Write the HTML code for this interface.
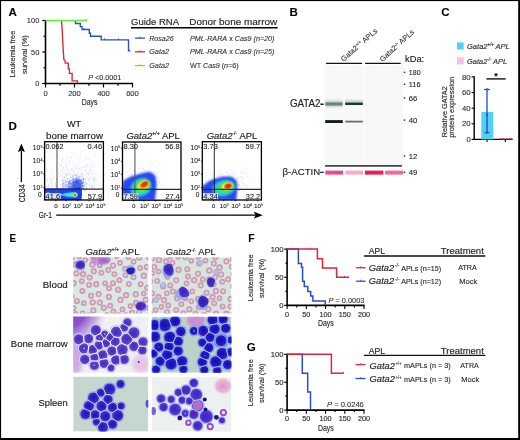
<!DOCTYPE html>
<html><head><meta charset="utf-8"><style>
html,body{margin:0;padding:0;background:#fff;}
body{width:520px;height:440px;overflow:hidden;}
svg{display:block;font-family:"Liberation Sans",sans-serif;will-change:transform;}
text{stroke:#2a2a2a;stroke-width:0.1px;}
.s{stroke-width:0.16px;}
</style></head><body>
<svg width="520" height="440" viewBox="0 0 520 440">
<rect x="0" y="0" width="520" height="440" fill="#fff"/>
<text x="8.50" y="15.80" font-size="11.60" text-anchor="start" fill="#000" font-weight="bold" >A</text>
<text x="289.60" y="15.80" font-size="11.60" text-anchor="start" fill="#000" font-weight="bold" >B</text>
<text x="441.30" y="16.00" font-size="11.60" text-anchor="start" fill="#000" font-weight="bold" >C</text>
<text x="8.40" y="129.80" font-size="11.60" text-anchor="start" fill="#000" font-weight="bold" >D</text>
<text x="9.50" y="241.90" font-size="11.60" text-anchor="start" fill="#000" font-weight="bold" textLength="6.60" lengthAdjust="spacingAndGlyphs" >E</text>
<text x="248.30" y="242.00" font-size="11.60" text-anchor="start" fill="#000" font-weight="bold" textLength="6.40" lengthAdjust="spacingAndGlyphs" >F</text>
<text x="246.80" y="350.70" font-size="11.60" text-anchor="start" fill="#000" font-weight="bold" >G</text>
<line x1="45.50" y1="19.90" x2="45.50" y2="84.30" stroke="#000" stroke-width="1.6"/>
<line x1="44.70" y1="83.50" x2="133.10" y2="83.50" stroke="#000" stroke-width="1.6"/>
<line x1="42.30" y1="20.50" x2="45.50" y2="20.50" stroke="#000" stroke-width="1.2"/>
<line x1="43.50" y1="36.25" x2="45.50" y2="36.25" stroke="#000" stroke-width="1.2"/>
<line x1="42.30" y1="52.00" x2="45.50" y2="52.00" stroke="#000" stroke-width="1.2"/>
<line x1="43.50" y1="67.75" x2="45.50" y2="67.75" stroke="#000" stroke-width="1.2"/>
<line x1="42.30" y1="83.50" x2="45.50" y2="83.50" stroke="#000" stroke-width="1.2"/>
<line x1="45.50" y1="83.50" x2="45.50" y2="87.50" stroke="#000" stroke-width="1.2"/>
<line x1="60.00" y1="83.50" x2="60.00" y2="85.70" stroke="#000" stroke-width="1.2"/>
<line x1="74.50" y1="83.50" x2="74.50" y2="87.50" stroke="#000" stroke-width="1.2"/>
<line x1="89.00" y1="83.50" x2="89.00" y2="85.70" stroke="#000" stroke-width="1.2"/>
<line x1="103.50" y1="83.50" x2="103.50" y2="87.50" stroke="#000" stroke-width="1.2"/>
<line x1="118.00" y1="83.50" x2="118.00" y2="85.70" stroke="#000" stroke-width="1.2"/>
<line x1="132.50" y1="83.50" x2="132.50" y2="87.50" stroke="#000" stroke-width="1.2"/>
<text x="39.30" y="23.40" font-size="7.40" text-anchor="end" fill="#333" textLength="12.45" lengthAdjust="spacingAndGlyphs" >100</text>
<text x="39.30" y="54.90" font-size="7.40" text-anchor="end" fill="#333" textLength="8.30" lengthAdjust="spacingAndGlyphs" >50</text>
<text x="39.30" y="86.40" font-size="7.40" text-anchor="end" fill="#333" textLength="4.15" lengthAdjust="spacingAndGlyphs" >0</text>
<text x="45.50" y="95.80" font-size="7.30" text-anchor="middle" fill="#333" textLength="4.25" lengthAdjust="spacingAndGlyphs" >0</text>
<text x="74.50" y="95.80" font-size="7.30" text-anchor="middle" fill="#333" textLength="12.75" lengthAdjust="spacingAndGlyphs" >200</text>
<text x="103.50" y="95.80" font-size="7.30" text-anchor="middle" fill="#333" textLength="12.75" lengthAdjust="spacingAndGlyphs" >400</text>
<text x="132.50" y="95.80" font-size="7.30" text-anchor="middle" fill="#333" textLength="12.75" lengthAdjust="spacingAndGlyphs" >600</text>
<text x="89.60" y="104.90" font-size="8.40" text-anchor="middle" fill="#333" class="s" textLength="15.60" lengthAdjust="spacingAndGlyphs" >Days</text>
<text transform="translate(15.20,54.10) rotate(-90)" font-size="7.90" text-anchor="middle" fill="#333" class="s" textLength="46.80" lengthAdjust="spacingAndGlyphs" >Leukemia free</text>
<text transform="translate(27.30,54.60) rotate(-90)" font-size="7.90" text-anchor="middle" fill="#333" class="s" textLength="38.90" lengthAdjust="spacingAndGlyphs" >survival (%)</text>
<text x="88.20" y="79.50" font-size="7.30" text-anchor="start" fill="#333" textLength="33.00" lengthAdjust="spacingAndGlyphs" ><tspan font-style="italic">P</tspan> &lt;0.0001</text>
<path d="M61.60,20.50 L61.60,22.30 L62.20,30.00 L62.70,40.00 L63.20,50.00 L63.90,59.60 L65.20,61.00 L65.20,63.10 L68.30,63.10 L68.30,68.90 L69.40,68.90 L69.40,73.30 L72.10,73.30 L72.10,80.90 L77.40,80.90 L77.40,83.30" fill="none" stroke="#d9263a" stroke-width="1.35" stroke-linejoin="miter" stroke-linecap="butt"/>
<path d="M75.50,20.50 L75.50,20.50 L75.50,23.50 L80.30,23.50 L80.30,26.60 L82.00,26.60 L82.00,29.50 L89.30,29.50 L89.30,33.20 L90.50,33.20 L90.50,36.20 L101.20,36.20 L101.20,39.90 L128.50,39.90 L128.50,50.70 L130.20,50.70 L130.20,50.70" fill="none" stroke="#2a50c0" stroke-width="1.4" stroke-linejoin="miter" stroke-linecap="butt"/>
<line x1="84.00" y1="28.00" x2="84.00" y2="29.50" stroke="#2a50c0" stroke-width="0.9"/>
<line x1="104.50" y1="38.40" x2="104.50" y2="39.90" stroke="#2a50c0" stroke-width="0.9"/>
<line x1="118.50" y1="38.40" x2="118.50" y2="39.90" stroke="#2a50c0" stroke-width="0.9"/>
<path d="M45.50,20.50 L86.50,20.50 L86.50,19.00" fill="none" stroke="#5cf03a" stroke-width="1.6" stroke-linejoin="miter" stroke-linecap="butt"/>
<text x="131.00" y="25.10" font-size="9.20" text-anchor="start" fill="#231f20" class="s" textLength="48.00" lengthAdjust="spacingAndGlyphs" >Guide RNA</text>
<text x="189.20" y="25.10" font-size="9.20" text-anchor="start" fill="#231f20" class="s" textLength="88.00" lengthAdjust="spacingAndGlyphs" >Donor bone marrow</text>
<line x1="131.00" y1="27.80" x2="277.70" y2="27.80" stroke="#000" stroke-width="1.6"/>
<line x1="135.00" y1="38.10" x2="145.00" y2="38.10" stroke="#2a50c0" stroke-width="1.3"/>
<line x1="140.00" y1="36.50" x2="140.00" y2="38.10" stroke="#2a50c0" stroke-width="0.8"/>
<text x="149.20" y="40.70" font-size="7.40" text-anchor="start" fill="#333" font-style="italic" textLength="24.50" lengthAdjust="spacingAndGlyphs" >Rosa26</text>
<text x="190.00" y="40.70" font-size="6.90" text-anchor="start" fill="#333" font-style="italic" textLength="84.50" lengthAdjust="spacingAndGlyphs" >PML-RARA<tspan font-style="normal"> x </tspan>Cas9 (<tspan font-style="italic">n</tspan>=20)</text>
<line x1="135.00" y1="51.80" x2="145.00" y2="51.80" stroke="#d9263a" stroke-width="1.3"/>
<line x1="140.00" y1="50.20" x2="140.00" y2="51.80" stroke="#d9263a" stroke-width="0.8"/>
<text x="149.20" y="54.40" font-size="7.40" text-anchor="start" fill="#333" font-style="italic" textLength="19.80" lengthAdjust="spacingAndGlyphs" >Gata2</text>
<text x="190.00" y="54.40" font-size="6.90" text-anchor="start" fill="#333" font-style="italic" textLength="84.50" lengthAdjust="spacingAndGlyphs" >PML-RARA<tspan font-style="normal"> x </tspan>Cas9 (<tspan font-style="italic">n</tspan>=25)</text>
<line x1="135.00" y1="65.60" x2="145.00" y2="65.60" stroke="#5cf03a" stroke-width="1.3"/>
<line x1="140.00" y1="64.00" x2="140.00" y2="65.60" stroke="#5cf03a" stroke-width="0.8"/>
<text x="149.20" y="68.20" font-size="7.40" text-anchor="start" fill="#333" font-style="italic" textLength="19.80" lengthAdjust="spacingAndGlyphs" >Gata2</text>
<text x="190.00" y="68.20" font-size="6.90" text-anchor="start" fill="#333" textLength="48.70" lengthAdjust="spacingAndGlyphs" >WT <tspan font-style="italic">Cas9</tspan> (<tspan font-style="italic">n</tspan>=6)</text>
<rect x="324.3" y="65" width="78.6" height="100" fill="#f8f8f8"/>
<rect x="343.6" y="65" width="1.2" height="100" fill="#fcfcfc"/>
<rect x="363.6" y="65" width="1.2" height="100" fill="#fcfcfc"/>
<rect x="383.6" y="65" width="1.2" height="100" fill="#fcfcfc"/>
<line x1="326.10" y1="63.40" x2="362.00" y2="63.40" stroke="#111" stroke-width="1.4"/>
<line x1="365.20" y1="63.40" x2="400.70" y2="63.40" stroke="#111" stroke-width="1.4"/>
<text transform="translate(343.60,61.90) rotate(-41.5)" font-size="7.40" fill="#333" textLength="45.80" lengthAdjust="spacingAndGlyphs">Gata2<tspan font-size="4.4" dy="-2.6">+/+</tspan><tspan dy="2.6"> APLs</tspan></text>
<text transform="translate(382.40,62.20) rotate(-42.5)" font-size="7.40" fill="#333" textLength="43.80" lengthAdjust="spacingAndGlyphs">Gata2<tspan font-size="4.4" dy="-2.6">-/-</tspan><tspan dy="2.6"> APLs</tspan></text>
<defs><filter id="bl1" x="-20%" y="-200%" width="140%" height="500%"><feGaussianBlur stdDeviation="0.45 0.6"/></filter><filter id="bl2" x="-20%" y="-200%" width="140%" height="500%"><feGaussianBlur stdDeviation="0.5 1.3"/></filter><filter id="bl3" x="-50%" y="-50%" width="200%" height="200%"><feGaussianBlur stdDeviation="0.6"/></filter><filter id="bl4" x="-50%" y="-50%" width="200%" height="200%"><feGaussianBlur stdDeviation="1.2"/></filter><filter id="bl5" x="-50%" y="-50%" width="200%" height="200%"><feGaussianBlur stdDeviation="2.2"/></filter></defs>
<rect x="325.2" y="100.4" width="17.6" height="6.6" fill="#c8d3cf" filter="url(#bl2)"/>
<rect x="325.4" y="102.4" width="17.2" height="3.2" fill="#6f827c" filter="url(#bl1)"/>
<rect x="345.2" y="100.2" width="17.6" height="4" fill="#c3d0cb" filter="url(#bl2)"/>
<rect x="345.2" y="102.6" width="17.6" height="2.4" fill="#1f3631" filter="url(#bl1)"/>
<rect x="325.2" y="120.1" width="17.6" height="2.9" fill="#10231f" filter="url(#bl1)"/>
<rect x="345.2" y="120.7" width="17.6" height="1.8" fill="#5d716b" filter="url(#bl1)"/>
<line x1="325.10" y1="165.80" x2="401.90" y2="165.80" stroke="#444" stroke-width="1.8"/>
<rect x="325.3" y="170.6" width="17.8" height="4.0" fill="#f04a88" filter="url(#bl1)"/>
<rect x="345.4" y="170.6" width="17.6" height="4.0" fill="#fcaacb" filter="url(#bl1)"/>
<rect x="364.9" y="170.6" width="18.5" height="4.0" fill="#f01a4c" filter="url(#bl1)"/>
<rect x="385.1" y="170.6" width="18.1" height="4.0" fill="#f56a9a" filter="url(#bl1)"/>
<text x="289.90" y="106.60" font-size="10.60" text-anchor="start" fill="#222" class="s" textLength="33.90" lengthAdjust="spacingAndGlyphs" >GATA2-</text>
<line x1="320.20" y1="104.10" x2="323.70" y2="104.10" stroke="#222" stroke-width="1.2"/>
<text x="282.60" y="175.10" font-size="9.60" text-anchor="start" fill="#222" class="s" textLength="40.70" lengthAdjust="spacingAndGlyphs" >&#946;-ACTIN-</text>
<line x1="320.20" y1="172.30" x2="323.70" y2="172.30" stroke="#222" stroke-width="1.2"/>
<text x="405.00" y="61.50" font-size="9.30" text-anchor="start" fill="#222" class="s" textLength="19.20" lengthAdjust="spacingAndGlyphs" >kDa:</text>
<line x1="403.70" y1="72.30" x2="405.20" y2="72.30" stroke="#222" stroke-width="1.3"/>
<text x="408.80" y="74.95" font-size="7.50" text-anchor="start" fill="#222" textLength="11.80" lengthAdjust="spacingAndGlyphs" >180</text>
<line x1="403.70" y1="84.30" x2="405.20" y2="84.30" stroke="#222" stroke-width="1.3"/>
<text x="408.80" y="86.95" font-size="7.50" text-anchor="start" fill="#222" textLength="11.80" lengthAdjust="spacingAndGlyphs" >116</text>
<line x1="403.70" y1="98.00" x2="405.20" y2="98.00" stroke="#222" stroke-width="1.3"/>
<text x="408.80" y="100.65" font-size="7.50" text-anchor="start" fill="#222" textLength="8.60" lengthAdjust="spacingAndGlyphs" >66</text>
<line x1="403.70" y1="120.10" x2="405.20" y2="120.10" stroke="#222" stroke-width="1.3"/>
<text x="408.80" y="122.75" font-size="7.50" text-anchor="start" fill="#222" textLength="8.60" lengthAdjust="spacingAndGlyphs" >40</text>
<line x1="403.70" y1="156.10" x2="405.20" y2="156.10" stroke="#222" stroke-width="1.3"/>
<text x="408.80" y="158.75" font-size="7.50" text-anchor="start" fill="#222" textLength="8.60" lengthAdjust="spacingAndGlyphs" >12</text>
<line x1="403.70" y1="172.30" x2="405.20" y2="172.30" stroke="#222" stroke-width="1.3"/>
<text x="408.80" y="174.95" font-size="7.50" text-anchor="start" fill="#222" textLength="8.60" lengthAdjust="spacingAndGlyphs" >49</text>
<rect x="457.0" y="42.4" width="6.7" height="7.1" fill="#4fd2f6"/>
<rect x="457.0" y="57.3" width="6.7" height="7.2" fill="#f3c2e3"/>
<text x="467.00" y="49.20" font-size="7.90" text-anchor="start" fill="#333" font-style="italic" class="s" textLength="42.80" lengthAdjust="spacingAndGlyphs" >Gata2<tspan font-size="4.5" dy="-2.8">+/+</tspan><tspan dy="2.8"> APL</tspan></text>
<text x="467.00" y="63.90" font-size="7.90" text-anchor="start" fill="#333" font-style="italic" class="s" textLength="40.20" lengthAdjust="spacingAndGlyphs" >Gata2<tspan font-size="4.5" dy="-2.8">-/-</tspan><tspan dy="2.8"> APL</tspan></text>
<line x1="474.20" y1="76.30" x2="474.20" y2="140.10" stroke="#000" stroke-width="1.4"/>
<line x1="473.50" y1="139.40" x2="512.60" y2="139.40" stroke="#000" stroke-width="1.4"/>
<line x1="471.60" y1="139.40" x2="474.20" y2="139.40" stroke="#000" stroke-width="1.1"/>
<text x="470.70" y="142.00" font-size="7.40" text-anchor="end" fill="#333" textLength="4.20" lengthAdjust="spacingAndGlyphs" >0</text>
<line x1="471.60" y1="123.78" x2="474.20" y2="123.78" stroke="#000" stroke-width="1.1"/>
<text x="470.70" y="126.38" font-size="7.40" text-anchor="end" fill="#333" textLength="8.70" lengthAdjust="spacingAndGlyphs" >20</text>
<line x1="471.60" y1="108.15" x2="474.20" y2="108.15" stroke="#000" stroke-width="1.1"/>
<text x="470.70" y="110.75" font-size="7.40" text-anchor="end" fill="#333" textLength="8.70" lengthAdjust="spacingAndGlyphs" >40</text>
<line x1="471.60" y1="92.53" x2="474.20" y2="92.53" stroke="#000" stroke-width="1.1"/>
<text x="470.70" y="95.12" font-size="7.40" text-anchor="end" fill="#333" textLength="8.70" lengthAdjust="spacingAndGlyphs" >60</text>
<line x1="471.60" y1="76.90" x2="474.20" y2="76.90" stroke="#000" stroke-width="1.1"/>
<text x="470.70" y="79.50" font-size="7.40" text-anchor="end" fill="#333" textLength="8.70" lengthAdjust="spacingAndGlyphs" >80</text>
<line x1="487.00" y1="139.40" x2="487.00" y2="142.00" stroke="#000" stroke-width="1.1"/>
<line x1="505.30" y1="139.40" x2="505.30" y2="142.00" stroke="#000" stroke-width="1.1"/>
<rect x="481.3" y="111.9" width="11.9" height="27.5" fill="#4fd2f6"/>
<line x1="487.00" y1="89.50" x2="487.00" y2="132.70" stroke="#2448b8" stroke-width="1.3"/>
<line x1="484.00" y1="89.50" x2="490.00" y2="89.50" stroke="#2a50c0" stroke-width="1.2"/>
<line x1="484.60" y1="132.70" x2="489.40" y2="132.70" stroke="#2a50c0" stroke-width="1.2"/>
<circle cx="487" cy="89.3" r="1.1" fill="#2a50c0"/>
<circle cx="487" cy="114.8" r="1.1" fill="#2a50c0"/>
<circle cx="487" cy="132.6" r="1.1" fill="#2a50c0"/>
<circle cx="500.5" cy="139.0" r="0.9" fill="#e0203a"/>
<circle cx="503.5" cy="139.0" r="0.9" fill="#e0203a"/>
<circle cx="506.5" cy="139.0" r="0.9" fill="#e0203a"/>
<circle cx="509.5" cy="139.0" r="0.9" fill="#e0203a"/>
<circle cx="511.5" cy="139.0" r="0.9" fill="#e0203a"/>
<line x1="486.40" y1="78.90" x2="505.70" y2="78.90" stroke="#000" stroke-width="1.3"/>
<text x="496.00" y="78.60" font-size="9.00" text-anchor="middle" fill="#000" font-weight="bold" >*</text>
<text transform="translate(446.90,111.80) rotate(-90)" font-size="8.00" text-anchor="middle" fill="#333" class="s" textLength="51.10" lengthAdjust="spacingAndGlyphs" >Relative GATA2</text>
<text transform="translate(454.20,107.30) rotate(-90)" font-size="8.00" text-anchor="middle" fill="#333" class="s" textLength="61.00" lengthAdjust="spacingAndGlyphs" >protein expression</text>
<defs><clipPath id="cp0"><rect x="44.6" y="141.7" width="58.8" height="58.3"/></clipPath><clipPath id="cp1"><rect x="122.5" y="142.0" width="58.5" height="58.2"/></clipPath><clipPath id="cp2"><rect x="202.3" y="141.7" width="59.1" height="58.3"/></clipPath></defs>
<g clip-path="url(#cp0)">
<g fill="#5a70f0" fill-opacity="0.3"><circle cx="71.8" cy="178.3" r="0.4"/><circle cx="98.7" cy="175.7" r="0.4"/><circle cx="74.9" cy="179.0" r="0.4"/><circle cx="56.5" cy="177.0" r="0.4"/><circle cx="81.9" cy="183.8" r="0.4"/><circle cx="51.4" cy="170.4" r="0.4"/><circle cx="51.2" cy="184.2" r="0.4"/><circle cx="85.5" cy="155.9" r="0.4"/><circle cx="102.0" cy="187.3" r="0.4"/><circle cx="83.3" cy="179.7" r="0.4"/><circle cx="55.0" cy="152.2" r="0.4"/><circle cx="76.1" cy="157.7" r="0.4"/><circle cx="56.8" cy="168.0" r="0.4"/><circle cx="47.7" cy="175.6" r="0.4"/><circle cx="71.1" cy="184.9" r="0.4"/><circle cx="75.6" cy="180.3" r="0.4"/><circle cx="74.5" cy="180.8" r="0.4"/><circle cx="72.1" cy="169.5" r="0.4"/><circle cx="102.9" cy="187.9" r="0.4"/><circle cx="93.9" cy="181.9" r="0.4"/><circle cx="64.0" cy="167.5" r="0.4"/><circle cx="62.5" cy="158.6" r="0.4"/><circle cx="89.7" cy="173.7" r="0.4"/><circle cx="94.3" cy="173.3" r="0.4"/><circle cx="100.6" cy="185.0" r="0.4"/><circle cx="46.0" cy="166.6" r="0.4"/><circle cx="97.9" cy="175.8" r="0.4"/><circle cx="101.9" cy="173.6" r="0.4"/><circle cx="50.2" cy="180.0" r="0.4"/><circle cx="90.4" cy="169.2" r="0.4"/><circle cx="51.0" cy="171.5" r="0.4"/><circle cx="101.0" cy="183.0" r="0.4"/><circle cx="52.7" cy="168.2" r="0.4"/><circle cx="51.8" cy="157.7" r="0.4"/><circle cx="91.4" cy="165.2" r="0.4"/><circle cx="77.9" cy="175.1" r="0.4"/><circle cx="56.9" cy="182.4" r="0.4"/><circle cx="53.5" cy="180.4" r="0.4"/><circle cx="52.6" cy="174.3" r="0.4"/><circle cx="58.1" cy="169.2" r="0.4"/><circle cx="101.3" cy="184.0" r="0.4"/><circle cx="63.3" cy="185.7" r="0.4"/><circle cx="58.0" cy="173.5" r="0.4"/><circle cx="94.7" cy="180.3" r="0.4"/><circle cx="51.7" cy="187.8" r="0.4"/><circle cx="58.2" cy="168.7" r="0.4"/><circle cx="90.0" cy="171.3" r="0.4"/><circle cx="62.9" cy="158.8" r="0.4"/><circle cx="51.1" cy="178.9" r="0.4"/><circle cx="59.9" cy="179.3" r="0.4"/><circle cx="67.2" cy="175.3" r="0.4"/><circle cx="100.7" cy="176.2" r="0.4"/><circle cx="78.8" cy="185.4" r="0.4"/><circle cx="56.4" cy="164.0" r="0.4"/><circle cx="97.8" cy="184.3" r="0.4"/><circle cx="60.2" cy="165.7" r="0.4"/><circle cx="88.1" cy="186.8" r="0.4"/><circle cx="57.2" cy="187.0" r="0.4"/><circle cx="96.3" cy="179.4" r="0.4"/><circle cx="70.0" cy="161.0" r="0.4"/><circle cx="48.2" cy="187.3" r="0.4"/><circle cx="59.6" cy="181.8" r="0.4"/><circle cx="60.6" cy="184.5" r="0.4"/><circle cx="80.0" cy="170.1" r="0.4"/><circle cx="56.0" cy="182.2" r="0.4"/><circle cx="49.9" cy="167.5" r="0.4"/><circle cx="77.9" cy="185.1" r="0.4"/><circle cx="81.0" cy="169.6" r="0.4"/><circle cx="98.3" cy="166.4" r="0.4"/><circle cx="46.9" cy="169.1" r="0.4"/><circle cx="71.4" cy="157.7" r="0.4"/><circle cx="56.0" cy="172.7" r="0.4"/><circle cx="78.6" cy="162.7" r="0.4"/><circle cx="66.6" cy="185.9" r="0.4"/><circle cx="101.9" cy="180.7" r="0.4"/><circle cx="85.4" cy="178.9" r="0.4"/><circle cx="54.0" cy="155.2" r="0.4"/><circle cx="47.0" cy="186.2" r="0.4"/><circle cx="86.0" cy="187.3" r="0.4"/><circle cx="47.2" cy="180.2" r="0.4"/><circle cx="73.5" cy="182.4" r="0.4"/><circle cx="64.2" cy="188.0" r="0.4"/><circle cx="50.3" cy="177.9" r="0.4"/><circle cx="88.0" cy="186.0" r="0.4"/><circle cx="88.0" cy="181.8" r="0.4"/><circle cx="91.2" cy="186.3" r="0.4"/><circle cx="66.1" cy="181.4" r="0.4"/><circle cx="97.3" cy="185.4" r="0.4"/><circle cx="69.8" cy="183.7" r="0.4"/><circle cx="95.2" cy="178.6" r="0.4"/><circle cx="81.6" cy="173.1" r="0.4"/><circle cx="79.2" cy="179.5" r="0.4"/><circle cx="50.6" cy="180.3" r="0.4"/><circle cx="102.6" cy="185.6" r="0.4"/><circle cx="87.5" cy="173.3" r="0.4"/><circle cx="87.9" cy="178.8" r="0.4"/><circle cx="71.1" cy="184.8" r="0.4"/><circle cx="50.8" cy="182.9" r="0.4"/><circle cx="47.7" cy="179.3" r="0.4"/><circle cx="73.4" cy="167.5" r="0.4"/><circle cx="85.8" cy="176.6" r="0.4"/><circle cx="81.0" cy="186.4" r="0.4"/><circle cx="60.6" cy="151.5" r="0.4"/><circle cx="63.2" cy="181.2" r="0.4"/><circle cx="57.5" cy="164.7" r="0.4"/><circle cx="97.6" cy="180.8" r="0.4"/><circle cx="71.2" cy="185.9" r="0.4"/><circle cx="64.6" cy="180.9" r="0.4"/><circle cx="57.3" cy="174.6" r="0.4"/><circle cx="91.9" cy="186.3" r="0.4"/><circle cx="96.2" cy="173.2" r="0.4"/><circle cx="79.2" cy="170.9" r="0.4"/><circle cx="53.8" cy="176.6" r="0.4"/><circle cx="93.7" cy="185.0" r="0.4"/><circle cx="86.5" cy="187.0" r="0.4"/><circle cx="61.8" cy="164.7" r="0.4"/><circle cx="71.7" cy="169.4" r="0.4"/><circle cx="58.2" cy="174.1" r="0.4"/><circle cx="81.7" cy="176.5" r="0.4"/><circle cx="64.0" cy="184.8" r="0.4"/><circle cx="102.0" cy="175.3" r="0.4"/><circle cx="50.3" cy="154.7" r="0.4"/><circle cx="95.8" cy="155.9" r="0.4"/><circle cx="86.4" cy="178.5" r="0.4"/><circle cx="63.6" cy="183.8" r="0.4"/><circle cx="47.1" cy="163.0" r="0.4"/><circle cx="71.9" cy="153.8" r="0.4"/><circle cx="93.3" cy="167.8" r="0.4"/><circle cx="54.0" cy="156.5" r="0.4"/><circle cx="81.9" cy="175.1" r="0.4"/><circle cx="81.9" cy="180.7" r="0.4"/><circle cx="92.0" cy="187.2" r="0.4"/><circle cx="85.0" cy="166.2" r="0.4"/><circle cx="73.1" cy="165.2" r="0.4"/><circle cx="46.6" cy="175.9" r="0.4"/><circle cx="86.7" cy="165.2" r="0.4"/><circle cx="61.5" cy="171.9" r="0.4"/><circle cx="85.7" cy="177.2" r="0.4"/><circle cx="81.0" cy="183.0" r="0.4"/><circle cx="68.4" cy="183.8" r="0.4"/><circle cx="97.7" cy="159.9" r="0.4"/><circle cx="99.2" cy="182.2" r="0.4"/><circle cx="53.4" cy="175.3" r="0.4"/><circle cx="81.7" cy="186.2" r="0.4"/><circle cx="67.5" cy="178.5" r="0.4"/><circle cx="96.1" cy="183.9" r="0.4"/><circle cx="99.8" cy="175.6" r="0.4"/><circle cx="83.1" cy="166.4" r="0.4"/><circle cx="87.2" cy="184.3" r="0.4"/><circle cx="82.6" cy="182.1" r="0.4"/><circle cx="58.2" cy="186.0" r="0.4"/><circle cx="101.9" cy="187.6" r="0.4"/><circle cx="76.6" cy="183.7" r="0.4"/><circle cx="64.3" cy="186.2" r="0.4"/><circle cx="94.8" cy="172.0" r="0.4"/><circle cx="50.7" cy="174.9" r="0.4"/><circle cx="77.4" cy="183.3" r="0.4"/><circle cx="73.8" cy="154.3" r="0.4"/><circle cx="92.1" cy="158.0" r="0.4"/><circle cx="91.6" cy="164.9" r="0.4"/><circle cx="65.1" cy="183.7" r="0.4"/><circle cx="54.0" cy="163.7" r="0.4"/><circle cx="75.4" cy="182.3" r="0.4"/><circle cx="93.9" cy="181.5" r="0.4"/><circle cx="99.9" cy="176.4" r="0.4"/><circle cx="100.1" cy="159.8" r="0.4"/><circle cx="58.6" cy="177.4" r="0.4"/><circle cx="62.5" cy="182.4" r="0.4"/><circle cx="82.4" cy="177.3" r="0.4"/><circle cx="94.1" cy="178.3" r="0.4"/><circle cx="63.8" cy="173.1" r="0.4"/><circle cx="94.2" cy="186.0" r="0.4"/><circle cx="57.9" cy="185.0" r="0.4"/><circle cx="101.2" cy="177.3" r="0.4"/><circle cx="78.7" cy="166.3" r="0.4"/><circle cx="76.5" cy="176.7" r="0.4"/><circle cx="80.5" cy="154.2" r="0.4"/><circle cx="101.3" cy="177.1" r="0.4"/><circle cx="68.8" cy="184.0" r="0.4"/><circle cx="78.1" cy="176.4" r="0.4"/><circle cx="85.4" cy="158.2" r="0.4"/><circle cx="76.7" cy="174.1" r="0.4"/><circle cx="100.5" cy="186.5" r="0.4"/><circle cx="61.3" cy="175.9" r="0.4"/><circle cx="53.2" cy="174.7" r="0.4"/><circle cx="92.5" cy="186.0" r="0.4"/><circle cx="73.2" cy="170.9" r="0.4"/><circle cx="56.9" cy="179.7" r="0.4"/><circle cx="98.7" cy="162.6" r="0.4"/><circle cx="90.4" cy="153.5" r="0.4"/><circle cx="57.1" cy="167.4" r="0.4"/><circle cx="85.2" cy="171.1" r="0.4"/><circle cx="66.3" cy="179.8" r="0.4"/><circle cx="52.0" cy="182.4" r="0.4"/><circle cx="53.0" cy="176.9" r="0.4"/><circle cx="60.3" cy="166.1" r="0.4"/><circle cx="76.2" cy="174.8" r="0.4"/><circle cx="67.4" cy="174.1" r="0.4"/><circle cx="76.2" cy="164.2" r="0.4"/><circle cx="57.6" cy="180.1" r="0.4"/></g>
<g fill="#4a66f0" fill-opacity="0.3"><circle cx="82.3" cy="177.1" r="0.4"/><circle cx="89.8" cy="179.3" r="0.4"/><circle cx="90.0" cy="167.3" r="0.4"/><circle cx="85.9" cy="184.0" r="0.4"/><circle cx="91.6" cy="170.5" r="0.4"/><circle cx="71.0" cy="186.4" r="0.4"/><circle cx="67.6" cy="188.0" r="0.4"/><circle cx="91.1" cy="162.6" r="0.4"/><circle cx="68.4" cy="182.1" r="0.4"/><circle cx="69.1" cy="160.5" r="0.4"/><circle cx="89.1" cy="174.0" r="0.4"/><circle cx="87.6" cy="162.2" r="0.4"/><circle cx="74.1" cy="181.1" r="0.4"/><circle cx="60.6" cy="165.9" r="0.4"/><circle cx="83.9" cy="186.2" r="0.4"/><circle cx="93.9" cy="161.6" r="0.4"/><circle cx="77.7" cy="182.8" r="0.4"/><circle cx="77.6" cy="181.1" r="0.4"/><circle cx="66.6" cy="158.6" r="0.4"/><circle cx="63.7" cy="155.7" r="0.4"/><circle cx="79.3" cy="176.7" r="0.4"/><circle cx="79.9" cy="163.3" r="0.4"/><circle cx="66.5" cy="166.1" r="0.4"/><circle cx="89.4" cy="187.8" r="0.4"/><circle cx="92.4" cy="160.3" r="0.4"/><circle cx="62.2" cy="187.0" r="0.4"/><circle cx="76.2" cy="183.0" r="0.4"/><circle cx="71.4" cy="175.3" r="0.4"/><circle cx="78.0" cy="174.2" r="0.4"/><circle cx="81.0" cy="152.6" r="0.4"/><circle cx="84.5" cy="184.8" r="0.4"/><circle cx="66.3" cy="175.0" r="0.4"/><circle cx="85.9" cy="173.5" r="0.4"/><circle cx="66.8" cy="164.3" r="0.4"/><circle cx="77.9" cy="153.0" r="0.4"/><circle cx="91.3" cy="183.8" r="0.4"/><circle cx="84.7" cy="185.1" r="0.4"/><circle cx="82.0" cy="173.4" r="0.4"/><circle cx="81.0" cy="176.4" r="0.4"/><circle cx="94.4" cy="183.9" r="0.4"/><circle cx="69.0" cy="186.2" r="0.4"/><circle cx="86.1" cy="183.3" r="0.4"/><circle cx="88.5" cy="173.5" r="0.4"/><circle cx="91.4" cy="185.5" r="0.4"/><circle cx="84.3" cy="183.0" r="0.4"/><circle cx="86.8" cy="173.5" r="0.4"/><circle cx="85.3" cy="158.6" r="0.4"/><circle cx="72.0" cy="175.4" r="0.4"/><circle cx="60.4" cy="171.9" r="0.4"/><circle cx="82.4" cy="179.6" r="0.4"/><circle cx="68.1" cy="186.9" r="0.4"/><circle cx="83.3" cy="171.2" r="0.4"/><circle cx="83.1" cy="178.2" r="0.4"/><circle cx="78.7" cy="173.0" r="0.4"/><circle cx="95.0" cy="180.1" r="0.4"/><circle cx="84.5" cy="182.9" r="0.4"/><circle cx="94.3" cy="154.0" r="0.4"/><circle cx="81.5" cy="182.4" r="0.4"/><circle cx="69.0" cy="173.3" r="0.4"/><circle cx="61.8" cy="165.7" r="0.4"/><circle cx="73.1" cy="160.6" r="0.4"/><circle cx="68.8" cy="186.1" r="0.4"/><circle cx="79.3" cy="176.5" r="0.4"/><circle cx="93.8" cy="178.1" r="0.4"/><circle cx="94.8" cy="180.0" r="0.4"/><circle cx="88.3" cy="159.0" r="0.4"/><circle cx="80.9" cy="182.9" r="0.4"/><circle cx="61.6" cy="186.6" r="0.4"/><circle cx="65.6" cy="175.5" r="0.4"/><circle cx="65.9" cy="176.2" r="0.4"/><circle cx="81.4" cy="157.7" r="0.4"/><circle cx="93.1" cy="173.9" r="0.4"/><circle cx="78.4" cy="178.9" r="0.4"/><circle cx="72.8" cy="169.4" r="0.4"/><circle cx="82.9" cy="178.0" r="0.4"/><circle cx="69.9" cy="181.9" r="0.4"/><circle cx="70.4" cy="152.7" r="0.4"/><circle cx="68.6" cy="156.3" r="0.4"/><circle cx="65.5" cy="182.7" r="0.4"/><circle cx="73.6" cy="185.9" r="0.4"/><circle cx="86.2" cy="157.0" r="0.4"/><circle cx="94.6" cy="186.9" r="0.4"/><circle cx="62.6" cy="186.1" r="0.4"/><circle cx="75.0" cy="175.6" r="0.4"/><circle cx="94.1" cy="167.7" r="0.4"/><circle cx="78.3" cy="186.7" r="0.4"/><circle cx="85.3" cy="175.4" r="0.4"/><circle cx="94.3" cy="184.1" r="0.4"/><circle cx="81.1" cy="161.6" r="0.4"/><circle cx="81.8" cy="175.0" r="0.4"/><circle cx="67.1" cy="157.1" r="0.4"/><circle cx="78.5" cy="162.1" r="0.4"/><circle cx="75.5" cy="180.7" r="0.4"/><circle cx="75.9" cy="168.5" r="0.4"/><circle cx="80.4" cy="173.9" r="0.4"/><circle cx="87.2" cy="177.1" r="0.4"/><circle cx="94.9" cy="187.0" r="0.4"/><circle cx="85.7" cy="167.5" r="0.4"/><circle cx="64.0" cy="185.8" r="0.4"/><circle cx="87.5" cy="179.6" r="0.4"/><circle cx="72.6" cy="168.8" r="0.4"/><circle cx="84.0" cy="178.1" r="0.4"/><circle cx="80.7" cy="179.8" r="0.4"/><circle cx="86.4" cy="165.4" r="0.4"/><circle cx="68.7" cy="187.6" r="0.4"/><circle cx="92.1" cy="185.5" r="0.4"/><circle cx="61.4" cy="157.9" r="0.4"/><circle cx="69.5" cy="174.1" r="0.4"/><circle cx="81.8" cy="160.8" r="0.4"/><circle cx="79.0" cy="158.8" r="0.4"/><circle cx="63.0" cy="180.9" r="0.4"/><circle cx="79.3" cy="179.8" r="0.4"/><circle cx="73.1" cy="175.7" r="0.4"/><circle cx="67.4" cy="171.5" r="0.4"/><circle cx="86.1" cy="184.6" r="0.4"/><circle cx="62.6" cy="161.8" r="0.4"/><circle cx="88.3" cy="179.6" r="0.4"/><circle cx="86.9" cy="166.5" r="0.4"/><circle cx="74.9" cy="168.3" r="0.4"/><circle cx="88.3" cy="172.3" r="0.4"/><circle cx="82.9" cy="187.8" r="0.4"/><circle cx="71.4" cy="177.6" r="0.4"/><circle cx="86.1" cy="186.4" r="0.4"/><circle cx="75.0" cy="172.3" r="0.4"/><circle cx="63.4" cy="185.4" r="0.4"/><circle cx="62.7" cy="159.5" r="0.4"/><circle cx="79.7" cy="175.9" r="0.4"/><circle cx="84.0" cy="169.9" r="0.4"/><circle cx="87.1" cy="159.0" r="0.4"/><circle cx="67.5" cy="180.5" r="0.4"/><circle cx="62.9" cy="170.0" r="0.4"/><circle cx="85.4" cy="181.3" r="0.4"/><circle cx="69.9" cy="163.1" r="0.4"/><circle cx="72.5" cy="182.1" r="0.4"/><circle cx="72.8" cy="161.7" r="0.4"/><circle cx="84.8" cy="178.2" r="0.4"/><circle cx="92.1" cy="186.8" r="0.4"/><circle cx="92.0" cy="174.5" r="0.4"/><circle cx="88.1" cy="170.1" r="0.4"/><circle cx="71.1" cy="173.3" r="0.4"/><circle cx="92.7" cy="185.8" r="0.4"/><circle cx="68.7" cy="172.1" r="0.4"/><circle cx="72.8" cy="172.1" r="0.4"/><circle cx="73.8" cy="172.9" r="0.4"/><circle cx="66.8" cy="178.0" r="0.4"/><circle cx="87.9" cy="177.4" r="0.4"/><circle cx="89.3" cy="178.0" r="0.4"/><circle cx="66.2" cy="182.8" r="0.4"/><circle cx="90.8" cy="169.2" r="0.4"/><circle cx="60.8" cy="176.7" r="0.4"/><circle cx="79.0" cy="178.1" r="0.4"/><circle cx="93.8" cy="180.3" r="0.4"/><circle cx="88.2" cy="158.1" r="0.4"/><circle cx="79.1" cy="183.5" r="0.4"/><circle cx="62.9" cy="159.4" r="0.4"/><circle cx="85.8" cy="185.9" r="0.4"/><circle cx="63.0" cy="179.9" r="0.4"/><circle cx="65.0" cy="182.5" r="0.4"/><circle cx="82.7" cy="167.8" r="0.4"/><circle cx="67.7" cy="183.0" r="0.4"/><circle cx="78.3" cy="183.0" r="0.4"/><circle cx="73.8" cy="171.2" r="0.4"/><circle cx="93.9" cy="180.8" r="0.4"/><circle cx="77.3" cy="177.3" r="0.4"/><circle cx="85.2" cy="181.7" r="0.4"/><circle cx="92.0" cy="173.6" r="0.4"/><circle cx="88.9" cy="180.7" r="0.4"/><circle cx="89.9" cy="183.9" r="0.4"/><circle cx="89.2" cy="185.7" r="0.4"/><circle cx="93.5" cy="180.0" r="0.4"/><circle cx="78.3" cy="181.7" r="0.4"/><circle cx="88.1" cy="174.0" r="0.4"/><circle cx="74.7" cy="163.3" r="0.4"/><circle cx="85.9" cy="187.8" r="0.4"/><circle cx="73.1" cy="164.4" r="0.4"/><circle cx="67.2" cy="174.1" r="0.4"/><circle cx="70.2" cy="187.4" r="0.4"/><circle cx="62.1" cy="170.2" r="0.4"/><circle cx="64.0" cy="180.2" r="0.4"/><circle cx="87.2" cy="164.9" r="0.4"/><circle cx="62.2" cy="175.1" r="0.4"/><circle cx="80.4" cy="186.1" r="0.4"/><circle cx="61.3" cy="161.2" r="0.4"/><circle cx="66.5" cy="166.6" r="0.4"/><circle cx="68.2" cy="181.9" r="0.4"/><circle cx="80.8" cy="166.9" r="0.4"/><circle cx="66.5" cy="169.2" r="0.4"/><circle cx="66.0" cy="182.8" r="0.4"/><circle cx="70.9" cy="177.6" r="0.4"/><circle cx="88.6" cy="175.7" r="0.4"/><circle cx="69.1" cy="185.7" r="0.4"/><circle cx="92.0" cy="171.4" r="0.4"/><circle cx="79.2" cy="187.1" r="0.4"/><circle cx="76.9" cy="166.8" r="0.4"/><circle cx="61.7" cy="186.9" r="0.4"/><circle cx="88.0" cy="172.8" r="0.4"/><circle cx="78.5" cy="176.7" r="0.4"/><circle cx="69.6" cy="187.8" r="0.4"/><circle cx="83.0" cy="167.5" r="0.4"/><circle cx="60.4" cy="175.5" r="0.4"/><circle cx="73.0" cy="183.7" r="0.4"/><circle cx="85.0" cy="179.1" r="0.4"/><circle cx="65.5" cy="163.8" r="0.4"/><circle cx="71.3" cy="168.4" r="0.4"/><circle cx="90.4" cy="176.7" r="0.4"/><circle cx="82.3" cy="187.9" r="0.4"/><circle cx="69.3" cy="177.2" r="0.4"/><circle cx="65.3" cy="183.1" r="0.4"/><circle cx="60.0" cy="184.3" r="0.4"/><circle cx="89.6" cy="184.3" r="0.4"/><circle cx="62.9" cy="168.8" r="0.4"/><circle cx="85.1" cy="160.5" r="0.4"/><circle cx="76.8" cy="175.4" r="0.4"/><circle cx="93.4" cy="178.6" r="0.4"/><circle cx="90.0" cy="170.0" r="0.4"/><circle cx="87.6" cy="173.8" r="0.4"/><circle cx="92.1" cy="160.1" r="0.4"/><circle cx="88.9" cy="166.3" r="0.4"/><circle cx="79.0" cy="177.0" r="0.4"/><circle cx="65.5" cy="184.5" r="0.4"/><circle cx="70.9" cy="170.3" r="0.4"/><circle cx="62.7" cy="170.1" r="0.4"/><circle cx="76.4" cy="181.8" r="0.4"/><circle cx="72.6" cy="181.2" r="0.4"/><circle cx="63.7" cy="173.1" r="0.4"/><circle cx="76.2" cy="187.3" r="0.4"/><circle cx="89.0" cy="180.3" r="0.4"/><circle cx="60.4" cy="172.6" r="0.4"/><circle cx="84.9" cy="167.5" r="0.4"/><circle cx="79.7" cy="175.1" r="0.4"/><circle cx="60.4" cy="187.8" r="0.4"/><circle cx="88.0" cy="166.2" r="0.4"/><circle cx="81.6" cy="169.6" r="0.4"/><circle cx="73.2" cy="177.4" r="0.4"/><circle cx="70.4" cy="171.2" r="0.4"/><circle cx="73.7" cy="180.7" r="0.4"/><circle cx="69.0" cy="165.9" r="0.4"/><circle cx="85.6" cy="171.0" r="0.4"/><circle cx="93.1" cy="178.0" r="0.4"/><circle cx="85.3" cy="171.0" r="0.4"/><circle cx="88.9" cy="160.2" r="0.4"/><circle cx="64.9" cy="160.3" r="0.4"/><circle cx="83.7" cy="181.7" r="0.4"/><circle cx="66.3" cy="173.4" r="0.4"/><circle cx="89.3" cy="178.8" r="0.4"/><circle cx="63.2" cy="167.0" r="0.4"/><circle cx="65.5" cy="162.1" r="0.4"/><circle cx="74.2" cy="158.8" r="0.4"/><circle cx="92.2" cy="174.1" r="0.4"/><circle cx="77.9" cy="180.2" r="0.4"/><circle cx="86.8" cy="184.2" r="0.4"/><circle cx="73.5" cy="171.0" r="0.4"/><circle cx="74.4" cy="153.0" r="0.4"/><circle cx="74.0" cy="181.5" r="0.4"/><circle cx="94.4" cy="183.5" r="0.4"/><circle cx="83.1" cy="179.2" r="0.4"/><circle cx="60.6" cy="171.0" r="0.4"/><circle cx="72.0" cy="180.3" r="0.4"/><circle cx="63.7" cy="172.6" r="0.4"/><circle cx="77.8" cy="183.5" r="0.4"/><circle cx="88.9" cy="179.3" r="0.4"/><circle cx="65.5" cy="183.0" r="0.4"/><circle cx="91.6" cy="177.6" r="0.4"/><circle cx="72.3" cy="176.3" r="0.4"/><circle cx="65.0" cy="181.8" r="0.4"/><circle cx="94.5" cy="176.7" r="0.4"/><circle cx="85.0" cy="184.6" r="0.4"/><circle cx="66.9" cy="186.9" r="0.4"/><circle cx="81.9" cy="165.8" r="0.4"/><circle cx="62.9" cy="167.8" r="0.4"/><circle cx="80.2" cy="181.4" r="0.4"/><circle cx="71.5" cy="186.6" r="0.4"/><circle cx="72.6" cy="175.2" r="0.4"/><circle cx="64.3" cy="187.5" r="0.4"/><circle cx="64.7" cy="186.0" r="0.4"/><circle cx="79.0" cy="178.0" r="0.4"/><circle cx="79.6" cy="168.6" r="0.4"/><circle cx="91.8" cy="187.8" r="0.4"/><circle cx="88.6" cy="179.0" r="0.4"/><circle cx="64.3" cy="184.3" r="0.4"/><circle cx="70.1" cy="185.9" r="0.4"/><circle cx="68.4" cy="178.3" r="0.4"/><circle cx="89.1" cy="165.2" r="0.4"/><circle cx="79.2" cy="159.0" r="0.4"/><circle cx="61.1" cy="165.0" r="0.4"/><circle cx="94.5" cy="186.8" r="0.4"/><circle cx="83.0" cy="170.2" r="0.4"/><circle cx="83.5" cy="182.4" r="0.4"/><circle cx="73.4" cy="178.8" r="0.4"/><circle cx="88.1" cy="153.1" r="0.4"/><circle cx="67.0" cy="175.4" r="0.4"/><circle cx="65.0" cy="172.9" r="0.4"/><circle cx="79.9" cy="164.7" r="0.4"/><circle cx="78.2" cy="168.5" r="0.4"/><circle cx="79.9" cy="171.1" r="0.4"/><circle cx="82.5" cy="155.8" r="0.4"/><circle cx="83.5" cy="163.2" r="0.4"/><circle cx="93.6" cy="179.0" r="0.4"/><circle cx="76.4" cy="173.7" r="0.4"/><circle cx="81.8" cy="181.2" r="0.4"/><circle cx="86.5" cy="182.7" r="0.4"/><circle cx="77.0" cy="187.9" r="0.4"/><circle cx="89.3" cy="185.0" r="0.4"/><circle cx="74.3" cy="174.4" r="0.4"/><circle cx="79.8" cy="186.1" r="0.4"/><circle cx="78.4" cy="177.0" r="0.4"/><circle cx="75.1" cy="186.0" r="0.4"/><circle cx="71.2" cy="157.4" r="0.4"/><circle cx="85.4" cy="186.0" r="0.4"/><circle cx="85.6" cy="178.9" r="0.4"/><circle cx="86.3" cy="170.1" r="0.4"/><circle cx="80.8" cy="158.6" r="0.4"/><circle cx="64.4" cy="174.7" r="0.4"/><circle cx="77.6" cy="173.2" r="0.4"/><circle cx="61.8" cy="181.3" r="0.4"/><circle cx="78.4" cy="167.6" r="0.4"/><circle cx="70.7" cy="173.2" r="0.4"/><circle cx="68.3" cy="158.5" r="0.4"/><circle cx="91.9" cy="187.3" r="0.4"/><circle cx="83.3" cy="185.2" r="0.4"/><circle cx="74.7" cy="183.9" r="0.4"/><circle cx="67.8" cy="182.6" r="0.4"/><circle cx="79.8" cy="186.0" r="0.4"/><circle cx="63.4" cy="183.6" r="0.4"/><circle cx="64.3" cy="177.3" r="0.4"/><circle cx="93.3" cy="149.0" r="0.4"/><circle cx="68.5" cy="169.9" r="0.4"/><circle cx="71.4" cy="158.0" r="0.4"/><circle cx="91.3" cy="184.1" r="0.4"/><circle cx="73.9" cy="171.9" r="0.4"/><circle cx="80.5" cy="156.6" r="0.4"/><circle cx="61.1" cy="185.9" r="0.4"/><circle cx="70.8" cy="176.2" r="0.4"/><circle cx="92.7" cy="187.5" r="0.4"/><circle cx="76.5" cy="166.2" r="0.4"/><circle cx="70.3" cy="186.4" r="0.4"/><circle cx="91.4" cy="165.7" r="0.4"/><circle cx="89.3" cy="171.8" r="0.4"/><circle cx="76.5" cy="164.6" r="0.4"/><circle cx="90.8" cy="187.9" r="0.4"/><circle cx="67.1" cy="179.8" r="0.4"/><circle cx="66.7" cy="185.5" r="0.4"/><circle cx="61.8" cy="161.0" r="0.4"/><circle cx="85.4" cy="170.4" r="0.4"/><circle cx="91.5" cy="185.3" r="0.4"/><circle cx="85.0" cy="162.7" r="0.4"/><circle cx="84.4" cy="186.7" r="0.4"/><circle cx="75.6" cy="159.2" r="0.4"/><circle cx="67.8" cy="170.2" r="0.4"/><circle cx="84.9" cy="165.7" r="0.4"/><circle cx="66.3" cy="167.4" r="0.4"/><circle cx="83.3" cy="183.6" r="0.4"/><circle cx="73.0" cy="180.5" r="0.4"/><circle cx="91.0" cy="178.7" r="0.4"/><circle cx="68.0" cy="169.9" r="0.4"/><circle cx="92.4" cy="180.7" r="0.4"/><circle cx="69.7" cy="180.0" r="0.4"/><circle cx="63.1" cy="187.7" r="0.4"/><circle cx="75.4" cy="177.1" r="0.4"/><circle cx="78.6" cy="156.5" r="0.4"/><circle cx="81.0" cy="169.3" r="0.4"/><circle cx="68.8" cy="183.8" r="0.4"/><circle cx="63.1" cy="169.4" r="0.4"/><circle cx="86.4" cy="167.8" r="0.4"/><circle cx="69.8" cy="177.6" r="0.4"/><circle cx="66.5" cy="185.9" r="0.4"/><circle cx="94.6" cy="155.3" r="0.4"/><circle cx="76.2" cy="182.7" r="0.4"/><circle cx="73.5" cy="186.6" r="0.4"/><circle cx="77.5" cy="165.0" r="0.4"/><circle cx="79.5" cy="180.1" r="0.4"/><circle cx="72.6" cy="180.5" r="0.4"/><circle cx="87.4" cy="176.8" r="0.4"/><circle cx="77.7" cy="184.8" r="0.4"/><circle cx="83.9" cy="176.9" r="0.4"/><circle cx="93.3" cy="164.7" r="0.4"/><circle cx="87.3" cy="164.3" r="0.4"/><circle cx="81.3" cy="167.4" r="0.4"/><circle cx="75.4" cy="183.2" r="0.4"/><circle cx="87.5" cy="183.6" r="0.4"/></g>
<g fill="#3a55f0" fill-opacity="0.4"><circle cx="67.2" cy="184.3" r="0.45"/><circle cx="66.9" cy="185.1" r="0.45"/><circle cx="73.0" cy="175.7" r="0.45"/><circle cx="75.1" cy="186.2" r="0.45"/><circle cx="74.6" cy="187.2" r="0.45"/><circle cx="66.0" cy="179.7" r="0.45"/><circle cx="62.4" cy="184.4" r="0.45"/><circle cx="71.6" cy="183.8" r="0.45"/><circle cx="67.8" cy="186.8" r="0.45"/><circle cx="63.6" cy="187.5" r="0.45"/><circle cx="74.5" cy="184.8" r="0.45"/><circle cx="79.4" cy="181.3" r="0.45"/><circle cx="65.2" cy="182.3" r="0.45"/><circle cx="62.9" cy="182.4" r="0.45"/><circle cx="75.7" cy="184.6" r="0.45"/><circle cx="67.8" cy="185.2" r="0.45"/><circle cx="63.9" cy="186.9" r="0.45"/><circle cx="65.8" cy="181.5" r="0.45"/><circle cx="65.5" cy="186.0" r="0.45"/><circle cx="80.3" cy="186.7" r="0.45"/><circle cx="63.3" cy="183.5" r="0.45"/><circle cx="70.0" cy="180.9" r="0.45"/><circle cx="83.4" cy="176.1" r="0.45"/><circle cx="72.8" cy="186.5" r="0.45"/><circle cx="83.7" cy="179.5" r="0.45"/><circle cx="72.0" cy="186.4" r="0.45"/><circle cx="62.9" cy="181.3" r="0.45"/><circle cx="81.6" cy="179.4" r="0.45"/><circle cx="70.6" cy="182.2" r="0.45"/><circle cx="71.3" cy="177.6" r="0.45"/><circle cx="62.8" cy="188.0" r="0.45"/><circle cx="78.8" cy="186.3" r="0.45"/><circle cx="67.1" cy="181.5" r="0.45"/><circle cx="74.1" cy="181.3" r="0.45"/><circle cx="72.2" cy="187.6" r="0.45"/><circle cx="70.0" cy="182.7" r="0.45"/><circle cx="83.6" cy="185.4" r="0.45"/><circle cx="62.9" cy="183.4" r="0.45"/><circle cx="76.3" cy="176.9" r="0.45"/><circle cx="69.6" cy="186.0" r="0.45"/><circle cx="81.0" cy="185.2" r="0.45"/><circle cx="81.5" cy="184.0" r="0.45"/><circle cx="70.6" cy="187.0" r="0.45"/><circle cx="70.4" cy="186.6" r="0.45"/><circle cx="66.7" cy="182.8" r="0.45"/><circle cx="66.0" cy="184.9" r="0.45"/><circle cx="65.6" cy="180.7" r="0.45"/><circle cx="66.7" cy="184.1" r="0.45"/><circle cx="68.8" cy="183.9" r="0.45"/><circle cx="83.9" cy="185.9" r="0.45"/><circle cx="81.0" cy="180.7" r="0.45"/><circle cx="70.4" cy="177.5" r="0.45"/><circle cx="77.2" cy="183.0" r="0.45"/><circle cx="68.0" cy="174.4" r="0.45"/><circle cx="66.0" cy="181.6" r="0.45"/><circle cx="70.6" cy="187.6" r="0.45"/><circle cx="77.7" cy="181.7" r="0.45"/><circle cx="69.9" cy="179.7" r="0.45"/><circle cx="82.6" cy="182.9" r="0.45"/><circle cx="78.8" cy="186.2" r="0.45"/><circle cx="82.0" cy="174.6" r="0.45"/><circle cx="69.1" cy="183.2" r="0.45"/><circle cx="63.8" cy="187.3" r="0.45"/><circle cx="69.2" cy="186.6" r="0.45"/><circle cx="73.4" cy="176.7" r="0.45"/><circle cx="70.7" cy="181.3" r="0.45"/><circle cx="62.9" cy="179.7" r="0.45"/><circle cx="75.1" cy="175.5" r="0.45"/><circle cx="68.9" cy="183.7" r="0.45"/><circle cx="74.0" cy="179.3" r="0.45"/><circle cx="77.5" cy="181.6" r="0.45"/><circle cx="78.0" cy="185.8" r="0.45"/><circle cx="65.2" cy="180.7" r="0.45"/><circle cx="68.2" cy="186.2" r="0.45"/><circle cx="70.9" cy="183.2" r="0.45"/><circle cx="81.1" cy="181.1" r="0.45"/><circle cx="68.4" cy="182.8" r="0.45"/><circle cx="66.7" cy="176.0" r="0.45"/><circle cx="62.5" cy="185.5" r="0.45"/><circle cx="74.5" cy="186.8" r="0.45"/><circle cx="83.5" cy="182.2" r="0.45"/><circle cx="76.8" cy="187.5" r="0.45"/><circle cx="66.8" cy="186.0" r="0.45"/><circle cx="76.7" cy="187.7" r="0.45"/><circle cx="81.1" cy="181.2" r="0.45"/><circle cx="75.9" cy="178.0" r="0.45"/><circle cx="71.4" cy="183.3" r="0.45"/><circle cx="63.3" cy="183.2" r="0.45"/><circle cx="69.2" cy="184.4" r="0.45"/><circle cx="68.2" cy="179.8" r="0.45"/><circle cx="70.9" cy="184.2" r="0.45"/><circle cx="65.7" cy="185.8" r="0.45"/><circle cx="67.3" cy="178.1" r="0.45"/><circle cx="69.5" cy="183.6" r="0.45"/><circle cx="65.3" cy="185.1" r="0.45"/><circle cx="77.4" cy="184.9" r="0.45"/><circle cx="77.4" cy="174.8" r="0.45"/><circle cx="70.6" cy="183.0" r="0.45"/><circle cx="63.4" cy="183.4" r="0.45"/><circle cx="63.2" cy="184.4" r="0.45"/><circle cx="74.9" cy="184.1" r="0.45"/><circle cx="69.2" cy="181.5" r="0.45"/><circle cx="62.5" cy="182.8" r="0.45"/><circle cx="81.6" cy="185.0" r="0.45"/><circle cx="67.8" cy="185.8" r="0.45"/><circle cx="66.1" cy="184.1" r="0.45"/><circle cx="75.5" cy="187.7" r="0.45"/><circle cx="70.0" cy="185.1" r="0.45"/><circle cx="82.7" cy="186.6" r="0.45"/><circle cx="75.8" cy="185.5" r="0.45"/><circle cx="71.0" cy="183.6" r="0.45"/><circle cx="68.1" cy="187.0" r="0.45"/><circle cx="81.4" cy="183.2" r="0.45"/><circle cx="82.0" cy="175.9" r="0.45"/><circle cx="65.0" cy="184.5" r="0.45"/><circle cx="68.8" cy="182.9" r="0.45"/><circle cx="83.5" cy="179.6" r="0.45"/><circle cx="66.2" cy="181.1" r="0.45"/><circle cx="77.0" cy="181.2" r="0.45"/><circle cx="62.0" cy="184.8" r="0.45"/><circle cx="70.7" cy="181.3" r="0.45"/><circle cx="72.9" cy="185.7" r="0.45"/><circle cx="74.1" cy="185.5" r="0.45"/><circle cx="74.3" cy="187.0" r="0.45"/><circle cx="83.3" cy="182.6" r="0.45"/><circle cx="69.6" cy="187.3" r="0.45"/><circle cx="68.9" cy="186.2" r="0.45"/><circle cx="77.3" cy="186.0" r="0.45"/><circle cx="83.2" cy="186.9" r="0.45"/><circle cx="65.5" cy="185.5" r="0.45"/><circle cx="72.8" cy="185.0" r="0.45"/><circle cx="70.1" cy="182.0" r="0.45"/><circle cx="78.5" cy="184.7" r="0.45"/><circle cx="67.2" cy="181.4" r="0.45"/><circle cx="69.1" cy="180.2" r="0.45"/><circle cx="73.3" cy="179.1" r="0.45"/><circle cx="63.4" cy="177.3" r="0.45"/><circle cx="64.2" cy="186.1" r="0.45"/><circle cx="64.5" cy="183.9" r="0.45"/><circle cx="79.0" cy="184.2" r="0.45"/><circle cx="65.6" cy="187.2" r="0.45"/><circle cx="81.1" cy="176.7" r="0.45"/><circle cx="67.6" cy="184.5" r="0.45"/><circle cx="79.5" cy="183.3" r="0.45"/><circle cx="77.8" cy="181.5" r="0.45"/><circle cx="77.7" cy="182.5" r="0.45"/><circle cx="69.3" cy="186.5" r="0.45"/><circle cx="80.5" cy="187.0" r="0.45"/><circle cx="74.5" cy="183.6" r="0.45"/><circle cx="77.6" cy="185.5" r="0.45"/><circle cx="80.3" cy="186.8" r="0.45"/><circle cx="64.8" cy="183.1" r="0.45"/><circle cx="76.7" cy="181.2" r="0.45"/><circle cx="66.1" cy="173.9" r="0.45"/><circle cx="74.9" cy="187.7" r="0.45"/><circle cx="83.3" cy="179.3" r="0.45"/><circle cx="77.1" cy="183.6" r="0.45"/><circle cx="75.9" cy="183.4" r="0.45"/><circle cx="82.5" cy="187.9" r="0.45"/><circle cx="63.1" cy="186.2" r="0.45"/><circle cx="64.6" cy="176.1" r="0.45"/><circle cx="68.3" cy="186.3" r="0.45"/><circle cx="83.9" cy="178.9" r="0.45"/><circle cx="69.3" cy="175.1" r="0.45"/><circle cx="73.9" cy="184.2" r="0.45"/><circle cx="70.2" cy="182.3" r="0.45"/><circle cx="79.6" cy="187.0" r="0.45"/><circle cx="68.2" cy="183.3" r="0.45"/><circle cx="75.6" cy="186.5" r="0.45"/><circle cx="83.6" cy="183.3" r="0.45"/><circle cx="77.3" cy="184.8" r="0.45"/><circle cx="79.6" cy="179.6" r="0.45"/><circle cx="65.9" cy="178.6" r="0.45"/><circle cx="82.5" cy="181.5" r="0.45"/><circle cx="72.7" cy="178.9" r="0.45"/><circle cx="69.1" cy="174.5" r="0.45"/><circle cx="74.5" cy="179.5" r="0.45"/><circle cx="75.8" cy="181.8" r="0.45"/><circle cx="67.0" cy="184.2" r="0.45"/><circle cx="70.0" cy="181.6" r="0.45"/><circle cx="63.1" cy="177.1" r="0.45"/><circle cx="81.6" cy="182.3" r="0.45"/><circle cx="63.7" cy="180.3" r="0.45"/><circle cx="72.6" cy="188.0" r="0.45"/><circle cx="66.4" cy="187.2" r="0.45"/><circle cx="72.7" cy="183.6" r="0.45"/><circle cx="79.8" cy="183.3" r="0.45"/><circle cx="63.3" cy="184.9" r="0.45"/><circle cx="76.5" cy="185.5" r="0.45"/><circle cx="68.1" cy="187.6" r="0.45"/><circle cx="81.0" cy="188.0" r="0.45"/><circle cx="71.8" cy="187.0" r="0.45"/><circle cx="77.9" cy="180.2" r="0.45"/><circle cx="62.6" cy="180.0" r="0.45"/><circle cx="64.6" cy="177.5" r="0.45"/><circle cx="69.9" cy="186.4" r="0.45"/><circle cx="68.8" cy="184.5" r="0.45"/><circle cx="62.2" cy="180.8" r="0.45"/><circle cx="83.1" cy="173.5" r="0.45"/><circle cx="73.6" cy="186.8" r="0.45"/><circle cx="79.4" cy="186.3" r="0.45"/><circle cx="70.8" cy="186.8" r="0.45"/><circle cx="80.2" cy="186.5" r="0.45"/><circle cx="83.7" cy="178.4" r="0.45"/><circle cx="82.9" cy="183.4" r="0.45"/><circle cx="77.5" cy="181.5" r="0.45"/><circle cx="82.0" cy="174.8" r="0.45"/><circle cx="74.7" cy="181.1" r="0.45"/><circle cx="70.5" cy="183.0" r="0.45"/><circle cx="76.5" cy="186.8" r="0.45"/><circle cx="70.0" cy="185.6" r="0.45"/><circle cx="69.8" cy="181.9" r="0.45"/><circle cx="81.9" cy="182.5" r="0.45"/><circle cx="64.1" cy="182.6" r="0.45"/><circle cx="78.3" cy="180.8" r="0.45"/><circle cx="78.4" cy="184.8" r="0.45"/><circle cx="77.0" cy="180.2" r="0.45"/><circle cx="64.3" cy="179.5" r="0.45"/><circle cx="69.7" cy="183.7" r="0.45"/><circle cx="62.2" cy="184.4" r="0.45"/></g>
<g fill="#2f4cf2" fill-opacity="0.5"><circle cx="74.5" cy="186.0" r="0.5"/><circle cx="68.6" cy="182.8" r="0.5"/><circle cx="79.0" cy="190.4" r="0.5"/><circle cx="74.5" cy="189.0" r="0.5"/><circle cx="85.1" cy="190.1" r="0.5"/><circle cx="68.9" cy="187.8" r="0.5"/><circle cx="77.7" cy="187.5" r="0.5"/><circle cx="76.4" cy="182.7" r="0.5"/><circle cx="76.2" cy="189.0" r="0.5"/><circle cx="79.9" cy="183.6" r="0.5"/><circle cx="78.3" cy="187.1" r="0.5"/><circle cx="79.0" cy="184.4" r="0.5"/><circle cx="74.7" cy="182.3" r="0.5"/><circle cx="75.5" cy="182.9" r="0.5"/><circle cx="71.5" cy="180.3" r="0.5"/><circle cx="80.1" cy="181.2" r="0.5"/><circle cx="72.5" cy="184.4" r="0.5"/><circle cx="82.0" cy="188.3" r="0.5"/><circle cx="75.6" cy="181.4" r="0.5"/><circle cx="75.2" cy="181.8" r="0.5"/><circle cx="75.1" cy="185.9" r="0.5"/><circle cx="73.3" cy="182.2" r="0.5"/><circle cx="76.1" cy="184.4" r="0.5"/><circle cx="74.3" cy="182.2" r="0.5"/><circle cx="73.1" cy="182.3" r="0.5"/><circle cx="78.8" cy="183.8" r="0.5"/><circle cx="66.2" cy="186.3" r="0.5"/><circle cx="76.8" cy="181.9" r="0.5"/><circle cx="76.1" cy="175.5" r="0.5"/><circle cx="71.3" cy="188.0" r="0.5"/><circle cx="84.4" cy="191.0" r="0.5"/><circle cx="74.4" cy="184.6" r="0.5"/><circle cx="79.7" cy="180.8" r="0.5"/><circle cx="83.1" cy="182.3" r="0.5"/><circle cx="78.2" cy="181.1" r="0.5"/><circle cx="78.3" cy="184.5" r="0.5"/><circle cx="80.8" cy="181.1" r="0.5"/><circle cx="77.0" cy="189.9" r="0.5"/><circle cx="72.8" cy="185.6" r="0.5"/><circle cx="78.5" cy="183.0" r="0.5"/><circle cx="76.1" cy="188.7" r="0.5"/><circle cx="81.0" cy="186.2" r="0.5"/><circle cx="77.9" cy="181.1" r="0.5"/><circle cx="77.3" cy="189.9" r="0.5"/><circle cx="80.7" cy="180.4" r="0.5"/><circle cx="69.8" cy="182.5" r="0.5"/><circle cx="77.6" cy="182.9" r="0.5"/><circle cx="75.9" cy="185.5" r="0.5"/><circle cx="80.1" cy="185.1" r="0.5"/><circle cx="81.4" cy="180.2" r="0.5"/><circle cx="78.6" cy="185.8" r="0.5"/><circle cx="71.8" cy="188.3" r="0.5"/><circle cx="71.4" cy="180.2" r="0.5"/><circle cx="86.4" cy="188.4" r="0.5"/><circle cx="78.3" cy="188.6" r="0.5"/><circle cx="81.0" cy="181.1" r="0.5"/><circle cx="78.7" cy="188.7" r="0.5"/><circle cx="76.4" cy="184.7" r="0.5"/><circle cx="75.4" cy="186.7" r="0.5"/><circle cx="75.1" cy="182.7" r="0.5"/><circle cx="72.7" cy="181.7" r="0.5"/><circle cx="77.8" cy="185.9" r="0.5"/><circle cx="75.6" cy="181.3" r="0.5"/><circle cx="78.2" cy="185.6" r="0.5"/><circle cx="81.5" cy="183.0" r="0.5"/><circle cx="75.6" cy="186.0" r="0.5"/><circle cx="82.4" cy="184.4" r="0.5"/><circle cx="76.7" cy="181.7" r="0.5"/><circle cx="75.7" cy="187.4" r="0.5"/><circle cx="80.0" cy="187.9" r="0.5"/><circle cx="71.2" cy="187.0" r="0.5"/><circle cx="73.7" cy="186.3" r="0.5"/><circle cx="68.7" cy="184.2" r="0.5"/><circle cx="73.9" cy="188.3" r="0.5"/><circle cx="77.4" cy="188.4" r="0.5"/><circle cx="75.5" cy="190.4" r="0.5"/><circle cx="75.4" cy="190.2" r="0.5"/><circle cx="75.3" cy="181.5" r="0.5"/><circle cx="80.2" cy="183.3" r="0.5"/><circle cx="76.8" cy="180.4" r="0.5"/><circle cx="75.8" cy="184.8" r="0.5"/><circle cx="74.5" cy="185.7" r="0.5"/><circle cx="68.9" cy="187.2" r="0.5"/><circle cx="75.6" cy="189.0" r="0.5"/><circle cx="75.8" cy="182.5" r="0.5"/><circle cx="75.4" cy="185.3" r="0.5"/><circle cx="79.1" cy="183.1" r="0.5"/><circle cx="74.2" cy="185.8" r="0.5"/><circle cx="79.9" cy="179.2" r="0.5"/><circle cx="73.3" cy="182.5" r="0.5"/><circle cx="83.0" cy="188.2" r="0.5"/><circle cx="79.8" cy="186.0" r="0.5"/><circle cx="73.0" cy="187.9" r="0.5"/><circle cx="75.4" cy="182.1" r="0.5"/><circle cx="83.9" cy="180.1" r="0.5"/><circle cx="81.9" cy="185.1" r="0.5"/><circle cx="73.7" cy="185.0" r="0.5"/><circle cx="74.0" cy="185.1" r="0.5"/><circle cx="74.7" cy="180.9" r="0.5"/><circle cx="86.4" cy="183.0" r="0.5"/><circle cx="80.5" cy="184.4" r="0.5"/><circle cx="79.4" cy="180.7" r="0.5"/><circle cx="73.3" cy="174.6" r="0.5"/><circle cx="80.6" cy="185.9" r="0.5"/><circle cx="72.8" cy="187.0" r="0.5"/><circle cx="79.1" cy="193.4" r="0.5"/><circle cx="77.8" cy="187.3" r="0.5"/><circle cx="79.2" cy="186.9" r="0.5"/><circle cx="76.9" cy="183.2" r="0.5"/><circle cx="79.5" cy="188.3" r="0.5"/><circle cx="72.9" cy="181.1" r="0.5"/><circle cx="76.9" cy="190.0" r="0.5"/><circle cx="76.3" cy="179.3" r="0.5"/><circle cx="79.9" cy="186.8" r="0.5"/><circle cx="83.9" cy="185.1" r="0.5"/><circle cx="84.0" cy="182.3" r="0.5"/><circle cx="80.2" cy="184.9" r="0.5"/><circle cx="72.8" cy="183.7" r="0.5"/><circle cx="81.7" cy="187.9" r="0.5"/><circle cx="75.7" cy="187.9" r="0.5"/><circle cx="80.2" cy="187.2" r="0.5"/><circle cx="78.0" cy="185.4" r="0.5"/><circle cx="74.1" cy="184.3" r="0.5"/><circle cx="77.5" cy="182.3" r="0.5"/><circle cx="76.0" cy="185.0" r="0.5"/><circle cx="77.8" cy="187.7" r="0.5"/><circle cx="73.4" cy="183.3" r="0.5"/><circle cx="78.0" cy="183.4" r="0.5"/><circle cx="78.2" cy="183.1" r="0.5"/><circle cx="81.2" cy="183.8" r="0.5"/><circle cx="73.0" cy="186.8" r="0.5"/><circle cx="82.9" cy="178.7" r="0.5"/><circle cx="76.6" cy="184.7" r="0.5"/><circle cx="80.7" cy="189.1" r="0.5"/><circle cx="76.5" cy="179.8" r="0.5"/><circle cx="79.4" cy="187.6" r="0.5"/><circle cx="78.7" cy="184.8" r="0.5"/><circle cx="74.1" cy="191.9" r="0.5"/><circle cx="72.8" cy="179.9" r="0.5"/><circle cx="80.5" cy="185.4" r="0.5"/><circle cx="79.4" cy="185.6" r="0.5"/><circle cx="83.0" cy="188.8" r="0.5"/><circle cx="75.1" cy="187.6" r="0.5"/><circle cx="72.9" cy="179.3" r="0.5"/><circle cx="81.3" cy="183.2" r="0.5"/><circle cx="69.4" cy="184.5" r="0.5"/><circle cx="74.7" cy="186.1" r="0.5"/><circle cx="76.8" cy="182.2" r="0.5"/><circle cx="74.5" cy="186.8" r="0.5"/><circle cx="73.7" cy="184.9" r="0.5"/><circle cx="73.5" cy="185.9" r="0.5"/><circle cx="83.3" cy="186.2" r="0.5"/><circle cx="81.0" cy="185.9" r="0.5"/><circle cx="73.6" cy="183.6" r="0.5"/><circle cx="77.3" cy="185.9" r="0.5"/><circle cx="74.9" cy="186.4" r="0.5"/><circle cx="74.5" cy="184.7" r="0.5"/><circle cx="77.0" cy="181.0" r="0.5"/><circle cx="80.6" cy="184.7" r="0.5"/><circle cx="77.4" cy="184.4" r="0.5"/><circle cx="69.6" cy="180.3" r="0.5"/><circle cx="73.9" cy="187.5" r="0.5"/><circle cx="75.0" cy="186.4" r="0.5"/><circle cx="73.4" cy="182.0" r="0.5"/><circle cx="75.4" cy="187.7" r="0.5"/><circle cx="71.2" cy="184.0" r="0.5"/><circle cx="78.5" cy="184.9" r="0.5"/><circle cx="77.0" cy="186.9" r="0.5"/><circle cx="78.0" cy="181.5" r="0.5"/><circle cx="79.3" cy="182.2" r="0.5"/><circle cx="75.8" cy="188.9" r="0.5"/><circle cx="85.7" cy="188.9" r="0.5"/><circle cx="78.5" cy="182.2" r="0.5"/><circle cx="74.3" cy="189.6" r="0.5"/><circle cx="78.2" cy="180.3" r="0.5"/><circle cx="82.6" cy="186.3" r="0.5"/><circle cx="81.7" cy="185.7" r="0.5"/><circle cx="69.4" cy="182.3" r="0.5"/><circle cx="76.5" cy="184.0" r="0.5"/><circle cx="82.4" cy="182.5" r="0.5"/><circle cx="76.7" cy="184.3" r="0.5"/><circle cx="76.7" cy="181.4" r="0.5"/><circle cx="72.7" cy="176.7" r="0.5"/><circle cx="78.2" cy="183.9" r="0.5"/><circle cx="77.7" cy="181.3" r="0.5"/><circle cx="77.0" cy="181.6" r="0.5"/><circle cx="73.4" cy="185.5" r="0.5"/><circle cx="79.3" cy="186.3" r="0.5"/><circle cx="76.9" cy="183.4" r="0.5"/><circle cx="82.0" cy="188.3" r="0.5"/><circle cx="74.8" cy="181.2" r="0.5"/><circle cx="78.3" cy="185.5" r="0.5"/><circle cx="73.8" cy="191.4" r="0.5"/><circle cx="69.6" cy="182.0" r="0.5"/><circle cx="77.9" cy="187.5" r="0.5"/><circle cx="70.5" cy="183.2" r="0.5"/><circle cx="82.1" cy="188.8" r="0.5"/><circle cx="76.1" cy="184.6" r="0.5"/><circle cx="73.9" cy="185.7" r="0.5"/><circle cx="73.3" cy="178.4" r="0.5"/><circle cx="71.7" cy="184.7" r="0.5"/><circle cx="72.4" cy="187.9" r="0.5"/><circle cx="81.5" cy="187.5" r="0.5"/><circle cx="79.3" cy="187.9" r="0.5"/><circle cx="78.0" cy="187.1" r="0.5"/><circle cx="78.7" cy="186.9" r="0.5"/><circle cx="73.4" cy="182.5" r="0.5"/><circle cx="73.5" cy="187.0" r="0.5"/><circle cx="78.8" cy="182.1" r="0.5"/><circle cx="73.5" cy="182.8" r="0.5"/><circle cx="80.1" cy="184.2" r="0.5"/><circle cx="76.2" cy="182.4" r="0.5"/><circle cx="76.6" cy="189.3" r="0.5"/><circle cx="74.6" cy="183.5" r="0.5"/><circle cx="83.0" cy="186.7" r="0.5"/><circle cx="73.0" cy="187.8" r="0.5"/><circle cx="72.6" cy="186.2" r="0.5"/><circle cx="68.1" cy="181.5" r="0.5"/><circle cx="80.3" cy="182.7" r="0.5"/><circle cx="74.5" cy="184.7" r="0.5"/><circle cx="77.0" cy="183.1" r="0.5"/><circle cx="74.6" cy="190.0" r="0.5"/><circle cx="82.3" cy="185.5" r="0.5"/><circle cx="73.0" cy="182.9" r="0.5"/><circle cx="76.0" cy="186.0" r="0.5"/><circle cx="82.7" cy="182.9" r="0.5"/><circle cx="77.5" cy="183.2" r="0.5"/><circle cx="77.5" cy="182.4" r="0.5"/><circle cx="78.4" cy="188.0" r="0.5"/><circle cx="75.6" cy="183.5" r="0.5"/><circle cx="77.4" cy="180.6" r="0.5"/><circle cx="83.4" cy="180.5" r="0.5"/><circle cx="75.8" cy="181.9" r="0.5"/><circle cx="82.3" cy="183.1" r="0.5"/><circle cx="75.2" cy="190.2" r="0.5"/><circle cx="76.6" cy="182.2" r="0.5"/><circle cx="77.0" cy="185.1" r="0.5"/><circle cx="74.4" cy="184.0" r="0.5"/><circle cx="76.3" cy="186.7" r="0.5"/><circle cx="79.7" cy="187.0" r="0.5"/><circle cx="76.6" cy="186.9" r="0.5"/><circle cx="76.3" cy="188.0" r="0.5"/><circle cx="78.5" cy="183.2" r="0.5"/><circle cx="81.4" cy="180.0" r="0.5"/><circle cx="73.6" cy="182.1" r="0.5"/><circle cx="76.6" cy="180.8" r="0.5"/><circle cx="72.8" cy="178.8" r="0.5"/><circle cx="77.4" cy="182.2" r="0.5"/><circle cx="84.7" cy="186.9" r="0.5"/><circle cx="73.0" cy="188.5" r="0.5"/><circle cx="77.4" cy="187.8" r="0.5"/><circle cx="73.1" cy="188.0" r="0.5"/><circle cx="80.9" cy="183.3" r="0.5"/><circle cx="74.0" cy="183.4" r="0.5"/><circle cx="78.0" cy="191.8" r="0.5"/><circle cx="83.4" cy="189.1" r="0.5"/><circle cx="76.3" cy="183.5" r="0.5"/><circle cx="78.3" cy="183.7" r="0.5"/><circle cx="75.4" cy="183.9" r="0.5"/><circle cx="80.0" cy="184.3" r="0.5"/></g>
<path d="M68,188.6 C70,186 72,183 74.5,179 C77,176.5 80,177.5 81.5,181 C82.5,185 82.5,187 82,188.6 Z" fill="#3050f0" fill-opacity="0.6" filter="url(#bl4)"/>
<g fill="#4a66f0" fill-opacity="0.35"><circle cx="56.3" cy="179.0" r="0.4"/><circle cx="53.7" cy="179.1" r="0.4"/><circle cx="45.4" cy="185.1" r="0.4"/><circle cx="57.8" cy="185.9" r="0.4"/><circle cx="56.1" cy="186.6" r="0.4"/><circle cx="51.8" cy="179.3" r="0.4"/><circle cx="51.9" cy="181.2" r="0.4"/><circle cx="51.8" cy="183.1" r="0.4"/><circle cx="51.5" cy="181.3" r="0.4"/><circle cx="54.2" cy="183.8" r="0.4"/><circle cx="51.3" cy="179.4" r="0.4"/><circle cx="51.3" cy="185.0" r="0.4"/><circle cx="57.6" cy="185.0" r="0.4"/><circle cx="46.8" cy="182.6" r="0.4"/><circle cx="49.4" cy="186.1" r="0.4"/><circle cx="57.2" cy="187.9" r="0.4"/><circle cx="57.3" cy="187.5" r="0.4"/><circle cx="56.2" cy="187.6" r="0.4"/><circle cx="45.3" cy="184.4" r="0.4"/><circle cx="52.7" cy="185.9" r="0.4"/><circle cx="53.0" cy="185.4" r="0.4"/><circle cx="57.1" cy="179.5" r="0.4"/><circle cx="51.8" cy="187.8" r="0.4"/><circle cx="45.4" cy="180.0" r="0.4"/><circle cx="56.3" cy="187.7" r="0.4"/><circle cx="45.3" cy="178.1" r="0.4"/><circle cx="55.8" cy="186.0" r="0.4"/><circle cx="51.8" cy="185.1" r="0.4"/><circle cx="54.8" cy="186.8" r="0.4"/><circle cx="45.0" cy="179.1" r="0.4"/><circle cx="55.3" cy="187.9" r="0.4"/><circle cx="55.8" cy="183.7" r="0.4"/><circle cx="49.4" cy="183.1" r="0.4"/><circle cx="45.2" cy="186.5" r="0.4"/><circle cx="48.4" cy="185.2" r="0.4"/><circle cx="51.8" cy="182.9" r="0.4"/><circle cx="53.8" cy="184.1" r="0.4"/><circle cx="48.0" cy="187.3" r="0.4"/><circle cx="47.3" cy="180.6" r="0.4"/><circle cx="48.3" cy="184.3" r="0.4"/><circle cx="55.2" cy="182.9" r="0.4"/><circle cx="48.1" cy="185.7" r="0.4"/><circle cx="48.4" cy="184.7" r="0.4"/><circle cx="48.3" cy="187.2" r="0.4"/><circle cx="47.4" cy="181.8" r="0.4"/><circle cx="48.9" cy="182.9" r="0.4"/><circle cx="54.4" cy="185.9" r="0.4"/><circle cx="55.3" cy="184.8" r="0.4"/><circle cx="46.0" cy="186.5" r="0.4"/><circle cx="48.2" cy="181.6" r="0.4"/></g>
<path d="M44.6,188.6 L72,188.2 C77,187.5 80,186.5 81.5,188 C82.5,191 82,196 81.5,200 L44.6,200 Z" fill="#2440f0" filter="url(#bl3)"/>
<path d="M58,194.8 C63,193.4 70,192.0 75,192.0 C78.8,192.4 79,197.2 75,197.6 C70,197.6 63,196.2 58,194.8 Z" fill="#2cc8f0" filter="url(#bl3)"/>
<path d="M64,194.8 C68,193.8 72,193.0 75,193.1 C77.5,193.4 77.6,196.2 75,196.5 C72,196.6 68,195.8 64,194.8 Z" fill="#50e8b0" filter="url(#bl3)"/>
<ellipse cx="74.8" cy="194.8" rx="2.4" ry="2.0" fill="#c8f040" fill-opacity="1" transform="rotate(0 74.8 194.8)" filter="url(#bl3)"/>
<ellipse cx="74.8" cy="194.8" rx="1.3" ry="1.1" fill="#f05020" fill-opacity="1" transform="rotate(0 74.8 194.8)" filter="url(#bl3)"/>
<ellipse cx="48" cy="194.5" rx="2.2" ry="2.2" fill="#40d8e8" fill-opacity="1" transform="rotate(0 48 194.5)" filter="url(#bl3)"/>
</g>
<g clip-path="url(#cp1)">
<g fill="#3a56f2" fill-opacity="0.35"><circle cx="121.9" cy="206.6" r="0.42"/><circle cx="137.2" cy="192.5" r="0.42"/><circle cx="159.8" cy="163.0" r="0.42"/><circle cx="138.3" cy="189.2" r="0.42"/><circle cx="139.7" cy="170.9" r="0.42"/><circle cx="137.1" cy="199.7" r="0.42"/><circle cx="137.3" cy="191.5" r="0.42"/><circle cx="125.5" cy="183.6" r="0.42"/><circle cx="125.1" cy="194.2" r="0.42"/><circle cx="152.1" cy="181.2" r="0.42"/><circle cx="139.3" cy="187.9" r="0.42"/><circle cx="144.5" cy="181.0" r="0.42"/><circle cx="152.4" cy="197.3" r="0.42"/><circle cx="159.9" cy="172.1" r="0.42"/><circle cx="135.4" cy="204.2" r="0.42"/><circle cx="154.0" cy="190.2" r="0.42"/><circle cx="146.0" cy="181.0" r="0.42"/><circle cx="153.7" cy="189.5" r="0.42"/><circle cx="148.6" cy="172.4" r="0.42"/><circle cx="149.5" cy="178.4" r="0.42"/><circle cx="138.9" cy="189.0" r="0.42"/><circle cx="145.2" cy="203.6" r="0.42"/><circle cx="147.2" cy="184.8" r="0.42"/><circle cx="140.1" cy="187.6" r="0.42"/><circle cx="140.8" cy="190.3" r="0.42"/><circle cx="151.7" cy="187.9" r="0.42"/><circle cx="128.4" cy="187.5" r="0.42"/><circle cx="138.1" cy="175.6" r="0.42"/><circle cx="144.2" cy="182.5" r="0.42"/><circle cx="142.8" cy="187.6" r="0.42"/><circle cx="140.2" cy="199.0" r="0.42"/><circle cx="149.0" cy="176.9" r="0.42"/><circle cx="147.8" cy="188.7" r="0.42"/><circle cx="132.9" cy="185.4" r="0.42"/><circle cx="139.5" cy="163.2" r="0.42"/><circle cx="129.9" cy="192.6" r="0.42"/><circle cx="144.0" cy="175.7" r="0.42"/><circle cx="156.0" cy="198.1" r="0.42"/><circle cx="142.9" cy="183.9" r="0.42"/><circle cx="138.6" cy="177.3" r="0.42"/><circle cx="146.8" cy="184.2" r="0.42"/><circle cx="152.5" cy="192.7" r="0.42"/><circle cx="142.0" cy="186.2" r="0.42"/><circle cx="149.6" cy="196.6" r="0.42"/><circle cx="127.6" cy="190.7" r="0.42"/><circle cx="135.7" cy="188.4" r="0.42"/><circle cx="149.1" cy="182.3" r="0.42"/><circle cx="148.5" cy="183.6" r="0.42"/><circle cx="132.5" cy="182.9" r="0.42"/><circle cx="129.0" cy="192.1" r="0.42"/><circle cx="140.1" cy="192.8" r="0.42"/><circle cx="147.3" cy="174.7" r="0.42"/><circle cx="133.0" cy="193.8" r="0.42"/><circle cx="133.7" cy="190.0" r="0.42"/><circle cx="145.6" cy="179.8" r="0.42"/><circle cx="155.2" cy="172.3" r="0.42"/><circle cx="143.8" cy="180.3" r="0.42"/><circle cx="113.9" cy="195.0" r="0.42"/><circle cx="141.5" cy="190.0" r="0.42"/><circle cx="137.6" cy="180.2" r="0.42"/><circle cx="135.4" cy="184.8" r="0.42"/><circle cx="147.3" cy="180.0" r="0.42"/><circle cx="155.2" cy="186.6" r="0.42"/><circle cx="137.5" cy="195.6" r="0.42"/><circle cx="120.3" cy="194.1" r="0.42"/><circle cx="131.8" cy="188.1" r="0.42"/><circle cx="151.8" cy="180.5" r="0.42"/><circle cx="143.6" cy="195.2" r="0.42"/><circle cx="131.5" cy="181.9" r="0.42"/><circle cx="152.1" cy="185.8" r="0.42"/><circle cx="128.4" cy="191.7" r="0.42"/><circle cx="147.9" cy="180.8" r="0.42"/><circle cx="137.8" cy="187.6" r="0.42"/><circle cx="140.9" cy="179.0" r="0.42"/><circle cx="144.0" cy="170.1" r="0.42"/><circle cx="147.1" cy="201.1" r="0.42"/><circle cx="131.2" cy="188.9" r="0.42"/><circle cx="117.5" cy="187.8" r="0.42"/><circle cx="130.7" cy="190.0" r="0.42"/><circle cx="142.3" cy="200.6" r="0.42"/><circle cx="132.5" cy="188.4" r="0.42"/><circle cx="145.2" cy="188.9" r="0.42"/><circle cx="144.5" cy="170.0" r="0.42"/><circle cx="160.4" cy="174.2" r="0.42"/><circle cx="129.4" cy="175.7" r="0.42"/><circle cx="131.5" cy="173.7" r="0.42"/><circle cx="141.0" cy="179.9" r="0.42"/><circle cx="141.7" cy="177.9" r="0.42"/><circle cx="148.8" cy="201.2" r="0.42"/><circle cx="152.5" cy="181.6" r="0.42"/><circle cx="136.6" cy="199.7" r="0.42"/><circle cx="121.0" cy="181.2" r="0.42"/><circle cx="151.2" cy="175.5" r="0.42"/><circle cx="155.4" cy="184.0" r="0.42"/><circle cx="166.8" cy="189.7" r="0.42"/><circle cx="144.5" cy="178.1" r="0.42"/><circle cx="151.0" cy="193.1" r="0.42"/><circle cx="133.3" cy="163.1" r="0.42"/><circle cx="136.5" cy="183.8" r="0.42"/><circle cx="139.5" cy="182.7" r="0.42"/><circle cx="147.7" cy="171.2" r="0.42"/><circle cx="138.9" cy="168.6" r="0.42"/><circle cx="117.8" cy="186.0" r="0.42"/><circle cx="131.3" cy="181.3" r="0.42"/><circle cx="136.5" cy="192.3" r="0.42"/><circle cx="146.7" cy="183.3" r="0.42"/><circle cx="140.7" cy="179.1" r="0.42"/><circle cx="127.5" cy="178.4" r="0.42"/><circle cx="133.7" cy="178.3" r="0.42"/><circle cx="140.3" cy="191.6" r="0.42"/><circle cx="150.3" cy="192.7" r="0.42"/><circle cx="125.6" cy="172.4" r="0.42"/><circle cx="137.0" cy="204.1" r="0.42"/><circle cx="146.1" cy="179.0" r="0.42"/><circle cx="151.9" cy="176.8" r="0.42"/><circle cx="155.2" cy="175.5" r="0.42"/><circle cx="139.5" cy="191.7" r="0.42"/><circle cx="129.9" cy="188.3" r="0.42"/><circle cx="160.3" cy="180.7" r="0.42"/><circle cx="130.1" cy="187.5" r="0.42"/><circle cx="138.4" cy="179.5" r="0.42"/><circle cx="148.7" cy="192.6" r="0.42"/><circle cx="144.2" cy="191.4" r="0.42"/><circle cx="144.2" cy="184.9" r="0.42"/><circle cx="137.1" cy="195.0" r="0.42"/><circle cx="152.1" cy="176.4" r="0.42"/><circle cx="134.5" cy="192.3" r="0.42"/><circle cx="145.5" cy="192.9" r="0.42"/><circle cx="145.1" cy="182.1" r="0.42"/><circle cx="130.1" cy="195.0" r="0.42"/><circle cx="138.0" cy="175.3" r="0.42"/><circle cx="121.6" cy="177.3" r="0.42"/><circle cx="145.4" cy="179.4" r="0.42"/><circle cx="107.6" cy="191.5" r="0.42"/><circle cx="134.8" cy="186.7" r="0.42"/><circle cx="140.3" cy="182.4" r="0.42"/><circle cx="151.0" cy="189.7" r="0.42"/><circle cx="143.8" cy="197.5" r="0.42"/><circle cx="137.1" cy="179.1" r="0.42"/><circle cx="137.9" cy="173.8" r="0.42"/><circle cx="134.9" cy="178.3" r="0.42"/><circle cx="137.6" cy="188.1" r="0.42"/><circle cx="119.6" cy="197.5" r="0.42"/><circle cx="142.7" cy="182.4" r="0.42"/><circle cx="148.6" cy="184.7" r="0.42"/><circle cx="134.5" cy="179.0" r="0.42"/><circle cx="150.1" cy="187.7" r="0.42"/><circle cx="125.1" cy="185.4" r="0.42"/><circle cx="132.6" cy="195.7" r="0.42"/><circle cx="131.8" cy="178.0" r="0.42"/><circle cx="156.3" cy="182.5" r="0.42"/><circle cx="143.9" cy="185.9" r="0.42"/><circle cx="139.4" cy="185.9" r="0.42"/><circle cx="150.6" cy="184.8" r="0.42"/><circle cx="137.0" cy="187.5" r="0.42"/><circle cx="156.5" cy="173.6" r="0.42"/><circle cx="129.1" cy="191.0" r="0.42"/><circle cx="138.6" cy="208.8" r="0.42"/><circle cx="148.5" cy="186.9" r="0.42"/><circle cx="150.5" cy="198.1" r="0.42"/><circle cx="131.4" cy="188.6" r="0.42"/><circle cx="129.4" cy="200.7" r="0.42"/><circle cx="145.7" cy="198.4" r="0.42"/><circle cx="135.1" cy="178.3" r="0.42"/><circle cx="136.9" cy="193.7" r="0.42"/><circle cx="134.1" cy="190.1" r="0.42"/><circle cx="132.0" cy="182.5" r="0.42"/><circle cx="140.8" cy="199.2" r="0.42"/><circle cx="132.0" cy="191.6" r="0.42"/><circle cx="146.0" cy="176.3" r="0.42"/><circle cx="131.7" cy="202.0" r="0.42"/><circle cx="156.2" cy="176.3" r="0.42"/><circle cx="132.5" cy="196.1" r="0.42"/><circle cx="138.0" cy="179.0" r="0.42"/><circle cx="129.8" cy="168.8" r="0.42"/><circle cx="129.5" cy="179.1" r="0.42"/><circle cx="130.5" cy="194.5" r="0.42"/><circle cx="148.7" cy="196.5" r="0.42"/><circle cx="113.9" cy="190.5" r="0.42"/><circle cx="137.2" cy="198.1" r="0.42"/><circle cx="150.8" cy="181.8" r="0.42"/><circle cx="139.3" cy="179.0" r="0.42"/><circle cx="134.6" cy="183.7" r="0.42"/><circle cx="123.4" cy="208.9" r="0.42"/><circle cx="154.2" cy="197.5" r="0.42"/><circle cx="153.8" cy="183.8" r="0.42"/><circle cx="143.2" cy="169.1" r="0.42"/><circle cx="134.1" cy="195.2" r="0.42"/><circle cx="132.2" cy="174.4" r="0.42"/><circle cx="136.6" cy="175.4" r="0.42"/><circle cx="145.7" cy="196.6" r="0.42"/><circle cx="128.8" cy="186.1" r="0.42"/><circle cx="145.8" cy="182.6" r="0.42"/><circle cx="139.9" cy="177.9" r="0.42"/><circle cx="130.1" cy="168.5" r="0.42"/><circle cx="143.2" cy="195.2" r="0.42"/><circle cx="129.8" cy="188.0" r="0.42"/><circle cx="151.2" cy="191.2" r="0.42"/><circle cx="148.8" cy="173.7" r="0.42"/><circle cx="142.4" cy="199.7" r="0.42"/><circle cx="137.3" cy="188.9" r="0.42"/><circle cx="130.8" cy="183.4" r="0.42"/><circle cx="111.4" cy="192.5" r="0.42"/><circle cx="117.1" cy="186.0" r="0.42"/><circle cx="135.9" cy="198.9" r="0.42"/><circle cx="149.1" cy="184.9" r="0.42"/><circle cx="131.5" cy="176.6" r="0.42"/><circle cx="142.6" cy="176.8" r="0.42"/><circle cx="142.6" cy="192.4" r="0.42"/><circle cx="138.9" cy="185.5" r="0.42"/><circle cx="134.7" cy="196.7" r="0.42"/><circle cx="147.9" cy="188.1" r="0.42"/><circle cx="150.7" cy="166.4" r="0.42"/><circle cx="143.0" cy="189.6" r="0.42"/><circle cx="144.8" cy="185.9" r="0.42"/><circle cx="140.2" cy="171.6" r="0.42"/><circle cx="143.6" cy="193.9" r="0.42"/><circle cx="139.6" cy="183.7" r="0.42"/><circle cx="143.1" cy="168.5" r="0.42"/><circle cx="149.2" cy="194.7" r="0.42"/><circle cx="135.7" cy="179.8" r="0.42"/><circle cx="144.2" cy="179.4" r="0.42"/><circle cx="133.6" cy="189.4" r="0.42"/><circle cx="127.3" cy="196.5" r="0.42"/><circle cx="127.8" cy="185.5" r="0.42"/><circle cx="147.3" cy="181.8" r="0.42"/><circle cx="147.5" cy="194.2" r="0.42"/><circle cx="161.5" cy="194.5" r="0.42"/><circle cx="138.4" cy="193.9" r="0.42"/><circle cx="127.8" cy="197.4" r="0.42"/><circle cx="150.6" cy="174.3" r="0.42"/><circle cx="147.7" cy="189.3" r="0.42"/><circle cx="137.2" cy="180.8" r="0.42"/><circle cx="150.6" cy="169.1" r="0.42"/><circle cx="145.2" cy="191.4" r="0.42"/><circle cx="147.9" cy="195.8" r="0.42"/><circle cx="156.0" cy="182.6" r="0.42"/><circle cx="159.6" cy="183.5" r="0.42"/><circle cx="128.2" cy="187.3" r="0.42"/><circle cx="143.8" cy="185.3" r="0.42"/><circle cx="132.1" cy="208.8" r="0.42"/><circle cx="122.5" cy="182.6" r="0.42"/><circle cx="145.5" cy="184.6" r="0.42"/><circle cx="155.7" cy="180.5" r="0.42"/><circle cx="146.5" cy="188.9" r="0.42"/><circle cx="129.8" cy="178.1" r="0.42"/><circle cx="139.6" cy="194.4" r="0.42"/><circle cx="142.0" cy="195.4" r="0.42"/><circle cx="137.9" cy="192.7" r="0.42"/><circle cx="143.6" cy="191.1" r="0.42"/><circle cx="141.4" cy="186.4" r="0.42"/><circle cx="140.3" cy="196.1" r="0.42"/><circle cx="142.0" cy="188.8" r="0.42"/><circle cx="144.0" cy="175.7" r="0.42"/><circle cx="132.9" cy="187.9" r="0.42"/><circle cx="149.3" cy="172.0" r="0.42"/><circle cx="128.1" cy="181.6" r="0.42"/><circle cx="133.7" cy="178.5" r="0.42"/><circle cx="134.8" cy="192.1" r="0.42"/><circle cx="130.6" cy="189.2" r="0.42"/><circle cx="129.1" cy="188.1" r="0.42"/><circle cx="139.3" cy="167.9" r="0.42"/><circle cx="142.0" cy="186.4" r="0.42"/><circle cx="141.0" cy="187.1" r="0.42"/><circle cx="140.5" cy="173.6" r="0.42"/><circle cx="141.7" cy="190.2" r="0.42"/><circle cx="148.5" cy="169.7" r="0.42"/><circle cx="130.9" cy="177.1" r="0.42"/><circle cx="137.2" cy="177.0" r="0.42"/><circle cx="134.0" cy="194.6" r="0.42"/><circle cx="155.2" cy="160.7" r="0.42"/><circle cx="153.2" cy="171.6" r="0.42"/><circle cx="148.2" cy="184.9" r="0.42"/><circle cx="151.6" cy="178.5" r="0.42"/><circle cx="132.9" cy="187.7" r="0.42"/><circle cx="145.3" cy="175.2" r="0.42"/><circle cx="144.6" cy="183.3" r="0.42"/><circle cx="142.5" cy="184.3" r="0.42"/><circle cx="148.9" cy="188.6" r="0.42"/><circle cx="137.0" cy="183.5" r="0.42"/><circle cx="118.0" cy="186.9" r="0.42"/><circle cx="128.7" cy="196.0" r="0.42"/><circle cx="128.6" cy="184.0" r="0.42"/><circle cx="148.9" cy="190.3" r="0.42"/><circle cx="149.4" cy="173.8" r="0.42"/><circle cx="146.4" cy="192.0" r="0.42"/><circle cx="132.2" cy="186.6" r="0.42"/><circle cx="127.4" cy="185.0" r="0.42"/><circle cx="147.7" cy="182.9" r="0.42"/><circle cx="135.7" cy="182.2" r="0.42"/><circle cx="157.3" cy="184.6" r="0.42"/><circle cx="136.1" cy="206.0" r="0.42"/><circle cx="136.5" cy="185.4" r="0.42"/><circle cx="134.5" cy="182.6" r="0.42"/><circle cx="142.2" cy="171.7" r="0.42"/><circle cx="140.1" cy="182.4" r="0.42"/><circle cx="158.3" cy="181.0" r="0.42"/><circle cx="146.5" cy="187.2" r="0.42"/><circle cx="146.8" cy="183.5" r="0.42"/><circle cx="119.4" cy="197.7" r="0.42"/><circle cx="140.1" cy="191.5" r="0.42"/><circle cx="142.0" cy="179.7" r="0.42"/><circle cx="129.4" cy="180.9" r="0.42"/><circle cx="143.2" cy="183.1" r="0.42"/><circle cx="131.5" cy="185.7" r="0.42"/><circle cx="142.0" cy="178.6" r="0.42"/><circle cx="137.8" cy="180.9" r="0.42"/><circle cx="117.1" cy="195.8" r="0.42"/><circle cx="144.0" cy="190.7" r="0.42"/><circle cx="150.7" cy="174.5" r="0.42"/><circle cx="147.2" cy="184.6" r="0.42"/><circle cx="144.2" cy="190.8" r="0.42"/><circle cx="145.0" cy="172.1" r="0.42"/><circle cx="154.0" cy="177.9" r="0.42"/><circle cx="132.5" cy="182.4" r="0.42"/><circle cx="135.3" cy="177.5" r="0.42"/><circle cx="152.3" cy="183.9" r="0.42"/><circle cx="135.1" cy="194.6" r="0.42"/><circle cx="143.3" cy="184.6" r="0.42"/><circle cx="149.5" cy="180.5" r="0.42"/><circle cx="140.0" cy="189.7" r="0.42"/><circle cx="120.1" cy="183.2" r="0.42"/><circle cx="148.9" cy="190.9" r="0.42"/><circle cx="125.3" cy="191.7" r="0.42"/><circle cx="133.8" cy="185.5" r="0.42"/><circle cx="151.1" cy="193.7" r="0.42"/><circle cx="160.2" cy="185.1" r="0.42"/><circle cx="147.3" cy="183.5" r="0.42"/><circle cx="124.8" cy="195.2" r="0.42"/><circle cx="126.3" cy="181.4" r="0.42"/><circle cx="137.0" cy="172.8" r="0.42"/><circle cx="159.2" cy="182.5" r="0.42"/><circle cx="145.8" cy="187.1" r="0.42"/><circle cx="143.3" cy="184.5" r="0.42"/><circle cx="145.3" cy="177.2" r="0.42"/><circle cx="143.9" cy="185.1" r="0.42"/><circle cx="144.6" cy="173.8" r="0.42"/><circle cx="142.8" cy="183.0" r="0.42"/><circle cx="148.4" cy="186.5" r="0.42"/><circle cx="144.0" cy="187.7" r="0.42"/><circle cx="149.3" cy="193.3" r="0.42"/><circle cx="145.4" cy="187.7" r="0.42"/><circle cx="131.6" cy="187.1" r="0.42"/><circle cx="151.3" cy="189.7" r="0.42"/><circle cx="131.7" cy="188.5" r="0.42"/><circle cx="138.6" cy="186.4" r="0.42"/><circle cx="135.1" cy="183.7" r="0.42"/><circle cx="140.7" cy="186.1" r="0.42"/><circle cx="147.6" cy="174.7" r="0.42"/><circle cx="134.5" cy="194.6" r="0.42"/><circle cx="144.9" cy="181.6" r="0.42"/><circle cx="133.5" cy="197.3" r="0.42"/><circle cx="134.5" cy="197.5" r="0.42"/><circle cx="142.7" cy="182.9" r="0.42"/><circle cx="141.9" cy="191.7" r="0.42"/><circle cx="135.6" cy="172.1" r="0.42"/><circle cx="127.7" cy="171.8" r="0.42"/><circle cx="147.5" cy="190.2" r="0.42"/><circle cx="146.2" cy="171.0" r="0.42"/><circle cx="166.2" cy="190.1" r="0.42"/><circle cx="133.7" cy="170.7" r="0.42"/><circle cx="136.1" cy="196.1" r="0.42"/><circle cx="158.3" cy="172.9" r="0.42"/><circle cx="120.8" cy="185.0" r="0.42"/><circle cx="158.6" cy="177.5" r="0.42"/><circle cx="121.4" cy="175.0" r="0.42"/><circle cx="149.3" cy="188.4" r="0.42"/><circle cx="135.8" cy="185.4" r="0.42"/><circle cx="140.5" cy="182.1" r="0.42"/><circle cx="134.0" cy="182.9" r="0.42"/><circle cx="139.3" cy="196.4" r="0.42"/><circle cx="147.8" cy="191.0" r="0.42"/><circle cx="150.7" cy="160.9" r="0.42"/><circle cx="143.3" cy="192.3" r="0.42"/><circle cx="137.0" cy="181.4" r="0.42"/><circle cx="142.9" cy="179.5" r="0.42"/><circle cx="132.1" cy="186.0" r="0.42"/><circle cx="141.4" cy="184.8" r="0.42"/><circle cx="149.2" cy="181.6" r="0.42"/><circle cx="146.0" cy="209.3" r="0.42"/><circle cx="137.9" cy="183.9" r="0.42"/><circle cx="137.4" cy="180.4" r="0.42"/><circle cx="126.9" cy="192.6" r="0.42"/><circle cx="148.7" cy="165.8" r="0.42"/><circle cx="135.2" cy="191.1" r="0.42"/><circle cx="136.2" cy="191.5" r="0.42"/><circle cx="137.0" cy="177.0" r="0.42"/><circle cx="137.3" cy="182.0" r="0.42"/><circle cx="138.0" cy="164.1" r="0.42"/><circle cx="148.8" cy="193.2" r="0.42"/><circle cx="143.0" cy="186.1" r="0.42"/><circle cx="137.0" cy="189.5" r="0.42"/><circle cx="135.5" cy="176.1" r="0.42"/><circle cx="122.7" cy="172.5" r="0.42"/><circle cx="145.4" cy="184.5" r="0.42"/><circle cx="151.7" cy="182.6" r="0.42"/><circle cx="143.1" cy="172.4" r="0.42"/><circle cx="121.9" cy="188.0" r="0.42"/><circle cx="139.0" cy="188.9" r="0.42"/><circle cx="139.1" cy="184.3" r="0.42"/><circle cx="142.1" cy="186.7" r="0.42"/><circle cx="143.7" cy="186.5" r="0.42"/><circle cx="136.0" cy="186.2" r="0.42"/><circle cx="123.8" cy="182.5" r="0.42"/><circle cx="139.7" cy="189.2" r="0.42"/><circle cx="129.5" cy="177.5" r="0.42"/><circle cx="147.1" cy="175.1" r="0.42"/><circle cx="122.0" cy="184.5" r="0.42"/><circle cx="122.4" cy="171.7" r="0.42"/><circle cx="142.6" cy="198.9" r="0.42"/><circle cx="131.5" cy="181.8" r="0.42"/><circle cx="151.7" cy="181.1" r="0.42"/><circle cx="144.2" cy="195.4" r="0.42"/><circle cx="129.8" cy="189.1" r="0.42"/><circle cx="146.2" cy="184.5" r="0.42"/><circle cx="127.2" cy="182.7" r="0.42"/><circle cx="157.0" cy="177.3" r="0.42"/><circle cx="141.8" cy="193.9" r="0.42"/><circle cx="124.2" cy="191.5" r="0.42"/><circle cx="129.0" cy="202.1" r="0.42"/><circle cx="132.1" cy="189.7" r="0.42"/><circle cx="132.8" cy="189.5" r="0.42"/><circle cx="143.8" cy="183.8" r="0.42"/><circle cx="138.7" cy="188.0" r="0.42"/><circle cx="137.1" cy="182.2" r="0.42"/><circle cx="149.4" cy="188.8" r="0.42"/><circle cx="125.3" cy="182.8" r="0.42"/><circle cx="134.7" cy="190.2" r="0.42"/><circle cx="132.8" cy="201.9" r="0.42"/><circle cx="141.8" cy="186.0" r="0.42"/><circle cx="146.6" cy="176.1" r="0.42"/><circle cx="145.6" cy="186.5" r="0.42"/><circle cx="149.5" cy="172.2" r="0.42"/><circle cx="155.5" cy="184.0" r="0.42"/><circle cx="146.6" cy="191.8" r="0.42"/><circle cx="138.0" cy="184.5" r="0.42"/><circle cx="147.5" cy="179.1" r="0.42"/><circle cx="155.2" cy="190.9" r="0.42"/><circle cx="143.5" cy="185.5" r="0.42"/><circle cx="132.1" cy="180.8" r="0.42"/><circle cx="151.0" cy="171.8" r="0.42"/><circle cx="142.7" cy="186.8" r="0.42"/><circle cx="130.6" cy="183.5" r="0.42"/><circle cx="141.1" cy="203.3" r="0.42"/><circle cx="148.7" cy="193.8" r="0.42"/><circle cx="162.8" cy="184.5" r="0.42"/><circle cx="151.8" cy="176.6" r="0.42"/><circle cx="139.2" cy="198.4" r="0.42"/><circle cx="151.3" cy="171.8" r="0.42"/><circle cx="152.5" cy="182.7" r="0.42"/><circle cx="151.4" cy="189.0" r="0.42"/><circle cx="156.6" cy="173.0" r="0.42"/><circle cx="145.0" cy="194.3" r="0.42"/><circle cx="140.4" cy="190.1" r="0.42"/><circle cx="135.1" cy="172.8" r="0.42"/><circle cx="138.8" cy="193.7" r="0.42"/><circle cx="131.4" cy="175.9" r="0.42"/><circle cx="136.9" cy="187.7" r="0.42"/><circle cx="146.7" cy="185.6" r="0.42"/><circle cx="142.7" cy="175.2" r="0.42"/><circle cx="133.3" cy="181.8" r="0.42"/><circle cx="138.5" cy="190.0" r="0.42"/><circle cx="152.7" cy="178.2" r="0.42"/><circle cx="154.4" cy="189.1" r="0.42"/><circle cx="128.2" cy="183.5" r="0.42"/><circle cx="138.3" cy="174.3" r="0.42"/><circle cx="152.6" cy="164.0" r="0.42"/><circle cx="132.4" cy="195.6" r="0.42"/><circle cx="136.6" cy="193.2" r="0.42"/><circle cx="135.5" cy="196.7" r="0.42"/><circle cx="138.2" cy="192.7" r="0.42"/><circle cx="145.9" cy="170.2" r="0.42"/><circle cx="127.7" cy="175.7" r="0.42"/><circle cx="134.0" cy="196.2" r="0.42"/><circle cx="143.6" cy="191.4" r="0.42"/><circle cx="157.6" cy="187.2" r="0.42"/><circle cx="146.6" cy="179.1" r="0.42"/><circle cx="138.8" cy="188.9" r="0.42"/><circle cx="152.7" cy="189.7" r="0.42"/><circle cx="143.2" cy="181.8" r="0.42"/><circle cx="145.8" cy="197.6" r="0.42"/><circle cx="150.2" cy="198.7" r="0.42"/><circle cx="137.5" cy="194.3" r="0.42"/><circle cx="145.7" cy="189.9" r="0.42"/><circle cx="135.5" cy="190.5" r="0.42"/><circle cx="139.9" cy="183.3" r="0.42"/><circle cx="126.0" cy="179.4" r="0.42"/><circle cx="140.0" cy="190.4" r="0.42"/><circle cx="144.6" cy="185.9" r="0.42"/><circle cx="140.2" cy="173.9" r="0.42"/><circle cx="151.4" cy="181.5" r="0.42"/><circle cx="132.8" cy="184.0" r="0.42"/><circle cx="151.1" cy="182.7" r="0.42"/><circle cx="132.7" cy="207.0" r="0.42"/><circle cx="133.2" cy="203.5" r="0.42"/><circle cx="146.1" cy="174.5" r="0.42"/><circle cx="156.8" cy="189.5" r="0.42"/><circle cx="153.1" cy="185.9" r="0.42"/><circle cx="145.1" cy="185.5" r="0.42"/><circle cx="137.4" cy="189.2" r="0.42"/></g>
<path d="M122.5,182 L124,180.5 C127,178.6 130,177 134,175.6 C138,174.2 142,173 146.6,172.2 C150,171.8 153.5,172.5 155.4,176.5 C156.6,181 156.6,186 156.2,190 C155.8,194 155.2,197 155,200.2 L122.5,200.2 Z" fill="#2846f2" filter="url(#bl4)"/>
<ellipse cx="140.8" cy="187.2" rx="10.8" ry="8.8" fill="#2cc4f0" fill-opacity="1" transform="rotate(-25 140.8 187.2)" filter="url(#bl4)"/>
<ellipse cx="142.0" cy="186.4" rx="8.8" ry="7.0" fill="#44e070" fill-opacity="1" transform="rotate(-28 142.0 186.4)" filter="url(#bl4)"/>
<ellipse cx="143.4" cy="185.3" rx="6.4" ry="4.6" fill="#d8f030" fill-opacity="1" transform="rotate(-30 143.4 185.3)" filter="url(#bl3)"/>
<ellipse cx="144.2" cy="184.6" rx="4.8" ry="3.1" fill="#f88018" fill-opacity="1" transform="rotate(-30 144.2 184.6)" filter="url(#bl3)"/>
<ellipse cx="144.5" cy="184.3" rx="3.5" ry="2.0" fill="#f42a10" fill-opacity="1" transform="rotate(-30 144.5 184.3)" filter="url(#bl3)"/>
</g>
<g clip-path="url(#cp2)">
<g fill="#3a56f2" fill-opacity="0.35"><circle cx="238.5" cy="184.2" r="0.42"/><circle cx="245.0" cy="172.2" r="0.42"/><circle cx="222.2" cy="176.2" r="0.42"/><circle cx="203.0" cy="192.2" r="0.42"/><circle cx="219.0" cy="183.7" r="0.42"/><circle cx="210.7" cy="187.4" r="0.42"/><circle cx="204.2" cy="188.7" r="0.42"/><circle cx="215.9" cy="178.9" r="0.42"/><circle cx="226.3" cy="172.8" r="0.42"/><circle cx="228.9" cy="188.4" r="0.42"/><circle cx="229.9" cy="187.3" r="0.42"/><circle cx="232.6" cy="183.9" r="0.42"/><circle cx="211.2" cy="192.0" r="0.42"/><circle cx="213.8" cy="186.0" r="0.42"/><circle cx="223.9" cy="180.2" r="0.42"/><circle cx="233.4" cy="174.1" r="0.42"/><circle cx="238.0" cy="184.8" r="0.42"/><circle cx="244.8" cy="192.4" r="0.42"/><circle cx="231.9" cy="188.2" r="0.42"/><circle cx="223.4" cy="176.9" r="0.42"/><circle cx="215.9" cy="181.3" r="0.42"/><circle cx="215.0" cy="187.6" r="0.42"/><circle cx="214.3" cy="189.7" r="0.42"/><circle cx="220.0" cy="184.2" r="0.42"/><circle cx="228.7" cy="190.0" r="0.42"/><circle cx="207.4" cy="187.3" r="0.42"/><circle cx="258.1" cy="182.1" r="0.42"/><circle cx="228.0" cy="179.9" r="0.42"/><circle cx="236.8" cy="196.8" r="0.42"/><circle cx="230.3" cy="185.2" r="0.42"/><circle cx="221.8" cy="173.2" r="0.42"/><circle cx="230.2" cy="183.9" r="0.42"/><circle cx="228.6" cy="189.3" r="0.42"/><circle cx="228.4" cy="202.4" r="0.42"/><circle cx="233.7" cy="180.8" r="0.42"/><circle cx="231.4" cy="190.8" r="0.42"/><circle cx="225.6" cy="197.6" r="0.42"/><circle cx="217.2" cy="175.0" r="0.42"/><circle cx="211.4" cy="192.0" r="0.42"/><circle cx="212.0" cy="190.1" r="0.42"/><circle cx="206.1" cy="192.8" r="0.42"/><circle cx="219.5" cy="181.0" r="0.42"/><circle cx="216.7" cy="186.2" r="0.42"/><circle cx="234.6" cy="187.4" r="0.42"/><circle cx="221.3" cy="188.8" r="0.42"/><circle cx="234.5" cy="189.1" r="0.42"/><circle cx="243.4" cy="178.8" r="0.42"/><circle cx="233.4" cy="186.7" r="0.42"/><circle cx="216.8" cy="192.8" r="0.42"/><circle cx="234.5" cy="193.0" r="0.42"/><circle cx="228.2" cy="179.9" r="0.42"/><circle cx="226.0" cy="189.8" r="0.42"/><circle cx="243.3" cy="185.2" r="0.42"/><circle cx="227.1" cy="198.5" r="0.42"/><circle cx="223.8" cy="183.8" r="0.42"/><circle cx="227.8" cy="192.4" r="0.42"/><circle cx="223.5" cy="174.6" r="0.42"/><circle cx="219.9" cy="195.3" r="0.42"/><circle cx="215.8" cy="194.9" r="0.42"/><circle cx="224.7" cy="181.1" r="0.42"/><circle cx="230.6" cy="170.0" r="0.42"/><circle cx="197.2" cy="179.5" r="0.42"/><circle cx="229.5" cy="184.3" r="0.42"/><circle cx="230.9" cy="185.5" r="0.42"/><circle cx="224.5" cy="183.1" r="0.42"/><circle cx="220.0" cy="195.2" r="0.42"/><circle cx="231.1" cy="176.1" r="0.42"/><circle cx="232.5" cy="201.1" r="0.42"/><circle cx="231.4" cy="179.0" r="0.42"/><circle cx="232.5" cy="187.5" r="0.42"/><circle cx="220.9" cy="194.9" r="0.42"/><circle cx="237.4" cy="181.2" r="0.42"/><circle cx="224.5" cy="184.1" r="0.42"/><circle cx="225.4" cy="198.9" r="0.42"/><circle cx="219.1" cy="192.2" r="0.42"/><circle cx="226.7" cy="187.4" r="0.42"/><circle cx="211.0" cy="193.8" r="0.42"/><circle cx="211.5" cy="194.5" r="0.42"/><circle cx="222.6" cy="188.4" r="0.42"/><circle cx="217.2" cy="181.8" r="0.42"/><circle cx="211.5" cy="189.1" r="0.42"/><circle cx="222.9" cy="189.5" r="0.42"/><circle cx="221.0" cy="193.4" r="0.42"/><circle cx="225.4" cy="187.9" r="0.42"/><circle cx="220.7" cy="187.5" r="0.42"/><circle cx="230.4" cy="180.9" r="0.42"/><circle cx="209.9" cy="192.2" r="0.42"/><circle cx="228.5" cy="186.7" r="0.42"/><circle cx="224.9" cy="177.3" r="0.42"/><circle cx="212.2" cy="188.9" r="0.42"/><circle cx="221.8" cy="178.2" r="0.42"/><circle cx="226.9" cy="172.5" r="0.42"/><circle cx="236.9" cy="177.4" r="0.42"/><circle cx="215.8" cy="180.6" r="0.42"/><circle cx="207.4" cy="187.3" r="0.42"/><circle cx="201.0" cy="188.1" r="0.42"/><circle cx="225.2" cy="184.7" r="0.42"/><circle cx="221.7" cy="176.7" r="0.42"/><circle cx="200.4" cy="180.8" r="0.42"/><circle cx="236.2" cy="187.6" r="0.42"/><circle cx="204.4" cy="202.8" r="0.42"/><circle cx="232.0" cy="194.0" r="0.42"/><circle cx="236.7" cy="194.9" r="0.42"/><circle cx="203.8" cy="190.7" r="0.42"/><circle cx="216.5" cy="202.7" r="0.42"/><circle cx="231.5" cy="186.0" r="0.42"/><circle cx="218.2" cy="172.2" r="0.42"/><circle cx="223.7" cy="180.9" r="0.42"/><circle cx="240.1" cy="190.2" r="0.42"/><circle cx="222.1" cy="184.5" r="0.42"/><circle cx="235.8" cy="181.4" r="0.42"/><circle cx="236.5" cy="186.8" r="0.42"/><circle cx="220.5" cy="190.4" r="0.42"/><circle cx="242.1" cy="172.4" r="0.42"/><circle cx="233.0" cy="191.3" r="0.42"/><circle cx="222.1" cy="198.4" r="0.42"/><circle cx="231.9" cy="190.0" r="0.42"/><circle cx="212.3" cy="193.2" r="0.42"/><circle cx="208.9" cy="193.2" r="0.42"/><circle cx="247.6" cy="176.8" r="0.42"/><circle cx="240.5" cy="176.5" r="0.42"/><circle cx="225.0" cy="192.3" r="0.42"/><circle cx="206.9" cy="192.2" r="0.42"/><circle cx="213.7" cy="184.0" r="0.42"/><circle cx="233.2" cy="185.1" r="0.42"/><circle cx="228.2" cy="186.6" r="0.42"/><circle cx="229.6" cy="197.9" r="0.42"/><circle cx="224.6" cy="184.9" r="0.42"/><circle cx="224.6" cy="192.4" r="0.42"/><circle cx="226.4" cy="170.7" r="0.42"/><circle cx="223.1" cy="190.5" r="0.42"/><circle cx="253.3" cy="178.2" r="0.42"/><circle cx="219.0" cy="179.2" r="0.42"/><circle cx="220.7" cy="174.4" r="0.42"/><circle cx="213.5" cy="188.1" r="0.42"/><circle cx="205.5" cy="187.9" r="0.42"/><circle cx="216.8" cy="197.6" r="0.42"/><circle cx="244.4" cy="199.8" r="0.42"/><circle cx="225.8" cy="191.8" r="0.42"/><circle cx="250.5" cy="178.3" r="0.42"/><circle cx="242.3" cy="177.5" r="0.42"/><circle cx="234.1" cy="173.9" r="0.42"/><circle cx="218.6" cy="186.5" r="0.42"/><circle cx="218.3" cy="173.4" r="0.42"/><circle cx="224.6" cy="184.8" r="0.42"/><circle cx="241.5" cy="188.8" r="0.42"/><circle cx="198.1" cy="192.0" r="0.42"/><circle cx="235.8" cy="184.6" r="0.42"/><circle cx="213.6" cy="178.4" r="0.42"/><circle cx="218.1" cy="180.9" r="0.42"/><circle cx="219.8" cy="185.3" r="0.42"/><circle cx="237.3" cy="177.7" r="0.42"/><circle cx="226.1" cy="178.5" r="0.42"/><circle cx="227.8" cy="194.3" r="0.42"/><circle cx="215.4" cy="179.5" r="0.42"/><circle cx="223.9" cy="187.3" r="0.42"/><circle cx="216.4" cy="191.4" r="0.42"/><circle cx="225.0" cy="192.0" r="0.42"/><circle cx="208.1" cy="195.2" r="0.42"/><circle cx="237.4" cy="178.9" r="0.42"/><circle cx="247.0" cy="185.4" r="0.42"/><circle cx="206.9" cy="181.6" r="0.42"/><circle cx="213.9" cy="183.7" r="0.42"/><circle cx="220.9" cy="189.8" r="0.42"/><circle cx="220.6" cy="185.2" r="0.42"/><circle cx="209.8" cy="173.8" r="0.42"/><circle cx="213.7" cy="179.4" r="0.42"/><circle cx="231.1" cy="167.8" r="0.42"/><circle cx="233.7" cy="164.1" r="0.42"/><circle cx="221.1" cy="187.6" r="0.42"/><circle cx="209.2" cy="182.0" r="0.42"/><circle cx="232.5" cy="177.7" r="0.42"/><circle cx="222.3" cy="187.7" r="0.42"/><circle cx="229.7" cy="176.7" r="0.42"/><circle cx="238.7" cy="183.7" r="0.42"/><circle cx="233.7" cy="175.0" r="0.42"/><circle cx="236.1" cy="184.5" r="0.42"/><circle cx="231.8" cy="181.1" r="0.42"/><circle cx="233.6" cy="185.9" r="0.42"/><circle cx="203.8" cy="208.9" r="0.42"/><circle cx="216.0" cy="191.8" r="0.42"/><circle cx="220.6" cy="184.2" r="0.42"/><circle cx="220.0" cy="194.6" r="0.42"/><circle cx="235.4" cy="192.3" r="0.42"/><circle cx="205.0" cy="196.1" r="0.42"/><circle cx="208.2" cy="206.9" r="0.42"/><circle cx="229.2" cy="194.9" r="0.42"/><circle cx="223.5" cy="188.2" r="0.42"/><circle cx="217.2" cy="203.2" r="0.42"/><circle cx="220.7" cy="195.8" r="0.42"/><circle cx="213.6" cy="187.5" r="0.42"/><circle cx="218.7" cy="187.1" r="0.42"/><circle cx="218.1" cy="192.8" r="0.42"/><circle cx="229.4" cy="174.1" r="0.42"/><circle cx="216.7" cy="178.2" r="0.42"/><circle cx="234.7" cy="176.0" r="0.42"/><circle cx="229.1" cy="187.4" r="0.42"/><circle cx="220.6" cy="172.9" r="0.42"/><circle cx="243.3" cy="183.0" r="0.42"/><circle cx="232.6" cy="193.8" r="0.42"/><circle cx="210.4" cy="181.6" r="0.42"/><circle cx="245.9" cy="198.4" r="0.42"/><circle cx="213.6" cy="188.0" r="0.42"/><circle cx="234.5" cy="184.4" r="0.42"/><circle cx="239.7" cy="189.3" r="0.42"/><circle cx="223.3" cy="192.3" r="0.42"/><circle cx="219.2" cy="197.4" r="0.42"/><circle cx="217.1" cy="198.1" r="0.42"/><circle cx="251.2" cy="169.7" r="0.42"/><circle cx="241.9" cy="173.2" r="0.42"/><circle cx="224.6" cy="200.9" r="0.42"/><circle cx="237.0" cy="190.2" r="0.42"/><circle cx="228.1" cy="187.8" r="0.42"/><circle cx="228.7" cy="184.9" r="0.42"/><circle cx="218.7" cy="178.6" r="0.42"/><circle cx="244.1" cy="183.9" r="0.42"/><circle cx="246.9" cy="189.3" r="0.42"/><circle cx="227.6" cy="178.2" r="0.42"/><circle cx="220.4" cy="188.0" r="0.42"/><circle cx="221.7" cy="185.2" r="0.42"/><circle cx="195.9" cy="188.3" r="0.42"/><circle cx="219.9" cy="184.1" r="0.42"/><circle cx="217.9" cy="176.2" r="0.42"/><circle cx="215.0" cy="199.7" r="0.42"/><circle cx="211.7" cy="185.0" r="0.42"/><circle cx="213.5" cy="187.5" r="0.42"/><circle cx="219.5" cy="203.0" r="0.42"/><circle cx="212.6" cy="199.1" r="0.42"/><circle cx="218.4" cy="191.4" r="0.42"/><circle cx="253.5" cy="182.6" r="0.42"/><circle cx="220.2" cy="165.9" r="0.42"/><circle cx="219.2" cy="186.1" r="0.42"/><circle cx="225.3" cy="188.7" r="0.42"/><circle cx="209.4" cy="182.2" r="0.42"/><circle cx="232.3" cy="183.8" r="0.42"/><circle cx="224.7" cy="192.1" r="0.42"/><circle cx="224.9" cy="188.2" r="0.42"/><circle cx="210.7" cy="189.2" r="0.42"/><circle cx="205.3" cy="203.4" r="0.42"/><circle cx="216.3" cy="201.1" r="0.42"/><circle cx="217.5" cy="187.1" r="0.42"/><circle cx="239.3" cy="186.5" r="0.42"/><circle cx="225.4" cy="184.9" r="0.42"/><circle cx="219.7" cy="182.2" r="0.42"/><circle cx="212.4" cy="175.4" r="0.42"/><circle cx="220.9" cy="181.7" r="0.42"/><circle cx="242.7" cy="200.5" r="0.42"/><circle cx="244.9" cy="175.0" r="0.42"/><circle cx="219.2" cy="186.9" r="0.42"/><circle cx="207.1" cy="201.6" r="0.42"/><circle cx="232.4" cy="188.2" r="0.42"/><circle cx="247.2" cy="187.4" r="0.42"/><circle cx="220.4" cy="189.9" r="0.42"/><circle cx="218.6" cy="191.7" r="0.42"/><circle cx="208.6" cy="193.4" r="0.42"/><circle cx="219.7" cy="184.6" r="0.42"/><circle cx="219.0" cy="187.1" r="0.42"/><circle cx="203.6" cy="194.9" r="0.42"/><circle cx="223.4" cy="201.0" r="0.42"/><circle cx="224.6" cy="194.3" r="0.42"/><circle cx="223.2" cy="186.4" r="0.42"/><circle cx="208.7" cy="186.0" r="0.42"/><circle cx="214.0" cy="170.4" r="0.42"/><circle cx="219.4" cy="182.5" r="0.42"/><circle cx="228.5" cy="194.4" r="0.42"/><circle cx="221.4" cy="196.7" r="0.42"/><circle cx="239.4" cy="190.8" r="0.42"/><circle cx="219.9" cy="188.7" r="0.42"/><circle cx="245.0" cy="195.9" r="0.42"/><circle cx="235.4" cy="172.4" r="0.42"/><circle cx="198.7" cy="204.6" r="0.42"/><circle cx="233.8" cy="196.1" r="0.42"/><circle cx="230.3" cy="184.0" r="0.42"/><circle cx="229.2" cy="186.2" r="0.42"/><circle cx="242.5" cy="190.9" r="0.42"/><circle cx="211.6" cy="183.4" r="0.42"/><circle cx="236.9" cy="192.1" r="0.42"/><circle cx="227.6" cy="189.4" r="0.42"/><circle cx="207.9" cy="183.2" r="0.42"/><circle cx="228.0" cy="172.8" r="0.42"/><circle cx="230.3" cy="190.8" r="0.42"/><circle cx="232.6" cy="192.5" r="0.42"/><circle cx="246.9" cy="186.1" r="0.42"/><circle cx="212.2" cy="176.1" r="0.42"/><circle cx="197.1" cy="192.1" r="0.42"/><circle cx="232.5" cy="173.3" r="0.42"/><circle cx="225.1" cy="181.7" r="0.42"/><circle cx="221.0" cy="189.4" r="0.42"/><circle cx="222.9" cy="178.5" r="0.42"/><circle cx="232.7" cy="185.0" r="0.42"/><circle cx="202.3" cy="196.5" r="0.42"/><circle cx="242.2" cy="181.6" r="0.42"/><circle cx="241.2" cy="172.7" r="0.42"/><circle cx="222.3" cy="197.5" r="0.42"/><circle cx="240.1" cy="188.9" r="0.42"/><circle cx="236.1" cy="182.4" r="0.42"/><circle cx="233.5" cy="193.2" r="0.42"/><circle cx="235.6" cy="188.5" r="0.42"/><circle cx="234.4" cy="189.1" r="0.42"/><circle cx="229.4" cy="174.7" r="0.42"/><circle cx="230.0" cy="179.3" r="0.42"/><circle cx="219.4" cy="188.5" r="0.42"/><circle cx="225.3" cy="177.1" r="0.42"/><circle cx="217.8" cy="190.1" r="0.42"/><circle cx="219.0" cy="188.3" r="0.42"/><circle cx="226.8" cy="188.5" r="0.42"/><circle cx="217.5" cy="189.7" r="0.42"/><circle cx="229.2" cy="176.9" r="0.42"/><circle cx="232.0" cy="178.5" r="0.42"/><circle cx="228.9" cy="191.3" r="0.42"/><circle cx="230.1" cy="177.4" r="0.42"/><circle cx="211.6" cy="180.2" r="0.42"/><circle cx="230.8" cy="187.3" r="0.42"/><circle cx="203.1" cy="196.1" r="0.42"/><circle cx="237.4" cy="181.3" r="0.42"/><circle cx="223.1" cy="189.3" r="0.42"/><circle cx="211.2" cy="186.0" r="0.42"/><circle cx="230.0" cy="183.8" r="0.42"/><circle cx="223.8" cy="188.2" r="0.42"/><circle cx="244.6" cy="186.2" r="0.42"/><circle cx="227.3" cy="183.2" r="0.42"/><circle cx="238.6" cy="185.6" r="0.42"/><circle cx="224.9" cy="197.2" r="0.42"/><circle cx="238.8" cy="178.0" r="0.42"/><circle cx="221.5" cy="197.4" r="0.42"/><circle cx="219.9" cy="199.9" r="0.42"/><circle cx="224.0" cy="202.1" r="0.42"/><circle cx="210.0" cy="174.6" r="0.42"/><circle cx="208.6" cy="204.7" r="0.42"/><circle cx="214.6" cy="185.4" r="0.42"/><circle cx="216.1" cy="182.8" r="0.42"/><circle cx="225.8" cy="188.0" r="0.42"/><circle cx="215.7" cy="184.5" r="0.42"/><circle cx="240.8" cy="192.0" r="0.42"/><circle cx="237.0" cy="194.8" r="0.42"/><circle cx="222.4" cy="194.2" r="0.42"/><circle cx="242.4" cy="178.2" r="0.42"/><circle cx="237.2" cy="166.5" r="0.42"/><circle cx="199.3" cy="179.8" r="0.42"/><circle cx="210.7" cy="181.9" r="0.42"/><circle cx="218.8" cy="194.3" r="0.42"/><circle cx="214.5" cy="185.9" r="0.42"/><circle cx="206.4" cy="177.7" r="0.42"/><circle cx="220.6" cy="182.0" r="0.42"/><circle cx="234.4" cy="186.5" r="0.42"/><circle cx="202.8" cy="196.0" r="0.42"/><circle cx="208.9" cy="186.5" r="0.42"/><circle cx="210.3" cy="183.0" r="0.42"/><circle cx="215.1" cy="179.5" r="0.42"/><circle cx="214.5" cy="186.5" r="0.42"/><circle cx="233.0" cy="191.2" r="0.42"/><circle cx="243.0" cy="172.0" r="0.42"/><circle cx="220.3" cy="197.0" r="0.42"/><circle cx="209.9" cy="188.0" r="0.42"/><circle cx="233.9" cy="197.4" r="0.42"/><circle cx="230.7" cy="188.6" r="0.42"/><circle cx="222.3" cy="192.1" r="0.42"/><circle cx="225.1" cy="189.6" r="0.42"/><circle cx="215.7" cy="187.4" r="0.42"/><circle cx="211.8" cy="180.7" r="0.42"/><circle cx="212.5" cy="182.5" r="0.42"/><circle cx="214.8" cy="184.1" r="0.42"/><circle cx="205.7" cy="192.2" r="0.42"/><circle cx="228.9" cy="198.1" r="0.42"/><circle cx="193.8" cy="180.9" r="0.42"/><circle cx="210.9" cy="182.4" r="0.42"/><circle cx="223.2" cy="180.8" r="0.42"/><circle cx="215.1" cy="194.0" r="0.42"/><circle cx="219.4" cy="175.5" r="0.42"/><circle cx="237.2" cy="202.1" r="0.42"/><circle cx="236.6" cy="183.9" r="0.42"/><circle cx="239.5" cy="184.2" r="0.42"/><circle cx="219.5" cy="189.7" r="0.42"/><circle cx="238.9" cy="185.7" r="0.42"/><circle cx="218.3" cy="177.4" r="0.42"/><circle cx="224.4" cy="178.8" r="0.42"/><circle cx="220.7" cy="177.0" r="0.42"/><circle cx="212.0" cy="181.5" r="0.42"/><circle cx="214.2" cy="179.9" r="0.42"/><circle cx="238.9" cy="190.7" r="0.42"/><circle cx="218.3" cy="180.0" r="0.42"/><circle cx="236.1" cy="183.4" r="0.42"/><circle cx="231.3" cy="193.6" r="0.42"/><circle cx="219.0" cy="191.1" r="0.42"/><circle cx="228.2" cy="183.2" r="0.42"/><circle cx="220.6" cy="182.9" r="0.42"/><circle cx="182.6" cy="190.4" r="0.42"/><circle cx="244.1" cy="191.8" r="0.42"/><circle cx="255.8" cy="182.8" r="0.42"/><circle cx="233.2" cy="181.0" r="0.42"/><circle cx="213.5" cy="182.0" r="0.42"/><circle cx="229.6" cy="192.1" r="0.42"/><circle cx="201.5" cy="195.8" r="0.42"/><circle cx="235.1" cy="191.4" r="0.42"/><circle cx="208.4" cy="190.9" r="0.42"/><circle cx="225.8" cy="176.7" r="0.42"/><circle cx="212.4" cy="205.5" r="0.42"/><circle cx="214.8" cy="184.7" r="0.42"/><circle cx="199.5" cy="186.1" r="0.42"/><circle cx="239.9" cy="187.6" r="0.42"/><circle cx="213.3" cy="189.0" r="0.42"/><circle cx="228.3" cy="190.8" r="0.42"/><circle cx="212.0" cy="191.7" r="0.42"/><circle cx="214.9" cy="184.6" r="0.42"/><circle cx="212.3" cy="182.7" r="0.42"/><circle cx="227.1" cy="173.2" r="0.42"/><circle cx="228.7" cy="206.9" r="0.42"/><circle cx="212.4" cy="186.6" r="0.42"/><circle cx="224.2" cy="198.8" r="0.42"/><circle cx="207.1" cy="193.9" r="0.42"/><circle cx="224.3" cy="201.8" r="0.42"/><circle cx="223.1" cy="202.3" r="0.42"/><circle cx="212.3" cy="191.5" r="0.42"/><circle cx="209.6" cy="184.7" r="0.42"/><circle cx="208.0" cy="186.4" r="0.42"/><circle cx="241.0" cy="180.4" r="0.42"/><circle cx="254.3" cy="194.6" r="0.42"/><circle cx="226.9" cy="186.7" r="0.42"/><circle cx="226.2" cy="181.0" r="0.42"/><circle cx="230.4" cy="186.8" r="0.42"/><circle cx="200.2" cy="190.9" r="0.42"/><circle cx="230.2" cy="186.5" r="0.42"/><circle cx="227.0" cy="186.6" r="0.42"/><circle cx="218.7" cy="195.7" r="0.42"/><circle cx="239.5" cy="182.4" r="0.42"/><circle cx="231.5" cy="177.7" r="0.42"/><circle cx="237.1" cy="178.8" r="0.42"/><circle cx="224.8" cy="194.0" r="0.42"/><circle cx="217.4" cy="188.3" r="0.42"/><circle cx="234.5" cy="181.3" r="0.42"/><circle cx="228.5" cy="194.6" r="0.42"/><circle cx="225.4" cy="180.9" r="0.42"/><circle cx="218.3" cy="186.0" r="0.42"/><circle cx="224.1" cy="191.7" r="0.42"/><circle cx="204.9" cy="189.3" r="0.42"/><circle cx="227.3" cy="197.8" r="0.42"/><circle cx="205.1" cy="183.2" r="0.42"/><circle cx="233.7" cy="185.2" r="0.42"/><circle cx="236.0" cy="184.8" r="0.42"/><circle cx="215.6" cy="187.8" r="0.42"/><circle cx="238.5" cy="190.2" r="0.42"/><circle cx="225.7" cy="187.8" r="0.42"/><circle cx="236.5" cy="189.7" r="0.42"/><circle cx="226.9" cy="192.0" r="0.42"/><circle cx="223.2" cy="178.8" r="0.42"/><circle cx="235.1" cy="194.3" r="0.42"/><circle cx="239.5" cy="184.2" r="0.42"/><circle cx="209.6" cy="192.2" r="0.42"/><circle cx="214.3" cy="174.5" r="0.42"/><circle cx="224.2" cy="181.2" r="0.42"/><circle cx="223.5" cy="183.4" r="0.42"/><circle cx="233.7" cy="191.9" r="0.42"/><circle cx="230.4" cy="194.8" r="0.42"/><circle cx="219.6" cy="205.3" r="0.42"/><circle cx="203.9" cy="195.6" r="0.42"/><circle cx="234.8" cy="182.4" r="0.42"/><circle cx="223.3" cy="178.2" r="0.42"/><circle cx="218.4" cy="190.0" r="0.42"/><circle cx="206.3" cy="175.1" r="0.42"/><circle cx="218.1" cy="181.6" r="0.42"/><circle cx="211.8" cy="187.6" r="0.42"/><circle cx="208.4" cy="197.5" r="0.42"/><circle cx="236.6" cy="185.3" r="0.42"/><circle cx="216.3" cy="187.7" r="0.42"/><circle cx="221.1" cy="181.5" r="0.42"/><circle cx="216.1" cy="191.3" r="0.42"/><circle cx="212.0" cy="184.0" r="0.42"/><circle cx="216.9" cy="180.6" r="0.42"/><circle cx="224.8" cy="177.3" r="0.42"/><circle cx="234.7" cy="190.6" r="0.42"/><circle cx="223.8" cy="193.3" r="0.42"/><circle cx="235.4" cy="182.3" r="0.42"/><circle cx="221.9" cy="182.8" r="0.42"/><circle cx="218.5" cy="184.9" r="0.42"/><circle cx="224.7" cy="190.6" r="0.42"/><circle cx="248.9" cy="185.6" r="0.42"/><circle cx="233.8" cy="183.8" r="0.42"/><circle cx="242.4" cy="185.0" r="0.42"/><circle cx="220.8" cy="185.4" r="0.42"/><circle cx="223.0" cy="184.2" r="0.42"/><circle cx="227.1" cy="199.5" r="0.42"/><circle cx="223.1" cy="181.5" r="0.42"/><circle cx="201.6" cy="189.5" r="0.42"/><circle cx="210.7" cy="183.3" r="0.42"/><circle cx="225.2" cy="189.3" r="0.42"/><circle cx="229.8" cy="194.5" r="0.42"/><circle cx="211.4" cy="184.0" r="0.42"/><circle cx="211.9" cy="181.3" r="0.42"/><circle cx="214.6" cy="182.1" r="0.42"/><circle cx="229.8" cy="178.1" r="0.42"/><circle cx="246.1" cy="168.4" r="0.42"/><circle cx="230.9" cy="174.3" r="0.42"/><circle cx="216.1" cy="179.1" r="0.42"/><circle cx="223.6" cy="190.4" r="0.42"/><circle cx="217.5" cy="183.0" r="0.42"/><circle cx="210.7" cy="182.6" r="0.42"/><circle cx="212.4" cy="183.6" r="0.42"/><circle cx="224.6" cy="193.2" r="0.42"/><circle cx="212.7" cy="173.6" r="0.42"/><circle cx="219.6" cy="193.5" r="0.42"/></g>
<path d="M202.3,185.4 L205.3,183.9 C207,182.5 208.5,181.5 210.2,180.6 C213,179.5 215.5,178.5 218.4,177.7 C221,177 224,176.6 226.6,176.5 C229,176.5 231,176.8 232.3,177.3 C234.5,178.5 236,180 236.6,181.4 C237.4,184 237.4,187 237.2,189.6 C237,193 236.6,196 236.4,200 L202.3,200 Z" fill="#2846f2" filter="url(#bl4)"/>
<ellipse cx="223.6" cy="188.2" rx="11.4" ry="8.0" fill="#2cc4f0" fill-opacity="1" transform="rotate(-12 223.6 188.2)" filter="url(#bl4)"/>
<ellipse cx="225.6" cy="187.3" rx="9.0" ry="6.2" fill="#44e070" fill-opacity="1" transform="rotate(-15 225.6 187.3)" filter="url(#bl4)"/>
<ellipse cx="227.0" cy="186.4" rx="5.8" ry="4.0" fill="#d8f030" fill-opacity="1" transform="rotate(-15 227.0 186.4)" filter="url(#bl3)"/>
<ellipse cx="228.0" cy="186.0" rx="4.0" ry="2.8" fill="#f88018" fill-opacity="1" transform="rotate(-15 228.0 186.0)" filter="url(#bl3)"/>
<ellipse cx="228.2" cy="185.9" rx="2.9" ry="2.0" fill="#f42a10" fill-opacity="1" transform="rotate(-15 228.2 185.9)" filter="url(#bl3)"/>
</g>
<line x1="57.00" y1="141.70" x2="57.00" y2="200.00" stroke="#5a5a5a" stroke-width="1.1"/>
<line x1="44.60" y1="189.10" x2="103.40" y2="189.10" stroke="#2a2a2a" stroke-width="1.3"/>
<rect x="45.2" y="193.2" width="15.5" height="6.2" fill="#fff" fill-opacity="0.85"/>
<rect x="89.60000000000001" y="193.2" width="13.2" height="6.2" fill="#fff" fill-opacity="0.85"/>
<rect x="44.6" y="141.7" width="58.80" height="58.30" fill="none" stroke="#000" stroke-width="1.3"/>
<text x="45.60" y="148.70" font-size="7.00" text-anchor="start" fill="#222" textLength="18.00" lengthAdjust="spacingAndGlyphs" >0.062</text>
<text x="102.10" y="148.70" font-size="7.00" text-anchor="end" fill="#222" textLength="14.50" lengthAdjust="spacingAndGlyphs" >0.46</text>
<text x="45.60" y="198.70" font-size="7.00" text-anchor="start" fill="#222" textLength="14.50" lengthAdjust="spacingAndGlyphs" >41.6</text>
<text x="102.10" y="198.70" font-size="7.00" text-anchor="end" fill="#222" textLength="14.30" lengthAdjust="spacingAndGlyphs" >57.9</text>
<text x="40.20" y="150.20" font-size="6.6" text-anchor="end" fill="#222" textLength="7.4" lengthAdjust="spacingAndGlyphs">10</text>
<text x="40.40" y="147.90" font-size="3.6" fill="#222">5</text>
<line x1="43.20" y1="147.90" x2="44.60" y2="147.90" stroke="#000" stroke-width="0.8"/>
<text x="40.20" y="163.40" font-size="6.6" text-anchor="end" fill="#222" textLength="7.4" lengthAdjust="spacingAndGlyphs">10</text>
<text x="40.40" y="161.10" font-size="3.6" fill="#222">4</text>
<line x1="43.20" y1="161.10" x2="44.60" y2="161.10" stroke="#000" stroke-width="0.8"/>
<text x="40.20" y="176.40" font-size="6.6" text-anchor="end" fill="#222" textLength="7.4" lengthAdjust="spacingAndGlyphs">10</text>
<text x="40.40" y="174.10" font-size="3.6" fill="#222">3</text>
<line x1="43.20" y1="174.10" x2="44.60" y2="174.10" stroke="#000" stroke-width="0.8"/>
<text x="40.20" y="190.00" font-size="6.6" text-anchor="end" fill="#222" textLength="7.4" lengthAdjust="spacingAndGlyphs">10</text>
<text x="40.40" y="187.70" font-size="3.6" fill="#222">2</text>
<line x1="43.20" y1="187.70" x2="44.60" y2="187.70" stroke="#000" stroke-width="0.8"/>
<text x="41.60" y="196.90" font-size="6.60" text-anchor="end" fill="#222" >0</text>
<text x="55.90" y="208.20" font-size="6.20" text-anchor="middle" fill="#222" >0</text>
<text x="62.00" y="208.20" font-size="6.2" fill="#222" textLength="7.0" lengthAdjust="spacingAndGlyphs">10</text>
<text x="69.10" y="205.60" font-size="3.4" fill="#222">2</text>
<text x="73.70" y="208.20" font-size="6.2" fill="#222" textLength="7.0" lengthAdjust="spacingAndGlyphs">10</text>
<text x="80.80" y="205.60" font-size="3.4" fill="#222">3</text>
<text x="85.30" y="208.20" font-size="6.2" fill="#222" textLength="7.0" lengthAdjust="spacingAndGlyphs">10</text>
<text x="92.40" y="205.60" font-size="3.4" fill="#222">4</text>
<text x="96.30" y="208.20" font-size="6.2" fill="#222" textLength="7.0" lengthAdjust="spacingAndGlyphs">10</text>
<text x="103.40" y="205.60" font-size="3.4" fill="#222">5</text>
<line x1="55.90" y1="200.00" x2="55.90" y2="201.30" stroke="#000" stroke-width="0.8"/>
<line x1="66.00" y1="200.00" x2="66.00" y2="201.30" stroke="#000" stroke-width="0.8"/>
<line x1="77.60" y1="200.00" x2="77.60" y2="201.30" stroke="#000" stroke-width="0.8"/>
<line x1="89.10" y1="200.00" x2="89.10" y2="201.30" stroke="#000" stroke-width="0.8"/>
<line x1="100.00" y1="200.00" x2="100.00" y2="201.30" stroke="#000" stroke-width="0.8"/>
<line x1="134.90" y1="142.00" x2="134.90" y2="200.20" stroke="#5a5a5a" stroke-width="1.1"/>
<line x1="122.50" y1="189.40" x2="181.00" y2="189.40" stroke="#2a2a2a" stroke-width="1.3"/>
<rect x="123.1" y="193.39999999999998" width="15.2" height="6.2" fill="#fff" fill-opacity="0.85"/>
<rect x="167.2" y="193.39999999999998" width="13.2" height="6.2" fill="#fff" fill-opacity="0.85"/>
<rect x="122.5" y="142.0" width="58.50" height="58.20" fill="none" stroke="#000" stroke-width="1.3"/>
<text x="123.50" y="149.00" font-size="7.00" text-anchor="start" fill="#222" textLength="14.50" lengthAdjust="spacingAndGlyphs" >8.30</text>
<text x="179.70" y="149.00" font-size="7.00" text-anchor="end" fill="#222" textLength="14.50" lengthAdjust="spacingAndGlyphs" >56.8</text>
<text x="123.50" y="198.90" font-size="7.00" text-anchor="start" fill="#222" textLength="14.50" lengthAdjust="spacingAndGlyphs" >7.59</text>
<text x="179.70" y="198.90" font-size="7.00" text-anchor="end" fill="#222" textLength="14.30" lengthAdjust="spacingAndGlyphs" >27.4</text>
<text x="118.10" y="150.50" font-size="6.6" text-anchor="end" fill="#222" textLength="7.4" lengthAdjust="spacingAndGlyphs">10</text>
<text x="118.30" y="148.20" font-size="3.6" fill="#222">5</text>
<line x1="121.10" y1="148.20" x2="122.50" y2="148.20" stroke="#000" stroke-width="0.8"/>
<text x="118.10" y="163.70" font-size="6.6" text-anchor="end" fill="#222" textLength="7.4" lengthAdjust="spacingAndGlyphs">10</text>
<text x="118.30" y="161.40" font-size="3.6" fill="#222">4</text>
<line x1="121.10" y1="161.40" x2="122.50" y2="161.40" stroke="#000" stroke-width="0.8"/>
<text x="118.10" y="176.70" font-size="6.6" text-anchor="end" fill="#222" textLength="7.4" lengthAdjust="spacingAndGlyphs">10</text>
<text x="118.30" y="174.40" font-size="3.6" fill="#222">3</text>
<line x1="121.10" y1="174.40" x2="122.50" y2="174.40" stroke="#000" stroke-width="0.8"/>
<text x="118.10" y="190.30" font-size="6.6" text-anchor="end" fill="#222" textLength="7.4" lengthAdjust="spacingAndGlyphs">10</text>
<text x="118.30" y="188.00" font-size="3.6" fill="#222">2</text>
<line x1="121.10" y1="188.00" x2="122.50" y2="188.00" stroke="#000" stroke-width="0.8"/>
<text x="119.50" y="197.20" font-size="6.60" text-anchor="end" fill="#222" >0</text>
<text x="133.80" y="208.40" font-size="6.20" text-anchor="middle" fill="#222" >0</text>
<text x="139.90" y="208.40" font-size="6.2" fill="#222" textLength="7.0" lengthAdjust="spacingAndGlyphs">10</text>
<text x="147.00" y="205.80" font-size="3.4" fill="#222">2</text>
<text x="151.60" y="208.40" font-size="6.2" fill="#222" textLength="7.0" lengthAdjust="spacingAndGlyphs">10</text>
<text x="158.70" y="205.80" font-size="3.4" fill="#222">3</text>
<text x="163.20" y="208.40" font-size="6.2" fill="#222" textLength="7.0" lengthAdjust="spacingAndGlyphs">10</text>
<text x="170.30" y="205.80" font-size="3.4" fill="#222">4</text>
<text x="174.20" y="208.40" font-size="6.2" fill="#222" textLength="7.0" lengthAdjust="spacingAndGlyphs">10</text>
<text x="181.30" y="205.80" font-size="3.4" fill="#222">5</text>
<line x1="133.80" y1="200.20" x2="133.80" y2="201.50" stroke="#000" stroke-width="0.8"/>
<line x1="143.90" y1="200.20" x2="143.90" y2="201.50" stroke="#000" stroke-width="0.8"/>
<line x1="155.50" y1="200.20" x2="155.50" y2="201.50" stroke="#000" stroke-width="0.8"/>
<line x1="167.00" y1="200.20" x2="167.00" y2="201.50" stroke="#000" stroke-width="0.8"/>
<line x1="177.90" y1="200.20" x2="177.90" y2="201.50" stroke="#000" stroke-width="0.8"/>
<line x1="214.30" y1="141.70" x2="214.30" y2="200.00" stroke="#111" stroke-width="0.9"/>
<line x1="202.30" y1="189.40" x2="261.40" y2="189.40" stroke="#2a2a2a" stroke-width="1.3"/>
<rect x="202.9" y="193.2" width="15.2" height="6.2" fill="#fff" fill-opacity="0.85"/>
<rect x="247.59999999999997" y="193.2" width="13.2" height="6.2" fill="#fff" fill-opacity="0.85"/>
<rect x="202.3" y="141.7" width="59.10" height="58.30" fill="none" stroke="#000" stroke-width="1.3"/>
<text x="203.30" y="148.70" font-size="7.00" text-anchor="start" fill="#222" textLength="14.50" lengthAdjust="spacingAndGlyphs" >3.73</text>
<text x="260.10" y="148.70" font-size="7.00" text-anchor="end" fill="#222" textLength="14.50" lengthAdjust="spacingAndGlyphs" >59.7</text>
<text x="203.30" y="198.70" font-size="7.00" text-anchor="start" fill="#222" textLength="14.50" lengthAdjust="spacingAndGlyphs" >4.34</text>
<text x="260.10" y="198.70" font-size="7.00" text-anchor="end" fill="#222" textLength="14.30" lengthAdjust="spacingAndGlyphs" >32.2</text>
<text x="197.90" y="150.20" font-size="6.6" text-anchor="end" fill="#222" textLength="7.4" lengthAdjust="spacingAndGlyphs">10</text>
<text x="198.10" y="147.90" font-size="3.6" fill="#222">5</text>
<line x1="200.90" y1="147.90" x2="202.30" y2="147.90" stroke="#000" stroke-width="0.8"/>
<text x="197.90" y="163.40" font-size="6.6" text-anchor="end" fill="#222" textLength="7.4" lengthAdjust="spacingAndGlyphs">10</text>
<text x="198.10" y="161.10" font-size="3.6" fill="#222">4</text>
<line x1="200.90" y1="161.10" x2="202.30" y2="161.10" stroke="#000" stroke-width="0.8"/>
<text x="197.90" y="176.40" font-size="6.6" text-anchor="end" fill="#222" textLength="7.4" lengthAdjust="spacingAndGlyphs">10</text>
<text x="198.10" y="174.10" font-size="3.6" fill="#222">3</text>
<line x1="200.90" y1="174.10" x2="202.30" y2="174.10" stroke="#000" stroke-width="0.8"/>
<text x="197.90" y="190.00" font-size="6.6" text-anchor="end" fill="#222" textLength="7.4" lengthAdjust="spacingAndGlyphs">10</text>
<text x="198.10" y="187.70" font-size="3.6" fill="#222">2</text>
<line x1="200.90" y1="187.70" x2="202.30" y2="187.70" stroke="#000" stroke-width="0.8"/>
<text x="199.30" y="196.90" font-size="6.60" text-anchor="end" fill="#222" >0</text>
<text x="213.60" y="208.20" font-size="6.20" text-anchor="middle" fill="#222" >0</text>
<text x="219.70" y="208.20" font-size="6.2" fill="#222" textLength="7.0" lengthAdjust="spacingAndGlyphs">10</text>
<text x="226.80" y="205.60" font-size="3.4" fill="#222">2</text>
<text x="231.40" y="208.20" font-size="6.2" fill="#222" textLength="7.0" lengthAdjust="spacingAndGlyphs">10</text>
<text x="238.50" y="205.60" font-size="3.4" fill="#222">3</text>
<text x="243.00" y="208.20" font-size="6.2" fill="#222" textLength="7.0" lengthAdjust="spacingAndGlyphs">10</text>
<text x="250.10" y="205.60" font-size="3.4" fill="#222">4</text>
<text x="254.00" y="208.20" font-size="6.2" fill="#222" textLength="7.0" lengthAdjust="spacingAndGlyphs">10</text>
<text x="261.10" y="205.60" font-size="3.4" fill="#222">5</text>
<line x1="213.60" y1="200.00" x2="213.60" y2="201.30" stroke="#000" stroke-width="0.8"/>
<line x1="223.70" y1="200.00" x2="223.70" y2="201.30" stroke="#000" stroke-width="0.8"/>
<line x1="235.30" y1="200.00" x2="235.30" y2="201.30" stroke="#000" stroke-width="0.8"/>
<line x1="246.80" y1="200.00" x2="246.80" y2="201.30" stroke="#000" stroke-width="0.8"/>
<line x1="257.70" y1="200.00" x2="257.70" y2="201.30" stroke="#000" stroke-width="0.8"/>
<text x="74.00" y="127.10" font-size="8.90" text-anchor="middle" fill="#222" class="s" textLength="14.10" lengthAdjust="spacingAndGlyphs" >WT</text>
<text x="46.10" y="138.60" font-size="8.90" text-anchor="start" fill="#222" class="s" textLength="56.90" lengthAdjust="spacingAndGlyphs" >bone marrow</text>
<text x="126.40" y="138.60" font-size="8.90" text-anchor="start" fill="#222" class="s" textLength="53.50" lengthAdjust="spacingAndGlyphs" ><tspan font-style="italic">Gata2</tspan><tspan font-size="5" dy="-3.2">+/+</tspan><tspan dy="3.2"> APL</tspan></text>
<text x="206.80" y="138.60" font-size="8.90" text-anchor="start" fill="#222" class="s" textLength="50.40" lengthAdjust="spacingAndGlyphs" ><tspan font-style="italic">Gata2</tspan><tspan font-size="5" dy="-3.2">-/-</tspan><tspan dy="3.2"> APL</tspan></text>
<line x1="21.40" y1="151.00" x2="21.40" y2="182.10" stroke="#000" stroke-width="1.3"/>
<path d="M21.4,143.4 L24.9,152.0 L21.4,150.4 L17.9,152.0 Z" fill="#000"/>
<text transform="translate(24.90,193.40) rotate(-90)" font-size="8.60" text-anchor="middle" fill="#222" class="s" textLength="17.80" lengthAdjust="spacingAndGlyphs" >CD34</text>
<text x="38.80" y="217.60" font-size="8.40" text-anchor="start" fill="#222" class="s" textLength="13.10" lengthAdjust="spacingAndGlyphs" >Gr-1</text>
<line x1="56.20" y1="215.20" x2="256.00" y2="215.20" stroke="#000" stroke-width="1.3"/>
<path d="M262.8,215.2 L253.8,211.7 L255.6,215.2 L253.8,218.7 Z" fill="#000"/>
<line x1="287.10" y1="248.50" x2="287.10" y2="306.20" stroke="#000" stroke-width="1.6"/>
<line x1="286.30" y1="305.40" x2="364.60" y2="305.40" stroke="#000" stroke-width="1.6"/>
<line x1="284.10" y1="249.10" x2="287.10" y2="249.10" stroke="#000" stroke-width="1.1"/>
<line x1="285.30" y1="263.17" x2="287.10" y2="263.17" stroke="#000" stroke-width="1.1"/>
<line x1="284.10" y1="277.25" x2="287.10" y2="277.25" stroke="#000" stroke-width="1.1"/>
<line x1="285.30" y1="291.32" x2="287.10" y2="291.32" stroke="#000" stroke-width="1.1"/>
<line x1="284.10" y1="305.40" x2="287.10" y2="305.40" stroke="#000" stroke-width="1.1"/>
<line x1="287.10" y1="305.40" x2="287.10" y2="309.00" stroke="#000" stroke-width="1.1"/>
<line x1="296.71" y1="305.40" x2="296.71" y2="307.40" stroke="#000" stroke-width="1.1"/>
<line x1="306.33" y1="305.40" x2="306.33" y2="309.00" stroke="#000" stroke-width="1.1"/>
<line x1="315.94" y1="305.40" x2="315.94" y2="307.40" stroke="#000" stroke-width="1.1"/>
<line x1="325.55" y1="305.40" x2="325.55" y2="309.00" stroke="#000" stroke-width="1.1"/>
<line x1="335.16" y1="305.40" x2="335.16" y2="307.40" stroke="#000" stroke-width="1.1"/>
<line x1="344.78" y1="305.40" x2="344.78" y2="309.00" stroke="#000" stroke-width="1.1"/>
<line x1="354.39" y1="305.40" x2="354.39" y2="307.40" stroke="#000" stroke-width="1.1"/>
<line x1="364.00" y1="305.40" x2="364.00" y2="309.00" stroke="#000" stroke-width="1.1"/>
<text x="283.40" y="251.80" font-size="8.00" text-anchor="end" fill="#333" class="s" textLength="12.75" lengthAdjust="spacingAndGlyphs" >100</text>
<text x="283.40" y="279.95" font-size="8.00" text-anchor="end" fill="#333" class="s" textLength="8.50" lengthAdjust="spacingAndGlyphs" >50</text>
<text x="283.40" y="308.10" font-size="8.00" text-anchor="end" fill="#333" class="s" textLength="4.25" lengthAdjust="spacingAndGlyphs" >0</text>
<text x="287.10" y="316.70" font-size="7.80" text-anchor="middle" fill="#333" class="s" textLength="4.05" lengthAdjust="spacingAndGlyphs" >0</text>
<text x="306.33" y="316.70" font-size="7.80" text-anchor="middle" fill="#333" class="s" textLength="8.10" lengthAdjust="spacingAndGlyphs" >50</text>
<text x="325.55" y="316.70" font-size="7.80" text-anchor="middle" fill="#333" class="s" textLength="12.15" lengthAdjust="spacingAndGlyphs" >100</text>
<text x="344.78" y="316.70" font-size="7.80" text-anchor="middle" fill="#333" class="s" textLength="12.15" lengthAdjust="spacingAndGlyphs" >150</text>
<text x="364.00" y="316.70" font-size="7.80" text-anchor="middle" fill="#333" class="s" textLength="12.15" lengthAdjust="spacingAndGlyphs" >200</text>
<text x="325.80" y="325.80" font-size="9.00" text-anchor="middle" fill="#333" class="s" textLength="15.80" lengthAdjust="spacingAndGlyphs" >Days</text>
<text transform="translate(253.30,277.75) rotate(-90)" font-size="8.00" text-anchor="middle" fill="#333" class="s" textLength="46.90" lengthAdjust="spacingAndGlyphs" >Leukemia free</text>
<text transform="translate(263.80,278.35) rotate(-90)" font-size="8.00" text-anchor="middle" fill="#333" class="s" textLength="39.40" lengthAdjust="spacingAndGlyphs" >survival (%)</text>
<path d="M287.10,249.10 L298.40,249.10 L298.40,263.50 L301.50,263.50 L301.50,267.20 L302.60,267.20 L302.60,281.20 L304.30,281.20 L304.30,286.40 L307.80,286.40 L307.80,291.60 L310.70,291.60 L310.70,296.00 L312.90,296.00 L312.90,300.90 L325.20,300.90 L325.20,305.40" fill="none" stroke="#2a50c0" stroke-width="1.5" stroke-linejoin="miter" stroke-linecap="butt"/>
<path d="M287.10,249.10 L317.40,249.10 L317.40,258.80 L322.50,258.80 L322.50,267.90 L336.60,267.90 L336.60,277.20 L349.00,277.20 L349.00,277.20" fill="none" stroke="#d9263a" stroke-width="1.5" stroke-linejoin="miter" stroke-linecap="butt"/>
<line x1="291.00" y1="247.70" x2="291.00" y2="249.10" stroke="#d9263a" stroke-width="0.9"/>
<line x1="310.00" y1="247.70" x2="310.00" y2="249.10" stroke="#d9263a" stroke-width="0.9"/>
<line x1="344.50" y1="275.80" x2="344.50" y2="277.20" stroke="#d9263a" stroke-width="0.9"/>
<text x="328.40" y="302.60" font-size="7.40" text-anchor="start" fill="#333" textLength="36.00" lengthAdjust="spacingAndGlyphs" ><tspan font-style="italic">P</tspan> = 0.0003</text>
<text x="368.80" y="254.20" font-size="9.20" text-anchor="start" fill="#222" class="s" textLength="16.20" lengthAdjust="spacingAndGlyphs" >APL</text>
<text x="440.80" y="254.20" font-size="9.20" text-anchor="start" fill="#222" class="s" textLength="43.00" lengthAdjust="spacingAndGlyphs" >Treatment</text>
<line x1="363.90" y1="256.00" x2="485.40" y2="256.00" stroke="#111" stroke-width="1.3"/>
<line x1="356.20" y1="267.70" x2="365.50" y2="267.70" stroke="#d9263a" stroke-width="1.3"/>
<line x1="360.80" y1="266.20" x2="360.80" y2="267.70" stroke="#d9263a" stroke-width="0.8"/>
<text x="368.80" y="270.80" font-size="9.80" text-anchor="start" fill="#222" font-style="italic" class="s" textLength="25.40" lengthAdjust="spacingAndGlyphs" >Gata2</text>
<text x="395.00" y="267.10" font-size="4.60" text-anchor="start" fill="#222" textLength="4.60" lengthAdjust="spacingAndGlyphs" >-/-</text>
<text x="401.20" y="270.80" font-size="6.90" text-anchor="start" fill="#222" textLength="40.00" lengthAdjust="spacingAndGlyphs" >APLs (<tspan font-style="normal">n</tspan>=15)</text>
<text x="458.20" y="270.00" font-size="6.90" text-anchor="start" fill="#222" textLength="18.70" lengthAdjust="spacingAndGlyphs" >ATRA</text>
<line x1="356.20" y1="281.20" x2="365.50" y2="281.20" stroke="#2a50c0" stroke-width="1.3"/>
<line x1="360.80" y1="279.70" x2="360.80" y2="281.20" stroke="#2a50c0" stroke-width="0.8"/>
<text x="368.80" y="284.30" font-size="9.80" text-anchor="start" fill="#222" font-style="italic" class="s" textLength="25.40" lengthAdjust="spacingAndGlyphs" >Gata2</text>
<text x="395.00" y="280.60" font-size="4.60" text-anchor="start" fill="#222" textLength="4.60" lengthAdjust="spacingAndGlyphs" >-/-</text>
<text x="401.20" y="284.30" font-size="6.90" text-anchor="start" fill="#222" textLength="40.00" lengthAdjust="spacingAndGlyphs" >APLs (<tspan font-style="normal">n</tspan>=12)</text>
<text x="459.20" y="283.50" font-size="6.90" text-anchor="start" fill="#222" textLength="18.00" lengthAdjust="spacingAndGlyphs" >Mock</text>
<line x1="287.10" y1="353.70" x2="287.10" y2="410.90" stroke="#000" stroke-width="1.6"/>
<line x1="286.30" y1="410.10" x2="364.60" y2="410.10" stroke="#000" stroke-width="1.6"/>
<line x1="284.10" y1="354.30" x2="287.10" y2="354.30" stroke="#000" stroke-width="1.1"/>
<line x1="285.30" y1="368.25" x2="287.10" y2="368.25" stroke="#000" stroke-width="1.1"/>
<line x1="284.10" y1="382.20" x2="287.10" y2="382.20" stroke="#000" stroke-width="1.1"/>
<line x1="285.30" y1="396.15" x2="287.10" y2="396.15" stroke="#000" stroke-width="1.1"/>
<line x1="284.10" y1="410.10" x2="287.10" y2="410.10" stroke="#000" stroke-width="1.1"/>
<line x1="287.10" y1="410.10" x2="287.10" y2="413.70" stroke="#000" stroke-width="1.1"/>
<line x1="296.71" y1="410.10" x2="296.71" y2="412.10" stroke="#000" stroke-width="1.1"/>
<line x1="306.33" y1="410.10" x2="306.33" y2="413.70" stroke="#000" stroke-width="1.1"/>
<line x1="315.94" y1="410.10" x2="315.94" y2="412.10" stroke="#000" stroke-width="1.1"/>
<line x1="325.55" y1="410.10" x2="325.55" y2="413.70" stroke="#000" stroke-width="1.1"/>
<line x1="335.16" y1="410.10" x2="335.16" y2="412.10" stroke="#000" stroke-width="1.1"/>
<line x1="344.78" y1="410.10" x2="344.78" y2="413.70" stroke="#000" stroke-width="1.1"/>
<line x1="354.39" y1="410.10" x2="354.39" y2="412.10" stroke="#000" stroke-width="1.1"/>
<line x1="364.00" y1="410.10" x2="364.00" y2="413.70" stroke="#000" stroke-width="1.1"/>
<text x="283.40" y="357.00" font-size="8.00" text-anchor="end" fill="#333" class="s" textLength="12.75" lengthAdjust="spacingAndGlyphs" >100</text>
<text x="283.40" y="384.90" font-size="8.00" text-anchor="end" fill="#333" class="s" textLength="8.50" lengthAdjust="spacingAndGlyphs" >50</text>
<text x="283.40" y="412.80" font-size="8.00" text-anchor="end" fill="#333" class="s" textLength="4.25" lengthAdjust="spacingAndGlyphs" >0</text>
<text x="287.10" y="421.40" font-size="7.80" text-anchor="middle" fill="#333" class="s" textLength="4.05" lengthAdjust="spacingAndGlyphs" >0</text>
<text x="306.33" y="421.40" font-size="7.80" text-anchor="middle" fill="#333" class="s" textLength="8.10" lengthAdjust="spacingAndGlyphs" >50</text>
<text x="325.55" y="421.40" font-size="7.80" text-anchor="middle" fill="#333" class="s" textLength="12.15" lengthAdjust="spacingAndGlyphs" >100</text>
<text x="344.78" y="421.40" font-size="7.80" text-anchor="middle" fill="#333" class="s" textLength="12.15" lengthAdjust="spacingAndGlyphs" >150</text>
<text x="364.00" y="421.40" font-size="7.80" text-anchor="middle" fill="#333" class="s" textLength="12.15" lengthAdjust="spacingAndGlyphs" >200</text>
<text x="325.80" y="430.50" font-size="9.00" text-anchor="middle" fill="#333" class="s" textLength="15.80" lengthAdjust="spacingAndGlyphs" >Days</text>
<text transform="translate(253.30,382.70) rotate(-90)" font-size="8.00" text-anchor="middle" fill="#333" class="s" textLength="46.90" lengthAdjust="spacingAndGlyphs" >Leukemia free</text>
<text transform="translate(263.80,383.30) rotate(-90)" font-size="8.00" text-anchor="middle" fill="#333" class="s" textLength="39.40" lengthAdjust="spacingAndGlyphs" >survival (%)</text>
<path d="M287.10,354.30 L302.30,354.30 L302.30,373.20 L307.70,373.20 L307.70,391.90 L310.50,391.90 L310.50,410.10" fill="none" stroke="#2a50c0" stroke-width="1.5" stroke-linejoin="miter" stroke-linecap="butt"/>
<path d="M287.10,354.30 L331.40,354.30 L331.40,373.20 L343.50,373.20 L343.50,373.20" fill="none" stroke="#d9263a" stroke-width="1.5" stroke-linejoin="miter" stroke-linecap="butt"/>
<line x1="343.50" y1="371.80" x2="343.50" y2="373.20" stroke="#d9263a" stroke-width="0.9"/>
<text x="327.00" y="407.30" font-size="7.40" text-anchor="start" fill="#333" textLength="36.80" lengthAdjust="spacingAndGlyphs" ><tspan font-style="italic">P</tspan> = 0.0246</text>
<text x="368.80" y="353.80" font-size="9.20" text-anchor="start" fill="#222" class="s" textLength="16.20" lengthAdjust="spacingAndGlyphs" >APL</text>
<text x="440.80" y="353.50" font-size="9.20" text-anchor="start" fill="#222" class="s" textLength="43.00" lengthAdjust="spacingAndGlyphs" >Treatment</text>
<line x1="363.90" y1="355.30" x2="485.40" y2="355.30" stroke="#111" stroke-width="1.3"/>
<line x1="355.50" y1="364.60" x2="365.50" y2="364.60" stroke="#d9263a" stroke-width="1.3"/>
<line x1="360.80" y1="363.10" x2="360.80" y2="364.60" stroke="#d9263a" stroke-width="0.8"/>
<text x="369.60" y="368.50" font-size="9.80" text-anchor="start" fill="#222" font-style="italic" class="s" textLength="25.40" lengthAdjust="spacingAndGlyphs" >Gata2</text>
<text x="395.80" y="364.80" font-size="4.60" text-anchor="start" fill="#222" textLength="5.60" lengthAdjust="spacingAndGlyphs" >+/+</text>
<text x="404.00" y="368.20" font-size="6.90" text-anchor="start" fill="#222" textLength="46.80" lengthAdjust="spacingAndGlyphs" >mAPLs (<tspan font-style="normal">n</tspan> = 3)</text>
<text x="460.30" y="367.60" font-size="6.90" text-anchor="start" fill="#222" textLength="18.50" lengthAdjust="spacingAndGlyphs" >ATRA</text>
<line x1="355.50" y1="378.50" x2="365.50" y2="378.50" stroke="#2a50c0" stroke-width="1.3"/>
<line x1="360.80" y1="377.00" x2="360.80" y2="378.50" stroke="#2a50c0" stroke-width="0.8"/>
<text x="369.60" y="382.40" font-size="9.80" text-anchor="start" fill="#222" font-style="italic" class="s" textLength="25.40" lengthAdjust="spacingAndGlyphs" >Gata2</text>
<text x="395.80" y="378.70" font-size="4.60" text-anchor="start" fill="#222" textLength="5.60" lengthAdjust="spacingAndGlyphs" >+/+</text>
<text x="404.00" y="382.10" font-size="6.90" text-anchor="start" fill="#222" textLength="46.80" lengthAdjust="spacingAndGlyphs" >mAPLs (<tspan font-style="normal">n</tspan> = 3)</text>
<text x="461.20" y="381.50" font-size="6.90" text-anchor="start" fill="#222" textLength="18.00" lengthAdjust="spacingAndGlyphs" >Mock</text>
<text x="42.80" y="287.60" font-size="9.60" text-anchor="start" fill="#222" class="s" textLength="25.00" lengthAdjust="spacingAndGlyphs" >Blood</text>
<text x="10.80" y="346.90" font-size="9.60" text-anchor="start" fill="#222" class="s" textLength="56.90" lengthAdjust="spacingAndGlyphs" >Bone marrow</text>
<text x="38.60" y="406.00" font-size="9.60" text-anchor="start" fill="#222" class="s" textLength="29.10" lengthAdjust="spacingAndGlyphs" >Spleen</text>
<text x="85.40" y="254.50" font-size="9.00" text-anchor="start" fill="#222" class="s" textLength="54.10" lengthAdjust="spacingAndGlyphs" ><tspan font-style="italic">Gata2</tspan><tspan font-size="5" dy="-3.2">+/+</tspan><tspan dy="3.2"> APL</tspan></text>
<text x="165.80" y="255.30" font-size="9.00" text-anchor="start" fill="#222" class="s" textLength="50.00" lengthAdjust="spacingAndGlyphs" ><tspan font-style="italic">Gata2</tspan><tspan font-size="5" dy="-3.2">-/-</tspan><tspan dy="3.2"> APL</tspan></text>
<defs><clipPath id="ci_b1"><rect x="73.2" y="257.3" width="75.1" height="56.1"/></clipPath><clipPath id="ci_b2"><rect x="151.7" y="257.3" width="79.7" height="56.1"/></clipPath><clipPath id="ci_m1"><rect x="73.2" y="316.6" width="75.1" height="56.1"/></clipPath><clipPath id="ci_m2"><rect x="151.7" y="316.7" width="79.7" height="56.0"/></clipPath><clipPath id="ci_s1"><rect x="73.2" y="376.5" width="75.1" height="55.1"/></clipPath><clipPath id="ci_s2"><rect x="151.7" y="376.7" width="79.7" height="55.1"/></clipPath><radialGradient id="gcell" cx="0.5" cy="0.5" r="0.55"><stop offset="0" stop-color="#3222c8"/><stop offset="0.7" stop-color="#3a2ccc"/><stop offset="1" stop-color="#6a6ad8"/></radialGradient><radialGradient id="gcell2" cx="0.5" cy="0.5" r="0.55"><stop offset="0" stop-color="#1e14c0"/><stop offset="0.7" stop-color="#2820d0"/><stop offset="1" stop-color="#5060e0"/></radialGradient><radialGradient id="gcell3" cx="0.5" cy="0.5" r="0.55"><stop offset="0" stop-color="#5838c8"/><stop offset="0.7" stop-color="#6044cc"/><stop offset="1" stop-color="#9484dc"/></radialGradient><radialGradient id="gcell4" cx="0.5" cy="0.5" r="0.55"><stop offset="0" stop-color="#4c32cc"/><stop offset="0.7" stop-color="#5238d0"/><stop offset="1" stop-color="#8484e0"/></radialGradient><radialGradient id="gsmear" cx="0.3" cy="0.3" r="0.7"><stop offset="0" stop-color="#8040c8"/><stop offset="0.6" stop-color="#9860d0" stop-opacity="0.8"/><stop offset="1" stop-color="#c8a8e0" stop-opacity="0"/></radialGradient><radialGradient id="gpink" cx="0.5" cy="0.5" r="0.5"><stop offset="0" stop-color="#e090c8"/><stop offset="0.7" stop-color="#e8a8d0" stop-opacity="0.8"/><stop offset="1" stop-color="#f0d0e0" stop-opacity="0"/></radialGradient></defs>
<g clip-path="url(#ci_b1)">
<rect x="73.2" y="257.3" width="75.1" height="56.1" fill="#dbe7e2"/>
<g fill="#e2d4dc" stroke="#cc98b4" stroke-width="1.6" filter="url(#bl3)"><circle cx="120.5" cy="299.9" r="2.32"/><circle cx="145.7" cy="299.8" r="2.37"/><circle cx="73.5" cy="283.3" r="2.38"/><circle cx="122.5" cy="309.4" r="2.05"/><circle cx="108.3" cy="270.1" r="2.22"/><circle cx="116.6" cy="256.1" r="2.09"/><circle cx="93.3" cy="310.4" r="2.31"/><circle cx="83.8" cy="303.2" r="2.06"/><circle cx="120.0" cy="262.9" r="2.00"/><circle cx="140.1" cy="267.9" r="2.09"/><circle cx="148.9" cy="307.7" r="2.12"/><circle cx="147.3" cy="287.7" r="2.27"/><circle cx="99.8" cy="265.3" r="2.06"/><circle cx="76.4" cy="273.4" r="2.24"/><circle cx="71.5" cy="296.0" r="2.14"/><circle cx="96.2" cy="284.2" r="2.28"/><circle cx="75.7" cy="313.9" r="2.01"/><circle cx="130.5" cy="306.1" r="2.01"/><circle cx="133.5" cy="277.3" r="2.23"/><circle cx="71.9" cy="258.1" r="2.07"/><circle cx="146.8" cy="267.1" r="2.30"/><circle cx="139.2" cy="257.5" r="2.38"/><circle cx="143.8" cy="275.7" r="2.37"/><circle cx="114.3" cy="274.1" r="2.13"/><circle cx="85.2" cy="260.0" r="2.06"/><circle cx="125.7" cy="315.2" r="2.06"/><circle cx="110.2" cy="305.7" r="2.05"/><circle cx="133.5" cy="261.7" r="2.17"/><circle cx="107.0" cy="315.4" r="2.34"/><circle cx="128.9" cy="284.1" r="2.12"/><circle cx="92.7" cy="302.3" r="2.35"/><circle cx="99.8" cy="302.5" r="2.31"/><circle cx="126.1" cy="295.2" r="2.30"/><circle cx="91.0" cy="295.7" r="2.19"/><circle cx="135.8" cy="294.2" r="2.32"/><circle cx="98.7" cy="294.0" r="2.30"/><circle cx="108.9" cy="296.9" r="2.29"/><circle cx="128.2" cy="257.0" r="2.06"/><circle cx="82.4" cy="291.1" r="2.23"/><circle cx="92.4" cy="264.6" r="2.40"/><circle cx="113.1" cy="283.2" r="2.14"/><circle cx="109.0" cy="288.3" r="2.20"/><circle cx="136.0" cy="302.9" r="2.27"/><circle cx="119.5" cy="280.2" r="2.06"/><circle cx="81.8" cy="281.2" r="2.13"/><circle cx="100.8" cy="258.7" r="2.28"/><circle cx="89.7" cy="277.6" r="2.29"/><circle cx="140.6" cy="284.2" r="2.13"/><circle cx="75.4" cy="264.4" r="2.38"/><circle cx="125.1" cy="268.7" r="2.05"/><circle cx="118.1" cy="289.8" r="2.30"/><circle cx="105.1" cy="283.3" r="2.04"/><circle cx="139.2" cy="312.3" r="2.24"/><circle cx="113.1" cy="265.6" r="2.28"/><circle cx="148.6" cy="257.3" r="2.23"/><circle cx="76.9" cy="301.0" r="2.29"/><circle cx="101.4" cy="272.8" r="2.20"/><circle cx="103.9" cy="307.8" r="2.33"/><circle cx="107.4" cy="259.7" r="2.15"/><circle cx="82.6" cy="313.4" r="2.11"/><circle cx="81.8" cy="267.5" r="2.28"/><circle cx="92.9" cy="255.9" r="2.26"/><circle cx="143.7" cy="293.5" r="2.02"/><circle cx="93.8" cy="271.2" r="2.33"/><circle cx="132.1" cy="312.8" r="2.25"/><circle cx="89.1" cy="284.9" r="2.21"/><circle cx="83.0" cy="274.2" r="2.31"/><circle cx="73.6" cy="308.2" r="2.04"/><circle cx="125.6" cy="275.1" r="2.10"/><circle cx="113.4" cy="311.5" r="2.13"/><circle cx="118.9" cy="315.4" r="2.32"/><circle cx="150.3" cy="315.2" r="2.38"/><circle cx="79.4" cy="256.4" r="2.14"/><circle cx="88.6" cy="315.4" r="2.22"/></g>
<ellipse cx="100" cy="260" rx="10" ry="4.5" fill="#b070d0" fill-opacity="0.7" filter="url(#bl4)"/>
<ellipse cx="104" cy="261" rx="5" ry="3" fill="#9a58cc" fill-opacity="0.7" filter="url(#bl4)"/>
<path d="M75.30,267.18 Q74.67,265.53 74.78,263.74 Q74.89,261.94 76.64,261.01 Q78.39,260.08 80.46,259.95 Q82.52,259.83 83.86,261.26 Q85.20,262.69 85.22,264.42 Q85.25,266.15 84.03,267.29 Q82.81,268.43 81.21,269.46 Q79.61,270.50 77.76,269.67 Q75.92,268.84 75.30,267.18Z" fill="#8a88e0" fill-opacity="0.9" filter="url(#bl3)"/>
<path d="M84.34,267.02 Q83.39,268.62 81.51,268.80 Q79.62,268.98 77.98,268.37 Q76.34,267.76 76.06,266.22 Q75.79,264.67 76.58,263.43 Q77.37,262.19 78.89,261.43 Q80.42,260.67 82.24,261.30 Q84.07,261.93 84.68,263.67 Q85.29,265.41 84.34,267.02Z" fill="#4430cc" fill-opacity="1.0" filter="url(#bl3)"/>
<path d="M79.95,262.50 Q81.18,262.20 81.73,263.32 Q82.29,264.44 81.55,265.30 Q80.81,266.16 79.76,266.71 Q78.71,267.27 77.66,266.55 Q76.61,265.84 76.94,264.81 Q77.26,263.79 78.00,263.29 Q78.73,262.79 79.95,262.50Z" fill="#2a14a8" fill-opacity="0.6" filter="url(#bl4)"/>
<path d="M133.65,266.20 Q134.85,267.52 135.76,269.17 Q136.67,270.81 135.74,272.59 Q134.81,274.38 132.85,274.72 Q130.88,275.06 129.10,274.59 Q127.33,274.12 126.70,272.53 Q126.07,270.94 126.29,269.40 Q126.52,267.87 127.49,266.27 Q128.46,264.68 130.45,264.78 Q132.45,264.88 133.65,266.20Z" fill="#90b0ec" fill-opacity="0.9" filter="url(#bl3)"/>
<path d="M131.92,274.35 Q130.47,274.85 129.16,274.14 Q127.85,273.44 126.74,272.08 Q125.62,270.73 126.77,269.37 Q127.91,268.02 129.41,267.70 Q130.91,267.39 132.74,267.54 Q134.57,267.69 134.76,269.46 Q134.95,271.23 134.16,272.54 Q133.36,273.85 131.92,274.35Z" fill="#2c1cc0" fill-opacity="1.0" filter="url(#bl3)"/>
<path d="M127.55,270.81 Q127.84,269.66 128.59,268.93 Q129.34,268.19 130.41,268.42 Q131.48,268.65 132.03,269.56 Q132.59,270.46 132.03,271.32 Q131.47,272.18 130.51,272.56 Q129.54,272.94 128.40,272.45 Q127.26,271.95 127.55,270.81Z" fill="#2a14a8" fill-opacity="0.6" filter="url(#bl4)"/>
<path d="M144.02,311.14 Q141.66,311.47 139.51,310.94 Q137.37,310.41 136.08,308.85 Q134.79,307.29 135.04,305.53 Q135.30,303.77 136.66,302.38 Q138.03,300.99 140.42,300.69 Q142.81,300.39 144.28,302.02 Q145.75,303.64 146.59,305.30 Q147.43,306.95 146.91,308.88 Q146.38,310.81 144.02,311.14Z" fill="#a494e6" fill-opacity="0.9" filter="url(#bl3)"/>
<path d="M145.94,305.29 Q146.22,307.24 144.88,308.49 Q143.53,309.74 141.62,310.14 Q139.71,310.54 137.75,309.67 Q135.79,308.80 135.75,307.06 Q135.70,305.33 136.78,304.22 Q137.86,303.11 139.60,302.37 Q141.34,301.63 143.50,302.49 Q145.66,303.35 145.94,305.29Z" fill="#5434c8" fill-opacity="1.0" filter="url(#bl3)"/>
<path d="M137.09,306.96 Q136.13,305.97 136.83,304.96 Q137.53,303.95 138.74,303.54 Q139.96,303.13 141.15,303.79 Q142.34,304.45 142.61,305.62 Q142.88,306.78 141.85,307.52 Q140.83,308.27 139.44,308.11 Q138.05,307.96 137.09,306.96Z" fill="#2a14a8" fill-opacity="0.6" filter="url(#bl4)"/>
</g>
<g clip-path="url(#ci_b2)">
<rect x="151.7" y="257.3" width="79.7" height="56.1" fill="#d9e4df"/>
<g fill="#e0d4da" stroke="#c89cb4" stroke-width="1.6" filter="url(#bl3)"><circle cx="209.3" cy="270.5" r="2.35"/><circle cx="200.7" cy="285.4" r="2.25"/><circle cx="178.5" cy="269.7" r="2.37"/><circle cx="167.4" cy="276.8" r="2.24"/><circle cx="191.2" cy="260.8" r="2.11"/><circle cx="213.8" cy="263.6" r="2.19"/><circle cx="158.9" cy="259.9" r="2.39"/><circle cx="186.5" cy="283.4" r="2.03"/><circle cx="163.1" cy="286.3" r="2.37"/><circle cx="228.2" cy="279.3" r="2.20"/><circle cx="168.2" cy="305.4" r="2.06"/><circle cx="222.3" cy="281.8" r="2.13"/><circle cx="226.4" cy="261.3" r="2.31"/><circle cx="176.3" cy="309.9" r="2.10"/><circle cx="222.6" cy="306.5" r="2.13"/><circle cx="166.8" cy="293.3" r="2.03"/><circle cx="198.0" cy="273.8" r="2.27"/><circle cx="158.5" cy="296.7" r="2.11"/><circle cx="197.9" cy="298.7" r="2.07"/><circle cx="177.0" cy="298.2" r="2.28"/><circle cx="178.1" cy="256.6" r="2.25"/><circle cx="185.5" cy="298.4" r="2.00"/><circle cx="214.1" cy="303.3" r="2.24"/><circle cx="212.6" cy="296.9" r="2.31"/><circle cx="206.6" cy="292.8" r="2.23"/><circle cx="221.1" cy="274.4" r="2.34"/><circle cx="230.5" cy="306.4" r="2.17"/><circle cx="170.2" cy="285.4" r="2.16"/><circle cx="205.5" cy="260.6" r="2.12"/><circle cx="215.9" cy="290.9" r="2.38"/><circle cx="191.3" cy="301.3" r="2.07"/><circle cx="232.9" cy="259.2" r="2.17"/><circle cx="216.1" cy="313.6" r="2.22"/><circle cx="187.3" cy="269.2" r="2.20"/><circle cx="150.3" cy="281.3" r="2.09"/><circle cx="179.9" cy="292.0" r="2.30"/><circle cx="204.3" cy="315.2" r="2.40"/><circle cx="173.0" cy="291.5" r="2.20"/><circle cx="223.1" cy="291.2" r="2.16"/><circle cx="158.6" cy="271.6" r="2.06"/><circle cx="199.2" cy="263.5" r="2.28"/><circle cx="215.4" cy="257.3" r="2.29"/><circle cx="189.4" cy="309.3" r="2.37"/><circle cx="167.1" cy="312.3" r="2.23"/><circle cx="155.6" cy="310.1" r="2.01"/><circle cx="176.2" cy="280.3" r="2.25"/><circle cx="230.7" cy="299.0" r="2.38"/><circle cx="233.1" cy="286.2" r="2.02"/><circle cx="209.2" cy="279.2" r="2.07"/><circle cx="152.4" cy="258.3" r="2.17"/><circle cx="195.5" cy="313.6" r="2.11"/><circle cx="198.7" cy="307.4" r="2.13"/><circle cx="152.1" cy="293.4" r="2.14"/><circle cx="208.3" cy="309.2" r="2.30"/><circle cx="167.7" cy="268.0" r="2.32"/><circle cx="219.5" cy="267.5" r="2.38"/><circle cx="185.3" cy="257.3" r="2.21"/><circle cx="170.2" cy="256.5" r="2.09"/><circle cx="188.0" cy="276.5" r="2.13"/><circle cx="183.4" cy="313.2" r="2.24"/><circle cx="207.0" cy="300.8" r="2.03"/><circle cx="231.8" cy="266.7" r="2.12"/><circle cx="213.7" cy="284.3" r="2.11"/><circle cx="192.3" cy="291.4" r="2.07"/><circle cx="164.1" cy="300.2" r="2.31"/><circle cx="151.1" cy="300.8" r="2.01"/><circle cx="154.2" cy="267.0" r="2.27"/><circle cx="233.1" cy="314.9" r="2.33"/><circle cx="226.4" cy="313.9" r="2.39"/><circle cx="202.9" cy="279.4" r="2.13"/><circle cx="172.4" cy="262.7" r="2.21"/><circle cx="157.3" cy="280.9" r="2.15"/><circle cx="150.0" cy="313.8" r="2.36"/><circle cx="181.4" cy="304.2" r="2.08"/><circle cx="233.3" cy="274.0" r="2.06"/><circle cx="219.5" cy="298.1" r="2.05"/><circle cx="152.2" cy="273.0" r="2.03"/><circle cx="166.0" cy="261.4" r="2.23"/><circle cx="194.2" cy="280.2" r="2.37"/><circle cx="161.3" cy="306.8" r="2.04"/><circle cx="215.2" cy="277.2" r="2.16"/><circle cx="198.3" cy="256.4" r="2.29"/></g>
<circle cx="163" cy="285" r="2.6" fill="#b8c0e0" stroke="#a8a8d8" stroke-width="0.8" filter="url(#bl3)"/>
<circle cx="216" cy="272" r="2.6" fill="#b8c0e0" stroke="#a8a8d8" stroke-width="0.8" filter="url(#bl3)"/>
<circle cx="200" cy="263" r="2.6" fill="#b8c0e0" stroke="#a8a8d8" stroke-width="0.8" filter="url(#bl3)"/>
<circle cx="156" cy="300" r="2.6" fill="#b8c0e0" stroke="#a8a8d8" stroke-width="0.8" filter="url(#bl3)"/>
<path d="M173.81,270.26 Q174.90,272.64 173.44,274.56 Q171.98,276.48 170.08,277.21 Q168.19,277.94 165.93,277.54 Q163.67,277.15 163.05,274.57 Q162.43,271.98 162.42,269.55 Q162.41,267.11 163.88,265.07 Q165.34,263.02 167.78,263.13 Q170.22,263.24 171.48,265.56 Q172.73,267.89 173.81,270.26Z" fill="#8c9ce8" fill-opacity="0.9" filter="url(#bl3)"/>
<path d="M169.29,275.65 Q167.29,275.22 165.60,273.70 Q163.91,272.18 163.68,269.49 Q163.45,266.79 165.27,265.33 Q167.09,263.86 169.31,263.74 Q171.53,263.62 172.53,265.92 Q173.52,268.21 173.54,270.32 Q173.57,272.43 172.43,274.26 Q171.29,276.09 169.29,275.65Z" fill="#4a34cc" fill-opacity="1.0" filter="url(#bl3)"/>
<path d="M165.52,269.16 Q165.67,267.55 166.77,266.97 Q167.88,266.39 169.32,266.29 Q170.77,266.19 171.30,267.94 Q171.83,269.69 171.05,271.03 Q170.26,272.37 168.91,272.77 Q167.56,273.16 166.46,271.96 Q165.36,270.76 165.52,269.16Z" fill="#2a14a8" fill-opacity="0.6" filter="url(#bl4)"/>
<path d="M175.84,291.08 Q177.46,289.31 179.55,288.19 Q181.64,287.08 184.24,287.80 Q186.84,288.52 187.99,290.66 Q189.14,292.80 188.74,294.78 Q188.34,296.75 187.08,298.50 Q185.82,300.24 183.34,300.07 Q180.86,299.91 178.40,298.84 Q175.94,297.78 175.08,295.32 Q174.22,292.85 175.84,291.08Z" fill="#98a4ea" fill-opacity="0.9" filter="url(#bl3)"/>
<path d="M189.32,293.61 Q189.91,295.80 187.58,296.41 Q185.26,297.03 182.79,296.98 Q180.32,296.93 179.77,294.75 Q179.22,292.58 179.02,290.62 Q178.81,288.66 180.64,287.27 Q182.46,285.87 184.51,287.22 Q186.56,288.57 187.65,290.00 Q188.74,291.42 189.32,293.61Z" fill="#5036cc" fill-opacity="1.0" filter="url(#bl3)"/>
<path d="M185.92,290.52 Q186.12,291.91 185.60,293.06 Q185.09,294.21 183.59,294.31 Q182.09,294.41 181.27,293.31 Q180.45,292.21 180.69,291.21 Q180.92,290.20 181.79,289.55 Q182.65,288.91 184.19,289.02 Q185.73,289.12 185.92,290.52Z" fill="#2a14a8" fill-opacity="0.6" filter="url(#bl4)"/>
<path d="M213.84,285.44 Q212.76,286.64 211.10,287.28 Q209.45,287.91 208.20,286.47 Q206.95,285.04 206.51,283.19 Q206.06,281.35 206.98,279.80 Q207.90,278.26 209.32,277.66 Q210.75,277.07 212.33,277.30 Q213.92,277.52 215.02,279.07 Q216.13,280.61 215.52,282.42 Q214.91,284.23 213.84,285.44Z" fill="#a0a0e8" fill-opacity="0.9" filter="url(#bl3)"/>
<path d="M207.11,281.95 Q206.98,280.11 208.12,278.69 Q209.27,277.27 210.89,277.54 Q212.51,277.82 213.92,278.88 Q215.33,279.95 214.90,281.79 Q214.47,283.63 213.68,285.39 Q212.88,287.16 211.02,287.14 Q209.15,287.12 208.20,285.45 Q207.24,283.78 207.11,281.95Z" fill="#4630c8" fill-opacity="1.0" filter="url(#bl3)"/>
<path d="M211.17,283.70 Q210.25,284.17 209.26,283.70 Q208.27,283.23 208.07,281.98 Q207.86,280.73 208.61,279.80 Q209.37,278.88 210.49,278.85 Q211.62,278.83 212.16,279.93 Q212.71,281.02 212.40,282.13 Q212.08,283.23 211.17,283.70Z" fill="#2a14a8" fill-opacity="0.6" filter="url(#bl4)"/>
<path d="M207.44,299.04 Q208.39,301.23 208.35,303.74 Q208.32,306.24 206.70,308.12 Q205.08,310.00 202.63,309.97 Q200.17,309.94 198.54,307.78 Q196.92,305.62 196.50,303.01 Q196.08,300.40 197.35,298.41 Q198.62,296.41 200.58,295.13 Q202.54,293.84 204.51,295.35 Q206.49,296.86 207.44,299.04Z" fill="#8c9ce8" fill-opacity="0.9" filter="url(#bl3)"/>
<path d="M199.70,297.57 Q201.00,295.82 202.96,296.12 Q204.92,296.42 206.70,297.70 Q208.48,298.99 208.32,301.38 Q208.15,303.77 206.78,305.10 Q205.41,306.44 203.48,307.18 Q201.55,307.92 199.88,306.10 Q198.21,304.27 198.31,301.80 Q198.41,299.33 199.70,297.57Z" fill="#3c2ac8" fill-opacity="1.0" filter="url(#bl3)"/>
<path d="M203.97,298.12 Q205.39,298.47 205.82,300.31 Q206.25,302.14 205.01,303.04 Q203.78,303.94 202.38,304.33 Q200.97,304.73 200.34,303.13 Q199.70,301.53 200.02,300.14 Q200.33,298.75 201.44,298.26 Q202.55,297.77 203.97,298.12Z" fill="#2a14a8" fill-opacity="0.6" filter="url(#bl4)"/>
</g>
<g clip-path="url(#ci_m1)">
<rect x="73.2" y="316.6" width="75.1" height="56.1" fill="#eef0f4"/>
<ellipse cx="76" cy="352" rx="7" ry="24" fill="#d0a8e4" filter="url(#bl5)"/>
<defs><radialGradient id="gsm1" cx="0.2" cy="0.15" r="0.85"><stop offset="0" stop-color="#7c44c8"/><stop offset="0.55" stop-color="#8a54cc"/><stop offset="0.8" stop-color="#b890dc" stop-opacity="0.7"/><stop offset="1" stop-color="#e0d0ec" stop-opacity="0"/></radialGradient></defs>
<ellipse cx="80" cy="322" rx="26" ry="28" fill="url(#gsm1)"/>
<ellipse cx="141" cy="364" rx="9" ry="9" fill="#e4c4e8" filter="url(#bl5)"/>
<circle cx="138.7" cy="362" r="0.9" fill="#402080"/>
<g fill="#a8a8e4" filter="url(#bl3)"><circle cx="95.7" cy="330.2" r="6.40"/><circle cx="104.7" cy="334.1" r="4.83"/><circle cx="99.6" cy="338.0" r="4.83"/><circle cx="78.8" cy="339.3" r="6.40"/><circle cx="88.5" cy="338.7" r="5.95"/><circle cx="84.0" cy="348.4" r="6.40"/><circle cx="92.4" cy="349.7" r="5.95"/><circle cx="98.9" cy="345.1" r="5.73"/><circle cx="106.0" cy="343.2" r="5.28"/><circle cx="102.8" cy="354.9" r="5.95"/><circle cx="94.4" cy="357.5" r="5.50"/><circle cx="84.7" cy="359.4" r="5.95"/><circle cx="94.4" cy="365.2" r="5.95"/><circle cx="104.1" cy="363.3" r="5.95"/><circle cx="127.4" cy="322.5" r="5.50"/><circle cx="124.2" cy="327.7" r="5.28"/><circle cx="116.4" cy="332.2" r="6.85"/><circle cx="133.9" cy="332.8" r="6.85"/><circle cx="110.0" cy="337.4" r="5.50"/><circle cx="126.8" cy="339.3" r="6.85"/><circle cx="115.1" cy="341.3" r="5.95"/><circle cx="143.0" cy="341.9" r="5.95"/><circle cx="133.9" cy="346.4" r="5.95"/><circle cx="122.2" cy="349.7" r="6.85"/><circle cx="111.9" cy="351.0" r="5.95"/><circle cx="142.3" cy="350.3" r="5.50"/><circle cx="115.8" cy="360.0" r="5.95"/><circle cx="124.2" cy="359.4" r="5.95"/><circle cx="111.0" cy="368.0" r="4.83"/></g>
<g filter="url(#bl3)"><path d="M101.19,329.11 L101.11,328.75 L101.00,328.40 L100.87,328.06 L100.72,327.72 L100.55,327.40 L100.36,327.09 L100.14,326.79 L99.91,326.51 L99.66,326.24 L99.39,325.99 L99.11,325.76 L98.81,325.54 L98.50,325.35 L98.18,325.18 L97.84,325.03 L97.50,324.90 L97.15,324.79 L96.79,324.71 L96.43,324.65 L96.07,324.61 L95.70,324.60 L95.33,324.61 L94.97,324.65 L94.61,324.71 L94.25,324.79 L93.90,324.90 L93.56,325.03 L93.22,325.18 L92.90,325.35 L92.59,325.54 L92.29,325.76 L92.01,325.99 L91.74,326.24 L91.49,326.51 L91.26,326.79 L91.04,327.09 L90.85,327.40 L90.68,327.72 L90.53,328.06 L90.40,328.40 L90.29,328.75 L90.21,329.11 L90.15,329.47 L90.11,329.83 L90.10,330.20 L90.11,330.57 L90.15,330.93 L90.21,331.29 L90.29,331.65 L90.40,332.00 L90.53,332.34 L90.68,332.68 L90.85,333.00 L91.04,333.31 L91.26,333.61 L91.49,333.89 L91.74,334.16 L92.01,334.41 L92.29,334.64 L92.59,334.86 L92.90,335.05 L93.22,335.22 L93.56,335.37 L93.90,335.50 L94.25,335.61 L94.61,335.69 L94.97,335.75 L95.33,335.79 L95.70,335.80 L95.80,335.80 L100.12,333.64 L100.14,333.61 L100.36,333.31 L100.39,333.26 L101.14,331.53 L101.19,331.29 L101.25,330.93 L101.29,330.57 L101.30,330.20 L101.29,329.83 L101.25,329.47 L101.19,329.11Z" fill="url(#gcell3)" stroke="#f4f8fc" stroke-width="1.0" stroke-linejoin="round"/><path d="M108.52,332.80 L108.43,332.56 L108.32,332.32 L108.19,332.08 L108.05,331.86 L107.90,331.65 L107.73,331.44 L107.55,331.25 L107.36,331.07 L107.15,330.90 L106.94,330.75 L106.72,330.61 L106.48,330.48 L106.24,330.37 L106.00,330.28 L105.74,330.21 L105.49,330.15 L105.23,330.10 L104.96,330.08 L104.70,330.07 L104.44,330.08 L104.17,330.10 L103.91,330.15 L103.66,330.21 L103.40,330.28 L103.16,330.37 L102.92,330.48 L102.68,330.61 L102.46,330.75 L102.25,330.90 L102.04,331.07 L101.85,331.25 L101.67,331.44 L101.50,331.65 L101.35,331.86 L101.21,332.08 L101.08,332.32 L100.97,332.56 L100.88,332.80 L100.81,333.06 L100.75,333.31 L100.70,333.57 L100.68,333.84 L100.67,334.10 L100.67,334.11 L103.63,337.99 L103.66,337.99 L103.91,338.05 L104.17,338.10 L104.44,338.12 L104.70,338.13 L104.96,338.12 L105.23,338.10 L105.47,338.06 L108.59,333.05 L108.52,332.80Z" fill="url(#gcell3)" stroke="#f4f8fc" stroke-width="1.0" stroke-linejoin="round"/><path d="M100.13,334.00 L99.86,333.98 L99.60,333.97 L99.45,333.97 L96.47,335.46 L96.40,335.55 L96.25,335.76 L96.11,335.98 L95.98,336.22 L95.87,336.46 L95.78,336.70 L95.71,336.96 L95.65,337.21 L95.60,337.47 L95.58,337.74 L95.57,338.00 L95.58,338.26 L95.60,338.53 L95.65,338.79 L95.71,339.04 L95.78,339.30 L95.87,339.54 L95.98,339.78 L96.11,340.02 L96.25,340.24 L96.40,340.45 L96.57,340.66 L96.75,340.85 L96.75,340.85 L101.84,341.35 L101.84,341.35 L102.05,341.20 L102.12,341.15 L103.20,339.82 L103.22,339.78 L103.33,339.54 L103.42,339.30 L103.49,339.04 L103.55,338.79 L103.60,338.53 L103.62,338.26 L103.63,338.00 L103.63,337.99 L100.67,334.11 L100.64,334.11 L100.39,334.05 L100.13,334.00Z" fill="url(#gcell3)" stroke="#f4f8fc" stroke-width="1.0" stroke-linejoin="round"/><path d="M83.46,336.19 L83.24,335.89 L83.01,335.61 L82.76,335.34 L82.49,335.09 L82.21,334.86 L81.91,334.64 L81.60,334.45 L81.28,334.28 L80.94,334.13 L80.60,334.00 L80.25,333.89 L79.89,333.81 L79.53,333.75 L79.17,333.71 L78.80,333.70 L78.43,333.71 L78.07,333.75 L77.71,333.81 L77.35,333.89 L77.00,334.00 L76.66,334.13 L76.32,334.28 L76.00,334.45 L75.69,334.64 L75.39,334.86 L75.11,335.09 L74.84,335.34 L74.59,335.61 L74.36,335.89 L74.14,336.19 L73.95,336.50 L73.78,336.82 L73.63,337.16 L73.50,337.50 L73.39,337.85 L73.31,338.21 L73.25,338.57 L73.21,338.93 L73.20,339.30 L73.21,339.67 L73.25,340.03 L73.31,340.39 L73.39,340.75 L73.50,341.10 L73.63,341.44 L73.78,341.78 L73.95,342.10 L74.14,342.41 L74.36,342.71 L74.59,342.99 L74.84,343.26 L75.11,343.51 L75.39,343.74 L75.69,343.96 L76.00,344.15 L76.32,344.32 L76.66,344.47 L77.00,344.60 L77.35,344.71 L77.71,344.79 L78.07,344.85 L78.43,344.89 L78.80,344.90 L79.17,344.89 L79.53,344.85 L79.69,344.83 L83.11,342.87 L83.24,342.71 L83.46,342.41 L83.65,342.10 L83.82,341.78 L83.97,341.44 L84.00,341.39 L83.70,336.59 L83.65,336.50 L83.46,336.19Z" fill="url(#gcell3)" stroke="#f4f8fc" stroke-width="1.0" stroke-linejoin="round"/><path d="M93.55,337.69 L93.48,337.37 L93.38,337.04 L93.26,336.73 L93.12,336.42 L92.96,336.12 L92.78,335.84 L92.59,335.56 L92.37,335.30 L92.14,335.06 L91.90,334.83 L91.64,334.61 L91.36,334.42 L91.08,334.24 L90.78,334.08 L90.47,333.94 L90.16,333.82 L89.83,333.72 L89.51,333.65 L89.17,333.59 L88.84,333.56 L88.50,333.55 L88.16,333.56 L87.83,333.59 L87.49,333.65 L87.17,333.72 L86.84,333.82 L86.53,333.94 L86.22,334.08 L85.92,334.24 L85.64,334.42 L85.36,334.61 L85.10,334.83 L84.86,335.06 L84.63,335.30 L84.41,335.56 L84.22,335.84 L84.04,336.12 L83.88,336.42 L83.74,336.73 L83.71,336.80 L83.98,341.17 L84.04,341.28 L84.22,341.56 L84.41,341.84 L84.63,342.10 L84.86,342.34 L85.10,342.57 L85.36,342.79 L85.64,342.98 L85.92,343.16 L86.22,343.32 L86.53,343.46 L86.84,343.58 L87.17,343.68 L87.49,343.75 L87.83,343.81 L88.16,343.84 L88.50,343.85 L88.84,343.84 L89.17,343.81 L89.51,343.75 L89.83,343.68 L90.16,343.58 L90.47,343.46 L90.78,343.32 L91.08,343.16 L91.36,342.98 L91.64,342.79 L91.90,342.57 L92.14,342.34 L92.37,342.10 L92.59,341.84 L92.78,341.56 L92.96,341.28 L93.12,340.98 L93.26,340.67 L93.38,340.36 L93.48,340.03 L93.55,339.71 L93.61,339.37 L93.64,339.04 L93.65,338.70 L93.64,338.36 L93.61,338.03 L93.55,337.69Z" fill="url(#gcell3)" stroke="#f4f8fc" stroke-width="1.0" stroke-linejoin="round"/><path d="M88.66,345.29 L88.44,344.99 L88.21,344.71 L87.96,344.44 L87.69,344.19 L87.41,343.96 L87.14,343.77 L85.51,343.01 L85.45,342.99 L85.09,342.91 L84.73,342.85 L84.37,342.81 L84.00,342.80 L83.63,342.81 L83.27,342.85 L83.11,342.87 L79.69,344.83 L79.56,344.99 L79.34,345.29 L79.15,345.60 L78.98,345.92 L78.83,346.26 L78.70,346.60 L78.59,346.95 L78.51,347.31 L78.45,347.67 L78.41,348.03 L78.40,348.40 L78.41,348.77 L78.45,349.13 L78.51,349.49 L78.59,349.85 L78.70,350.20 L78.83,350.54 L78.98,350.88 L79.15,351.20 L79.34,351.51 L79.56,351.81 L79.79,352.09 L80.04,352.36 L80.31,352.61 L80.59,352.84 L80.89,353.06 L81.20,353.25 L81.52,353.42 L81.86,353.57 L82.20,353.70 L82.55,353.81 L82.91,353.89 L83.27,353.95 L83.63,353.99 L84.00,354.00 L84.37,353.99 L84.73,353.95 L85.09,353.89 L85.45,353.81 L85.80,353.70 L86.14,353.57 L86.48,353.42 L86.80,353.25 L87.11,353.06 L87.41,352.84 L87.69,352.61 L87.91,352.41 L88.94,345.76 L88.85,345.60 L88.66,345.29Z" fill="url(#gcell3)" stroke="#f4f8fc" stroke-width="1.0" stroke-linejoin="round"/><path d="M93.41,344.65 L93.07,344.59 L92.74,344.56 L92.40,344.55 L92.06,344.56 L91.73,344.59 L91.39,344.65 L91.07,344.72 L90.74,344.82 L90.43,344.94 L90.12,345.08 L89.82,345.24 L89.54,345.42 L89.26,345.61 L89.00,345.83 L88.91,345.91 L87.93,352.26 L87.94,352.28 L88.12,352.56 L88.31,352.84 L88.53,353.10 L88.76,353.34 L89.00,353.57 L89.26,353.79 L89.54,353.98 L89.82,354.16 L90.12,354.32 L90.43,354.46 L90.63,354.54 L96.28,353.09 L96.49,352.84 L96.68,352.56 L96.86,352.28 L97.02,351.98 L97.16,351.67 L97.28,351.36 L97.38,351.03 L97.45,350.71 L97.51,350.37 L97.54,350.04 L97.55,349.88 L93.94,344.79 L93.73,344.72 L93.41,344.65Z" fill="url(#gcell3)" stroke="#f4f8fc" stroke-width="1.0" stroke-linejoin="round"/><path d="M96.44,340.83 L96.16,341.00 L95.90,341.19 L95.65,341.39 L95.42,341.62 L95.19,341.85 L94.99,342.10 L94.80,342.36 L94.63,342.64 L94.48,342.92 L94.35,343.21 L94.23,343.52 L94.14,343.82 L94.07,344.14 L94.01,344.46 L93.98,344.78 L93.98,344.85 L97.50,349.82 L97.62,349.86 L97.94,349.93 L98.26,349.99 L98.58,350.02 L98.90,350.03 L99.22,350.02 L99.54,349.99 L99.86,349.93 L100.18,349.86 L100.48,349.77 L100.79,349.65 L101.08,349.52 L101.36,349.37 L101.64,349.20 L101.90,349.01 L102.15,348.81 L102.38,348.58 L102.61,348.35 L102.81,348.10 L103.00,347.84 L103.17,347.56 L103.32,347.28 L103.45,347.00 L101.94,341.36 L96.45,340.82 L96.44,340.83Z" fill="url(#gcell3)" stroke="#f4f8fc" stroke-width="1.0" stroke-linejoin="round"/><path d="M105.42,338.76 L105.13,338.81 L104.84,338.87 L104.56,338.96 L104.29,339.06 L104.02,339.18 L103.76,339.32 L103.51,339.48 L103.43,339.53 L101.94,341.36 L103.41,346.85 L103.51,346.92 L103.76,347.08 L104.02,347.22 L104.29,347.34 L104.56,347.44 L104.84,347.53 L105.13,347.59 L105.42,347.64 L105.71,347.67 L106.00,347.68 L106.29,347.67 L106.58,347.64 L106.87,347.59 L107.16,347.53 L107.44,347.44 L107.71,347.34 L107.98,347.22 L108.24,347.08 L108.49,346.92 L108.73,346.75 L108.95,346.57 L109.17,346.37 L109.37,346.15 L109.55,345.93 L109.72,345.69 L109.88,345.44 L110.02,345.18 L110.14,344.91 L110.24,344.64 L110.33,344.36 L110.39,344.07 L110.44,343.78 L110.47,343.49 L110.48,343.26 L110.21,341.96 L105.54,338.75 L105.42,338.76Z" fill="url(#gcell3)" stroke="#f4f8fc" stroke-width="1.0" stroke-linejoin="round"/><path d="M106.67,351.50 L106.44,351.26 L106.20,351.03 L105.94,350.81 L105.66,350.62 L105.38,350.44 L105.08,350.28 L104.77,350.14 L104.46,350.02 L104.13,349.92 L103.81,349.85 L103.47,349.79 L103.14,349.76 L102.80,349.75 L102.46,349.76 L102.13,349.79 L101.79,349.85 L101.47,349.92 L101.14,350.02 L100.83,350.14 L100.52,350.28 L100.22,350.44 L99.94,350.62 L99.66,350.81 L99.40,351.03 L99.16,351.26 L98.93,351.50 L98.71,351.76 L98.52,352.04 L98.34,352.32 L98.18,352.62 L98.04,352.93 L97.92,353.24 L97.82,353.57 L97.75,353.89 L97.72,354.04 L99.10,358.48 L99.16,358.54 L99.40,358.77 L99.66,358.99 L99.94,359.18 L100.22,359.36 L100.52,359.52 L100.57,359.54 L106.32,358.66 L106.44,358.54 L106.67,358.30 L106.89,358.04 L107.08,357.76 L107.26,357.48 L107.42,357.18 L107.56,356.87 L107.68,356.56 L107.78,356.23 L107.85,355.91 L107.91,355.57 L107.94,355.24 L107.95,354.90 L107.94,354.56 L107.91,354.26 L106.79,351.65 L106.67,351.50Z" fill="url(#gcell3)" stroke="#f4f8fc" stroke-width="1.0" stroke-linejoin="round"/><path d="M97.26,353.77 L97.01,353.59 L96.75,353.43 L96.48,353.28 L96.20,353.15 L96.13,353.13 L90.78,354.50 L90.67,354.64 L90.49,354.89 L90.33,355.15 L90.18,355.42 L90.05,355.70 L89.95,355.99 L89.86,356.28 L89.79,356.58 L89.74,356.89 L89.71,357.19 L89.70,357.50 L89.71,357.81 L89.74,358.11 L89.79,358.42 L89.86,358.72 L89.95,359.01 L90.05,359.30 L90.18,359.58 L90.33,359.85 L90.49,360.11 L90.67,360.36 L90.86,360.60 L91.07,360.83 L91.30,361.04 L91.40,361.12 L97.40,361.12 L97.50,361.04 L97.73,360.83 L97.94,360.60 L98.13,360.36 L98.31,360.11 L98.47,359.85 L98.62,359.58 L98.75,359.30 L98.85,359.01 L98.94,358.72 L99.01,358.42 L99.04,358.28 L97.78,354.23 L97.73,354.17 L97.50,353.96 L97.26,353.77Z" fill="url(#gcell3)" stroke="#f4f8fc" stroke-width="1.0" stroke-linejoin="round"/><path d="M89.62,357.88 L89.58,357.74 L89.46,357.43 L89.32,357.12 L89.16,356.82 L88.98,356.54 L88.79,356.26 L88.57,356.00 L88.34,355.76 L88.10,355.53 L87.84,355.31 L87.56,355.12 L87.28,354.94 L86.98,354.78 L86.67,354.64 L86.36,354.52 L86.03,354.42 L85.71,354.35 L85.37,354.29 L85.04,354.26 L84.70,354.25 L84.36,354.26 L84.03,354.29 L83.69,354.35 L83.37,354.42 L83.04,354.52 L82.73,354.64 L82.42,354.78 L82.12,354.94 L81.84,355.12 L81.56,355.31 L81.30,355.53 L81.06,355.76 L80.83,356.00 L80.61,356.26 L80.42,356.54 L80.24,356.82 L80.08,357.12 L79.94,357.43 L79.82,357.74 L79.72,358.07 L79.65,358.39 L79.59,358.73 L79.56,359.06 L79.55,359.40 L79.56,359.74 L79.59,360.07 L79.65,360.41 L79.72,360.73 L79.82,361.06 L79.94,361.37 L80.08,361.68 L80.24,361.98 L80.42,362.26 L80.61,362.54 L80.83,362.80 L81.06,363.04 L81.30,363.27 L81.56,363.49 L81.84,363.68 L82.12,363.86 L82.42,364.02 L82.73,364.16 L83.04,364.28 L83.37,364.38 L83.69,364.45 L84.03,364.51 L84.36,364.54 L84.70,364.55 L85.04,364.54 L85.37,364.51 L85.71,364.45 L86.03,364.38 L86.36,364.28 L86.67,364.16 L86.98,364.02 L87.28,363.86 L87.56,363.68 L87.84,363.49 L88.10,363.27 L88.34,363.04 L88.57,362.80 L88.79,362.54 L88.98,362.26 L89.16,361.98 L89.32,361.68 L89.46,361.37 L89.58,361.06 L89.68,360.73 L89.75,360.41 L89.81,360.07 L89.84,359.74 L89.85,359.40 L89.84,359.06 L89.83,358.95 L89.62,357.88Z" fill="url(#gcell3)" stroke="#f4f8fc" stroke-width="1.0" stroke-linejoin="round"/><path d="M98.86,362.62 L98.68,362.34 L98.49,362.06 L98.27,361.80 L98.04,361.56 L97.80,361.33 L97.55,361.12 L91.25,361.12 L91.00,361.33 L90.76,361.56 L90.53,361.80 L90.31,362.06 L90.12,362.34 L89.94,362.62 L89.78,362.92 L89.64,363.23 L89.52,363.54 L89.42,363.87 L89.35,364.19 L89.29,364.53 L89.26,364.86 L89.25,365.20 L89.26,365.54 L89.29,365.87 L89.35,366.21 L89.42,366.53 L89.52,366.86 L89.64,367.17 L89.78,367.48 L89.94,367.78 L90.12,368.06 L90.31,368.34 L90.53,368.60 L90.76,368.84 L91.00,369.07 L91.26,369.29 L91.54,369.48 L91.82,369.66 L92.12,369.82 L92.43,369.96 L92.74,370.08 L93.07,370.18 L93.39,370.25 L93.73,370.31 L94.06,370.34 L94.40,370.35 L94.74,370.34 L95.07,370.31 L95.41,370.25 L95.73,370.18 L96.06,370.08 L96.37,369.96 L96.68,369.82 L96.98,369.66 L97.26,369.48 L97.54,369.29 L97.80,369.07 L98.04,368.84 L98.27,368.60 L98.49,368.34 L98.68,368.06 L98.86,367.78 L99.02,367.48 L99.16,367.17 L99.28,366.86 L99.38,366.53 L99.45,366.21 L99.51,365.87 L99.53,365.67 L98.97,362.83 L98.86,362.62Z" fill="url(#gcell3)" stroke="#f4f8fc" stroke-width="1.0" stroke-linejoin="round"/><path d="M109.15,362.29 L109.08,361.97 L108.98,361.64 L108.86,361.33 L108.72,361.02 L108.56,360.72 L108.38,360.44 L108.19,360.16 L107.97,359.90 L107.74,359.66 L107.50,359.43 L107.24,359.21 L106.96,359.02 L106.68,358.84 L106.38,358.68 L106.33,358.66 L100.58,359.54 L100.46,359.66 L100.23,359.90 L100.01,360.16 L99.82,360.44 L99.64,360.72 L99.48,361.02 L99.34,361.33 L99.22,361.64 L99.12,361.97 L99.05,362.29 L98.99,362.63 L98.97,362.83 L99.53,365.67 L99.64,365.88 L99.82,366.16 L100.01,366.44 L100.23,366.70 L100.46,366.94 L100.70,367.17 L100.96,367.39 L101.24,367.58 L101.52,367.76 L101.82,367.92 L102.13,368.06 L102.44,368.18 L102.77,368.28 L103.09,368.35 L103.43,368.41 L103.76,368.44 L104.10,368.45 L104.44,368.44 L104.77,368.41 L105.11,368.35 L105.43,368.28 L105.76,368.18 L106.07,368.06 L106.38,367.92 L106.68,367.76 L106.73,367.73 L109.18,364.13 L109.21,363.97 L109.24,363.64 L109.25,363.30 L109.24,362.96 L109.21,362.63 L109.15,362.29Z" fill="url(#gcell3)" stroke="#f4f8fc" stroke-width="1.0" stroke-linejoin="round"/><path d="M132.09,322.19 L132.06,321.89 L132.01,321.58 L131.94,321.28 L131.85,320.99 L131.75,320.70 L131.62,320.42 L131.47,320.15 L131.31,319.89 L131.13,319.64 L130.94,319.40 L130.73,319.17 L130.50,318.96 L130.26,318.77 L130.01,318.59 L129.75,318.43 L129.48,318.28 L129.20,318.15 L128.91,318.05 L128.62,317.96 L128.32,317.89 L128.01,317.84 L127.71,317.81 L127.40,317.80 L127.09,317.81 L126.79,317.84 L126.48,317.89 L126.18,317.96 L125.89,318.05 L125.60,318.15 L125.32,318.28 L125.05,318.43 L124.79,318.59 L124.54,318.77 L124.30,318.96 L124.07,319.17 L123.86,319.40 L123.67,319.64 L123.49,319.89 L123.33,320.15 L123.18,320.42 L123.05,320.70 L122.95,320.99 L122.86,321.28 L122.79,321.58 L122.74,321.89 L122.71,322.19 L122.70,322.50 L122.71,322.81 L122.74,323.11 L122.78,323.40 L128.67,327.03 L128.91,326.95 L129.20,326.85 L129.48,326.72 L129.75,326.57 L130.01,326.41 L130.26,326.23 L130.50,326.04 L130.73,325.83 L130.94,325.60 L131.13,325.36 L131.31,325.11 L131.47,324.85 L131.62,324.58 L131.75,324.30 L131.85,324.01 L131.94,323.72 L132.01,323.42 L132.06,323.11 L132.09,322.81 L132.10,322.50 L132.09,322.19Z" fill="url(#gcell3)" stroke="#f4f8fc" stroke-width="1.0" stroke-linejoin="round"/><path d="M128.62,326.99 L122.84,323.43 L122.76,323.46 L122.49,323.56 L122.22,323.68 L121.96,323.82 L121.71,323.98 L121.47,324.15 L121.25,324.33 L121.03,324.53 L120.83,324.75 L120.65,324.97 L120.48,325.21 L120.32,325.46 L120.18,325.72 L120.06,325.99 L119.96,326.26 L119.87,326.54 L119.81,326.83 L119.76,327.12 L119.73,327.41 L119.73,327.49 L122.14,331.68 L122.22,331.72 L122.49,331.84 L122.76,331.94 L123.04,332.03 L123.33,332.09 L123.62,332.14 L123.91,332.17 L124.20,332.18 L124.49,332.17 L124.78,332.14 L125.07,332.09 L125.36,332.03 L125.64,331.94 L125.91,331.84 L126.18,331.72 L126.44,331.58 L126.69,331.42 L126.93,331.25 L127.15,331.07 L127.37,330.87 L127.57,330.65 L127.75,330.43 L127.92,330.19 L128.08,329.94 L128.22,329.68 L128.34,329.41 L128.44,329.14 L128.53,328.86 L128.59,328.57 L128.64,328.28 L128.67,327.99 L128.68,327.70 L128.67,327.41 L128.64,327.12 L128.62,326.99Z" fill="url(#gcell3)" stroke="#f4f8fc" stroke-width="1.0" stroke-linejoin="round"/><path d="M117.97,326.36 L117.58,326.27 L117.19,326.20 L116.80,326.16 L116.40,326.15 L116.00,326.16 L115.61,326.20 L115.22,326.27 L114.83,326.36 L114.46,326.47 L114.09,326.61 L113.73,326.78 L113.38,326.96 L113.04,327.17 L112.72,327.40 L112.41,327.65 L112.12,327.92 L111.85,328.21 L111.60,328.52 L111.37,328.84 L111.16,329.18 L110.98,329.53 L110.81,329.89 L110.67,330.26 L110.56,330.63 L110.47,331.02 L110.40,331.41 L110.36,331.80 L110.35,332.20 L110.36,332.41 L114.04,336.95 L119.01,337.65 L119.07,337.62 L119.42,337.44 L119.76,337.23 L120.08,337.00 L120.39,336.75 L120.68,336.48 L120.95,336.19 L121.20,335.88 L121.43,335.56 L121.64,335.22 L121.82,334.87 L121.99,334.51 L122.13,334.14 L122.24,333.77 L122.33,333.38 L122.40,332.99 L122.44,332.60 L122.45,332.21 L119.42,326.96 L119.07,326.78 L118.71,326.61 L118.34,326.47 L117.97,326.36Z" fill="url(#gcell3)" stroke="#f4f8fc" stroke-width="1.0" stroke-linejoin="round"/><path d="M139.90,332.01 L139.83,331.62 L139.74,331.23 L139.63,330.86 L139.49,330.49 L139.32,330.13 L139.14,329.78 L138.93,329.44 L138.70,329.12 L138.45,328.81 L138.18,328.52 L137.89,328.25 L137.58,328.00 L137.26,327.77 L136.92,327.56 L136.57,327.38 L136.21,327.21 L135.84,327.07 L135.47,326.96 L135.08,326.87 L134.69,326.80 L134.30,326.76 L133.90,326.75 L133.50,326.76 L133.11,326.80 L132.72,326.87 L132.33,326.96 L131.96,327.07 L131.59,327.21 L131.23,327.38 L130.88,327.56 L130.54,327.77 L130.22,328.00 L129.91,328.25 L129.62,328.52 L129.35,328.81 L129.10,329.12 L128.87,329.44 L128.66,329.78 L128.48,330.13 L128.31,330.49 L128.17,330.86 L128.06,331.23 L127.97,331.62 L127.90,332.01 L127.86,332.40 L127.85,332.80 L127.86,333.20 L127.88,333.35 L132.82,338.75 L133.11,338.80 L133.50,338.84 L133.90,338.85 L134.30,338.84 L134.69,338.80 L135.08,338.73 L135.47,338.64 L135.84,338.53 L136.21,338.39 L136.57,338.22 L136.92,338.04 L137.26,337.83 L137.58,337.60 L137.89,337.35 L138.18,337.08 L138.45,336.79 L138.70,336.48 L138.93,336.16 L139.14,335.82 L139.32,335.47 L139.49,335.11 L139.63,334.74 L139.74,334.37 L139.83,333.98 L139.90,333.59 L139.94,333.20 L139.95,332.80 L139.94,332.40 L139.90,332.01Z" fill="url(#gcell3)" stroke="#f4f8fc" stroke-width="1.0" stroke-linejoin="round"/><path d="M110.31,332.71 L110.00,332.70 L109.69,332.71 L109.39,332.74 L109.08,332.79 L108.78,332.86 L108.69,332.88 L105.37,338.22 L105.39,338.32 L105.46,338.62 L105.48,338.71 L110.21,341.96 L114.04,336.95 L110.62,332.74 L110.61,332.74 L110.31,332.71Z" fill="url(#gcell3)" stroke="#f4f8fc" stroke-width="1.0" stroke-linejoin="round"/><path d="M127.20,333.26 L126.80,333.25 L126.40,333.26 L126.01,333.30 L125.62,333.37 L125.23,333.46 L124.86,333.57 L124.49,333.71 L124.13,333.88 L123.78,334.06 L123.44,334.27 L123.12,334.50 L122.81,334.75 L122.52,335.02 L122.25,335.31 L122.00,335.62 L121.77,335.94 L121.56,336.28 L121.38,336.63 L121.21,336.99 L121.07,337.36 L120.96,337.73 L120.87,338.12 L120.80,338.51 L120.76,338.90 L120.75,339.30 L120.76,339.70 L120.80,340.09 L120.87,340.48 L120.96,340.87 L121.07,341.24 L121.21,341.61 L121.38,341.97 L121.56,342.32 L121.77,342.66 L122.00,342.98 L122.25,343.29 L122.52,343.58 L122.62,343.67 L126.38,345.33 L126.40,345.34 L126.80,345.35 L127.20,345.34 L127.59,345.30 L127.98,345.23 L128.37,345.14 L128.73,345.03 L132.53,341.23 L132.64,340.87 L132.73,340.48 L132.80,340.09 L132.84,339.70 L132.85,339.30 L132.84,338.90 L132.82,338.75 L127.88,333.35 L127.59,333.30 L127.20,333.26Z" fill="url(#gcell3)" stroke="#f4f8fc" stroke-width="1.0" stroke-linejoin="round"/><path d="M119.86,339.33 L119.72,339.02 L119.56,338.72 L119.38,338.44 L119.19,338.16 L118.97,337.90 L118.74,337.66 L118.69,337.61 L114.04,336.95 L110.21,341.96 L110.59,343.78 L110.64,343.88 L110.82,344.16 L111.01,344.44 L111.23,344.70 L111.46,344.94 L111.70,345.17 L111.96,345.39 L112.24,345.58 L112.52,345.76 L112.82,345.92 L112.87,345.94 L114.14,346.36 L114.43,346.41 L114.76,346.44 L115.10,346.45 L115.44,346.44 L115.77,346.41 L116.11,346.35 L116.43,346.28 L116.76,346.18 L117.07,346.06 L117.38,345.92 L117.68,345.76 L117.96,345.58 L118.13,345.46 L118.72,344.97 L118.74,344.94 L118.97,344.70 L119.19,344.44 L119.38,344.16 L119.56,343.88 L119.72,343.58 L119.86,343.27 L119.98,342.96 L120.08,342.63 L120.15,342.31 L120.21,341.97 L120.24,341.64 L120.25,341.30 L120.24,340.96 L120.21,340.63 L120.15,340.29 L120.08,339.97 L119.98,339.64 L119.86,339.33Z" fill="url(#gcell3)" stroke="#f4f8fc" stroke-width="1.0" stroke-linejoin="round"/><path d="M148.11,341.23 L148.05,340.89 L147.98,340.57 L147.88,340.24 L147.76,339.93 L147.62,339.62 L147.46,339.32 L147.28,339.04 L147.09,338.76 L146.87,338.50 L146.64,338.26 L146.40,338.03 L146.14,337.81 L145.86,337.62 L145.58,337.44 L145.28,337.28 L144.97,337.14 L144.66,337.02 L144.33,336.92 L144.01,336.85 L143.67,336.79 L143.34,336.76 L143.00,336.75 L142.66,336.76 L142.33,336.79 L141.99,336.85 L141.67,336.92 L141.34,337.02 L141.03,337.14 L140.72,337.28 L140.42,337.44 L140.14,337.62 L139.86,337.81 L139.60,338.03 L139.36,338.26 L139.13,338.50 L138.91,338.76 L138.72,339.04 L138.54,339.32 L138.38,339.62 L138.24,339.93 L138.12,340.24 L138.02,340.57 L137.95,340.89 L137.89,341.23 L137.86,341.56 L137.85,341.90 L137.86,342.24 L137.89,342.57 L137.95,342.91 L138.02,343.23 L138.07,343.37 L138.83,344.93 L138.91,345.04 L139.13,345.30 L139.36,345.54 L139.60,345.77 L139.86,345.99 L140.01,346.09 L145.26,346.53 L145.28,346.52 L145.58,346.36 L145.86,346.18 L146.14,345.99 L146.40,345.77 L146.64,345.54 L146.87,345.30 L147.09,345.04 L147.28,344.76 L147.46,344.48 L147.62,344.18 L147.76,343.87 L147.88,343.56 L147.98,343.23 L148.05,342.91 L148.11,342.57 L148.14,342.24 L148.15,341.90 L148.14,341.56 L148.11,341.23Z" fill="url(#gcell3)" stroke="#f4f8fc" stroke-width="1.0" stroke-linejoin="round"/><path d="M138.88,345.07 L138.83,344.93 L138.07,343.37 L137.99,343.26 L137.77,343.00 L137.54,342.76 L137.30,342.53 L137.04,342.31 L136.76,342.12 L136.48,341.94 L136.18,341.78 L135.87,341.64 L135.56,341.52 L135.23,341.42 L134.91,341.35 L134.57,341.29 L134.24,341.26 L133.90,341.25 L133.56,341.26 L133.23,341.29 L132.89,341.35 L132.57,341.42 L132.24,341.52 L132.24,341.52 L129.02,344.74 L129.02,344.74 L128.92,345.07 L128.85,345.39 L128.79,345.73 L128.76,346.06 L128.75,346.40 L128.76,346.74 L128.79,347.07 L128.85,347.41 L128.92,347.73 L129.02,348.06 L129.14,348.37 L129.28,348.68 L129.44,348.98 L129.62,349.26 L129.81,349.54 L130.03,349.80 L130.26,350.04 L130.50,350.27 L130.76,350.49 L131.04,350.68 L131.32,350.86 L131.62,351.02 L131.93,351.16 L132.24,351.28 L132.57,351.38 L132.89,351.45 L133.23,351.51 L133.56,351.54 L133.90,351.55 L134.24,351.54 L134.57,351.51 L134.91,351.45 L135.23,351.38 L135.56,351.28 L135.87,351.16 L136.18,351.02 L136.48,350.86 L136.76,350.68 L137.04,350.49 L137.30,350.27 L137.51,350.08 L139.04,346.78 L139.04,346.74 L139.05,346.40 L139.04,346.06 L139.01,345.73 L138.95,345.39 L138.88,345.07Z" fill="url(#gcell3)" stroke="#f4f8fc" stroke-width="1.0" stroke-linejoin="round"/><path d="M127.79,347.39 L127.62,347.03 L127.44,346.68 L127.23,346.34 L127.00,346.02 L126.75,345.71 L126.48,345.42 L126.38,345.33 L122.62,343.67 L122.60,343.66 L122.20,343.65 L121.80,343.66 L121.41,343.70 L121.02,343.77 L120.63,343.86 L120.26,343.97 L119.89,344.11 L119.55,344.27 L117.29,346.17 L117.17,346.34 L116.96,346.68 L116.78,347.03 L116.61,347.39 L116.47,347.76 L116.38,348.08 L116.96,352.72 L116.96,352.72 L117.17,353.06 L117.40,353.38 L117.65,353.69 L117.92,353.98 L118.21,354.25 L118.52,354.50 L118.84,354.73 L119.18,354.94 L119.53,355.12 L119.89,355.29 L120.26,355.43 L120.54,355.51 L126.03,354.38 L126.19,354.25 L126.48,353.98 L126.75,353.69 L127.00,353.38 L127.23,353.06 L127.44,352.72 L127.62,352.37 L127.79,352.01 L127.93,351.64 L128.04,351.27 L128.13,350.88 L128.20,350.49 L128.24,350.10 L128.25,349.70 L128.24,349.30 L128.20,348.91 L128.13,348.52 L128.04,348.13 L127.93,347.76 L127.79,347.39Z" fill="url(#gcell3)" stroke="#f4f8fc" stroke-width="1.0" stroke-linejoin="round"/><path d="M116.18,348.14 L115.99,347.86 L115.77,347.60 L115.54,347.36 L115.30,347.13 L115.04,346.91 L114.76,346.72 L114.48,346.54 L114.18,346.38 L114.13,346.36 L112.86,345.94 L112.57,345.89 L112.24,345.86 L111.90,345.85 L111.56,345.86 L111.23,345.89 L110.89,345.95 L110.57,346.02 L110.24,346.12 L109.93,346.24 L109.62,346.38 L109.32,346.54 L109.04,346.72 L108.76,346.91 L108.50,347.13 L108.26,347.36 L108.03,347.60 L107.81,347.86 L107.62,348.14 L107.44,348.42 L107.28,348.72 L107.14,349.03 L107.02,349.34 L106.92,349.67 L106.85,349.99 L106.79,350.33 L106.76,350.66 L106.75,351.00 L106.76,351.34 L106.79,351.64 L107.91,354.25 L108.03,354.40 L108.26,354.64 L108.50,354.87 L108.76,355.09 L109.04,355.28 L109.32,355.46 L109.62,355.62 L109.93,355.76 L110.24,355.88 L110.57,355.98 L110.89,356.05 L111.23,356.11 L111.56,356.14 L111.90,356.15 L112.24,356.14 L112.41,356.12 L115.30,354.87 L115.54,354.64 L115.77,354.40 L115.99,354.14 L116.18,353.86 L116.36,353.58 L116.52,353.28 L116.66,352.97 L116.78,352.66 L116.88,352.33 L116.90,352.23 L116.44,348.56 L116.36,348.42 L116.18,348.14Z" fill="url(#gcell3)" stroke="#f4f8fc" stroke-width="1.0" stroke-linejoin="round"/><path d="M146.96,349.69 L146.91,349.38 L146.84,349.08 L146.75,348.79 L146.65,348.50 L146.52,348.22 L146.37,347.95 L146.21,347.69 L146.03,347.44 L145.84,347.20 L145.63,346.97 L145.40,346.76 L145.16,346.57 L145.09,346.51 L140.18,346.10 L139.95,346.23 L139.69,346.39 L139.44,346.57 L139.20,346.76 L138.97,346.97 L138.92,347.03 L137.62,349.83 L137.61,349.99 L137.60,350.30 L137.61,350.61 L137.64,350.91 L137.69,351.22 L137.76,351.52 L137.85,351.81 L137.95,352.10 L138.08,352.38 L138.23,352.65 L138.39,352.91 L138.57,353.16 L138.76,353.40 L138.97,353.63 L139.20,353.84 L139.44,354.03 L139.69,354.21 L139.95,354.37 L140.22,354.52 L140.50,354.65 L140.79,354.75 L141.08,354.84 L141.38,354.91 L141.69,354.96 L141.99,354.99 L142.30,355.00 L142.61,354.99 L142.91,354.96 L143.22,354.91 L143.52,354.84 L143.81,354.75 L144.10,354.65 L144.38,354.52 L144.65,354.37 L144.91,354.21 L145.16,354.03 L145.40,353.84 L145.63,353.63 L145.84,353.40 L146.03,353.16 L146.21,352.91 L146.37,352.65 L146.52,352.38 L146.65,352.10 L146.75,351.81 L146.84,351.52 L146.91,351.22 L146.96,350.91 L146.99,350.61 L147.00,350.30 L146.99,349.99 L146.96,349.69Z" fill="url(#gcell3)" stroke="#f4f8fc" stroke-width="1.0" stroke-linejoin="round"/><path d="M119.44,356.36 L119.20,356.13 L118.94,355.91 L118.66,355.72 L118.38,355.54 L118.08,355.38 L117.77,355.24 L117.46,355.12 L117.13,355.02 L116.81,354.95 L116.47,354.89 L116.14,354.86 L115.80,354.85 L115.46,354.86 L115.29,354.88 L112.40,356.13 L112.16,356.36 L111.93,356.60 L111.71,356.86 L111.52,357.14 L111.34,357.42 L111.18,357.72 L111.04,358.03 L110.92,358.34 L110.82,358.67 L110.75,358.99 L110.69,359.33 L110.66,359.66 L110.65,360.00 L110.66,360.34 L110.69,360.67 L110.75,361.01 L110.82,361.33 L110.92,361.66 L111.04,361.97 L111.18,362.28 L111.34,362.58 L111.52,362.86 L111.71,363.14 L111.93,363.40 L112.16,363.64 L112.40,363.87 L112.59,364.03 L113.76,364.73 L113.83,364.76 L114.14,364.88 L114.47,364.98 L114.79,365.05 L115.13,365.11 L115.46,365.14 L115.80,365.15 L116.14,365.14 L116.47,365.11 L116.81,365.05 L117.13,364.98 L117.46,364.88 L117.77,364.76 L118.08,364.62 L118.38,364.46 L118.66,364.28 L118.94,364.09 L119.20,363.87 L119.44,363.64 L119.67,363.40 L119.89,363.14 L120.08,362.86 L120.21,362.66 L119.79,356.74 L119.67,356.60 L119.44,356.36Z" fill="url(#gcell3)" stroke="#f4f8fc" stroke-width="1.0" stroke-linejoin="round"/><path d="M129.31,358.73 L129.25,358.39 L129.18,358.07 L129.08,357.74 L128.96,357.43 L128.82,357.12 L128.66,356.82 L128.48,356.54 L128.29,356.26 L128.07,356.00 L127.84,355.76 L127.60,355.53 L127.34,355.31 L127.06,355.12 L126.78,354.94 L126.48,354.78 L126.17,354.64 L125.86,354.52 L125.65,354.46 L120.92,355.43 L120.80,355.53 L120.56,355.76 L120.33,356.00 L120.11,356.26 L119.92,356.54 L119.79,356.74 L120.21,362.66 L120.33,362.80 L120.56,363.04 L120.80,363.27 L121.06,363.49 L121.34,363.68 L121.62,363.86 L121.92,364.02 L122.23,364.16 L122.54,364.28 L122.87,364.38 L123.19,364.45 L123.53,364.51 L123.86,364.54 L124.20,364.55 L124.54,364.54 L124.87,364.51 L125.21,364.45 L125.53,364.38 L125.86,364.28 L126.17,364.16 L126.48,364.02 L126.78,363.86 L127.06,363.68 L127.34,363.49 L127.60,363.27 L127.84,363.04 L128.07,362.80 L128.29,362.54 L128.48,362.26 L128.66,361.98 L128.82,361.68 L128.96,361.37 L129.08,361.06 L129.18,360.73 L129.25,360.41 L129.31,360.07 L129.34,359.74 L129.35,359.40 L129.34,359.06 L129.31,358.73Z" fill="url(#gcell3)" stroke="#f4f8fc" stroke-width="1.0" stroke-linejoin="round"/><path d="M115.00,367.47 L114.95,367.21 L114.89,366.96 L114.82,366.70 L114.73,366.46 L114.62,366.22 L114.49,365.98 L114.35,365.76 L114.20,365.55 L114.03,365.34 L113.85,365.15 L113.66,364.97 L113.45,364.80 L113.24,364.65 L113.02,364.51 L112.78,364.38 L112.54,364.27 L112.30,364.18 L112.04,364.11 L111.79,364.05 L111.53,364.00 L111.26,363.98 L111.00,363.97 L110.74,363.98 L110.47,364.00 L110.21,364.05 L109.96,364.11 L109.70,364.18 L109.46,364.27 L109.22,364.38 L108.98,364.51 L108.88,364.58 L107.03,367.28 L107.00,367.47 L106.98,367.74 L106.97,368.00 L106.98,368.26 L107.00,368.53 L107.05,368.79 L107.11,369.04 L107.18,369.30 L107.27,369.54 L107.38,369.78 L107.51,370.02 L107.65,370.24 L107.80,370.45 L107.97,370.66 L108.15,370.85 L108.34,371.03 L108.55,371.20 L108.76,371.35 L108.98,371.49 L109.22,371.62 L109.46,371.73 L109.70,371.82 L109.96,371.89 L110.21,371.95 L110.47,372.00 L110.74,372.02 L111.00,372.03 L111.26,372.02 L111.53,372.00 L111.79,371.95 L112.04,371.89 L112.30,371.82 L112.54,371.73 L112.78,371.62 L113.02,371.49 L113.24,371.35 L113.45,371.20 L113.66,371.03 L113.85,370.85 L114.03,370.66 L114.20,370.45 L114.35,370.24 L114.49,370.02 L114.62,369.78 L114.73,369.54 L114.82,369.30 L114.89,369.04 L114.95,368.79 L115.00,368.53 L115.02,368.26 L115.03,368.00 L115.02,367.74 L115.00,367.47Z" fill="url(#gcell3)" stroke="#f4f8fc" stroke-width="1.0" stroke-linejoin="round"/></g>
<g fill="#3018a8" fill-opacity="0.45" filter="url(#bl4)"><ellipse cx="96.4" cy="329.7" rx="2.6" ry="3.1"/><ellipse cx="103.8" cy="334.9" rx="2.1" ry="2.0"/><ellipse cx="99.4" cy="337.4" rx="2.3" ry="1.8"/><ellipse cx="78.9" cy="338.9" rx="2.4" ry="2.8"/><ellipse cx="88.9" cy="337.9" rx="2.2" ry="2.6"/><ellipse cx="83.3" cy="348.6" rx="2.6" ry="2.3"/><ellipse cx="93.0" cy="349.2" rx="3.0" ry="2.9"/><ellipse cx="99.1" cy="346.0" rx="2.2" ry="2.6"/><ellipse cx="105.8" cy="342.9" rx="2.1" ry="2.5"/><ellipse cx="102.1" cy="355.3" rx="2.9" ry="2.7"/><ellipse cx="95.1" cy="357.7" rx="2.5" ry="2.1"/><ellipse cx="85.4" cy="359.1" rx="2.8" ry="2.7"/><ellipse cx="95.0" cy="366.1" rx="2.5" ry="2.3"/><ellipse cx="103.5" cy="363.6" rx="2.9" ry="2.3"/><ellipse cx="127.1" cy="322.9" rx="2.3" ry="1.9"/><ellipse cx="124.4" cy="326.9" rx="2.4" ry="1.8"/><ellipse cx="116.3" cy="332.3" rx="2.6" ry="2.8"/><ellipse cx="133.2" cy="333.6" rx="3.6" ry="3.5"/><ellipse cx="110.7" cy="337.6" rx="2.7" ry="2.8"/><ellipse cx="126.3" cy="338.4" rx="3.2" ry="2.9"/><ellipse cx="115.3" cy="341.0" rx="2.5" ry="2.5"/><ellipse cx="142.0" cy="342.6" rx="2.2" ry="2.2"/><ellipse cx="134.4" cy="345.7" rx="2.5" ry="3.0"/><ellipse cx="122.3" cy="349.6" rx="2.5" ry="3.3"/><ellipse cx="112.7" cy="351.4" rx="2.3" ry="2.7"/><ellipse cx="143.1" cy="349.8" rx="2.6" ry="2.7"/><ellipse cx="116.4" cy="359.4" rx="2.7" ry="2.8"/><ellipse cx="124.3" cy="358.5" rx="2.9" ry="2.8"/><ellipse cx="110.9" cy="367.5" rx="2.0" ry="2.3"/></g>
<g fill="#e8e8f8" fill-opacity="0.6" filter="url(#bl3)"><circle cx="104.7" cy="334.1" r="0.88"/><circle cx="84.0" cy="348.4" r="0.96"/><circle cx="94.4" cy="365.2" r="0.88"/><circle cx="99.6" cy="338.0" r="0.64"/></g>
</g>
<g clip-path="url(#ci_m2)">
<rect x="151.7" y="316.7" width="79.7" height="56.0" fill="#bcd2c8"/>
<ellipse cx="196" cy="320" rx="9" ry="7" fill="#c890d8" filter="url(#bl4)"/>
<g fill="#6a80e0" filter="url(#bl3)"><circle cx="154.9" cy="325.0" r="6.40"/><circle cx="164.6" cy="325.0" r="7.52"/><circle cx="175.0" cy="321.2" r="6.40"/><circle cx="154.9" cy="336.7" r="6.40"/><circle cx="169.8" cy="337.4" r="6.96"/><circle cx="180.8" cy="331.5" r="5.95"/><circle cx="178.2" cy="341.3" r="5.84"/><circle cx="158.8" cy="347.1" r="5.84"/><circle cx="169.1" cy="346.4" r="5.84"/><circle cx="178.2" cy="351.0" r="5.84"/><circle cx="153.6" cy="353.6" r="5.28"/><circle cx="167.2" cy="354.9" r="6.40"/><circle cx="160.1" cy="361.3" r="5.84"/><circle cx="171.1" cy="363.9" r="6.96"/><circle cx="182.1" cy="361.3" r="6.40"/><circle cx="183.4" cy="369.1" r="5.28"/><circle cx="156.0" cy="369.5" r="5.28"/><circle cx="212.7" cy="319.9" r="6.40"/><circle cx="223.0" cy="319.2" r="5.84"/><circle cx="193.9" cy="330.9" r="5.28"/><circle cx="203.0" cy="330.9" r="6.40"/><circle cx="214.6" cy="329.0" r="6.40"/><circle cx="225.6" cy="328.3" r="5.84"/><circle cx="210.1" cy="337.4" r="5.84"/><circle cx="221.1" cy="340.6" r="8.08"/><circle cx="202.3" cy="342.6" r="5.28"/><circle cx="208.8" cy="347.7" r="5.84"/><circle cx="222.4" cy="353.6" r="6.96"/><circle cx="204.9" cy="355.5" r="5.84"/><circle cx="215.9" cy="362.0" r="6.96"/><circle cx="202.3" cy="362.0" r="5.84"/><circle cx="227.6" cy="364.6" r="5.84"/><circle cx="204.2" cy="369.8" r="5.28"/><circle cx="217.2" cy="370.4" r="5.28"/><circle cx="230.5" cy="352.0" r="5.28"/><circle cx="230.5" cy="340.0" r="4.72"/></g>
<g filter="url(#bl3)"><path d="M158.86,321.04 L158.59,320.79 L158.31,320.56 L158.01,320.34 L157.70,320.15 L157.38,319.98 L157.04,319.83 L156.70,319.70 L156.35,319.59 L155.99,319.51 L155.63,319.45 L155.27,319.41 L154.90,319.40 L154.53,319.41 L154.17,319.45 L153.81,319.51 L153.45,319.59 L153.10,319.70 L152.76,319.83 L152.42,319.98 L152.10,320.15 L151.79,320.34 L151.49,320.56 L151.21,320.79 L150.94,321.04 L150.69,321.31 L150.46,321.59 L150.24,321.89 L150.05,322.20 L149.88,322.52 L149.73,322.86 L149.60,323.20 L149.49,323.55 L149.41,323.91 L149.35,324.27 L149.31,324.63 L149.30,325.00 L149.31,325.37 L149.35,325.73 L149.41,326.09 L149.49,326.45 L149.60,326.80 L149.73,327.14 L149.88,327.48 L150.05,327.80 L150.24,328.11 L150.46,328.41 L150.69,328.69 L150.94,328.96 L151.21,329.21 L151.49,329.44 L151.79,329.66 L152.10,329.85 L152.42,330.02 L152.76,330.17 L153.10,330.30 L153.45,330.41 L153.81,330.49 L154.17,330.55 L154.53,330.59 L154.90,330.60 L155.27,330.59 L155.63,330.55 L155.99,330.49 L156.35,330.41 L156.70,330.30 L157.04,330.17 L157.38,330.02 L157.70,329.85 L158.01,329.66 L158.31,329.44 L158.59,329.21 L158.86,328.96 L159.11,328.69 L159.18,328.60 L159.18,321.40 L159.11,321.31 L158.86,321.04Z" fill="url(#gcell2)" stroke="#c8e4e4" stroke-width="0.7" stroke-linejoin="round"/><path d="M168.69,319.67 L168.33,319.41 L167.96,319.18 L167.57,318.97 L167.17,318.79 L166.76,318.64 L166.34,318.51 L165.91,318.41 L165.48,318.34 L165.04,318.29 L164.60,318.28 L164.16,318.29 L163.72,318.34 L163.29,318.41 L162.86,318.51 L162.44,318.64 L162.03,318.79 L161.63,318.97 L161.24,319.18 L160.87,319.41 L160.51,319.67 L160.17,319.95 L159.85,320.25 L159.55,320.57 L159.27,320.91 L159.18,321.03 L159.18,328.97 L159.27,329.09 L159.55,329.43 L159.85,329.75 L160.17,330.05 L160.51,330.33 L160.87,330.59 L161.24,330.82 L161.63,331.03 L162.03,331.21 L162.44,331.36 L162.86,331.49 L163.29,331.59 L163.72,331.66 L164.16,331.71 L164.60,331.72 L165.04,331.71 L165.48,331.66 L165.91,331.59 L166.34,331.49 L166.76,331.36 L167.17,331.21 L167.57,331.03 L167.96,330.82 L168.33,330.59 L168.69,330.33 L169.03,330.05 L169.35,329.75 L169.65,329.43 L169.93,329.09 L170.19,328.73 L170.42,328.36 L170.63,327.97 L170.81,327.57 L170.96,327.16 L171.09,326.74 L171.19,326.31 L171.26,325.88 L171.28,325.70 L169.25,320.16 L169.03,319.95 L168.69,319.67Z" fill="url(#gcell2)" stroke="#c8e4e4" stroke-width="0.7" stroke-linejoin="round"/><path d="M180.59,320.83 L180.55,320.47 L180.49,320.11 L180.41,319.75 L180.30,319.40 L180.17,319.06 L180.02,318.72 L179.85,318.40 L179.66,318.09 L179.44,317.79 L179.21,317.51 L178.96,317.24 L178.69,316.99 L178.41,316.76 L178.11,316.54 L177.80,316.35 L177.48,316.18 L177.14,316.03 L176.80,315.90 L176.45,315.79 L176.09,315.71 L175.73,315.65 L175.37,315.61 L175.00,315.60 L174.63,315.61 L174.27,315.65 L173.91,315.71 L173.55,315.79 L173.20,315.90 L172.86,316.03 L172.52,316.18 L172.20,316.35 L171.89,316.54 L171.59,316.76 L171.31,316.99 L171.04,317.24 L170.79,317.51 L170.56,317.79 L170.34,318.09 L170.15,318.40 L169.98,318.72 L169.83,319.06 L169.70,319.40 L169.59,319.75 L169.51,320.11 L169.45,320.47 L169.43,320.64 L171.10,325.22 L171.31,325.41 L171.59,325.64 L171.89,325.86 L172.20,326.05 L172.52,326.22 L172.86,326.37 L173.20,326.50 L173.55,326.61 L173.91,326.69 L174.27,326.75 L174.63,326.79 L175.00,326.80 L175.37,326.79 L175.73,326.75 L176.09,326.69 L176.45,326.61 L176.80,326.50 L177.14,326.37 L177.48,326.22 L177.80,326.05 L178.11,325.86 L178.41,325.64 L178.69,325.41 L178.96,325.16 L179.21,324.89 L179.44,324.61 L179.66,324.31 L179.85,324.00 L180.02,323.68 L180.17,323.34 L180.30,323.00 L180.41,322.65 L180.49,322.29 L180.55,321.93 L180.59,321.57 L180.60,321.20 L180.59,320.83Z" fill="url(#gcell2)" stroke="#c8e4e4" stroke-width="0.7" stroke-linejoin="round"/><path d="M160.45,335.97 L160.39,335.61 L160.31,335.25 L160.20,334.90 L160.07,334.56 L159.92,334.22 L159.75,333.90 L159.56,333.59 L159.34,333.29 L159.11,333.01 L158.86,332.74 L158.59,332.49 L158.31,332.26 L158.01,332.04 L157.70,331.85 L157.38,331.68 L157.04,331.53 L156.70,331.40 L156.35,331.29 L155.99,331.21 L155.63,331.15 L155.27,331.11 L154.90,331.10 L154.53,331.11 L154.17,331.15 L153.81,331.21 L153.45,331.29 L153.10,331.40 L152.76,331.53 L152.42,331.68 L152.10,331.85 L151.79,332.04 L151.49,332.26 L151.21,332.49 L150.94,332.74 L150.69,333.01 L150.46,333.29 L150.24,333.59 L150.05,333.90 L149.88,334.22 L149.73,334.56 L149.60,334.90 L149.49,335.25 L149.41,335.61 L149.35,335.97 L149.31,336.33 L149.30,336.70 L149.31,337.07 L149.35,337.43 L149.41,337.79 L149.49,338.15 L149.60,338.50 L149.73,338.84 L149.88,339.18 L150.05,339.50 L150.24,339.81 L150.46,340.11 L150.69,340.39 L150.94,340.66 L151.21,340.91 L151.49,341.14 L151.79,341.36 L152.10,341.55 L152.42,341.72 L152.76,341.87 L153.10,342.00 L153.45,342.11 L153.81,342.19 L154.17,342.25 L154.53,342.29 L154.90,342.30 L155.27,342.29 L155.63,342.25 L155.99,342.19 L156.35,342.11 L156.70,342.00 L157.04,341.87 L157.38,341.72 L157.70,341.55 L158.01,341.36 L158.31,341.14 L158.59,340.91 L158.86,340.66 L159.11,340.39 L159.34,340.11 L159.56,339.81 L159.75,339.50 L159.92,339.18 L160.07,338.84 L160.20,338.50 L160.31,338.15 L160.39,337.79 L160.45,337.43 L160.49,337.07 L160.50,336.70 L160.49,336.33 L160.45,335.97Z" fill="url(#gcell2)" stroke="#c8e4e4" stroke-width="0.7" stroke-linejoin="round"/><path d="M175.75,335.81 L175.63,335.42 L175.49,335.04 L175.32,334.68 L175.13,334.32 L174.92,333.98 L174.69,333.65 L174.43,333.34 L174.16,333.04 L173.86,332.77 L173.55,332.51 L173.22,332.28 L172.88,332.07 L172.52,331.88 L172.16,331.71 L171.78,331.57 L171.39,331.45 L171.00,331.36 L170.60,331.29 L170.20,331.25 L169.80,331.24 L169.40,331.25 L169.00,331.29 L168.60,331.36 L168.21,331.45 L167.82,331.57 L167.44,331.71 L167.08,331.88 L166.72,332.07 L166.38,332.28 L166.05,332.51 L165.74,332.77 L165.44,333.04 L165.17,333.34 L164.91,333.65 L164.68,333.98 L164.47,334.32 L164.28,334.68 L164.11,335.04 L163.97,335.42 L163.85,335.81 L163.76,336.20 L163.69,336.60 L163.65,337.00 L163.64,337.40 L163.65,337.80 L163.69,338.20 L163.76,338.60 L163.85,338.99 L163.97,339.38 L164.11,339.76 L164.28,340.12 L164.47,340.48 L164.68,340.82 L164.91,341.15 L165.17,341.46 L165.44,341.76 L165.74,342.03 L165.92,342.18 L172.90,342.72 L173.08,342.61 L175.90,336.54 L175.84,336.20 L175.75,335.81Z" fill="url(#gcell2)" stroke="#c8e4e4" stroke-width="0.7" stroke-linejoin="round"/><path d="M185.94,331.16 L185.91,330.83 L185.85,330.49 L185.78,330.17 L185.68,329.84 L185.56,329.53 L185.42,329.22 L185.26,328.92 L185.08,328.64 L184.89,328.36 L184.67,328.10 L184.44,327.86 L184.20,327.63 L183.94,327.41 L183.66,327.22 L183.38,327.04 L183.08,326.88 L182.77,326.74 L182.46,326.62 L182.13,326.52 L181.81,326.45 L181.47,326.39 L181.14,326.36 L180.80,326.35 L180.46,326.36 L180.13,326.39 L179.79,326.45 L179.47,326.52 L179.14,326.62 L178.83,326.74 L178.52,326.88 L178.22,327.04 L177.94,327.22 L177.66,327.41 L177.40,327.63 L177.16,327.86 L176.93,328.10 L176.71,328.36 L176.52,328.64 L176.34,328.92 L176.18,329.22 L176.04,329.53 L175.92,329.84 L175.82,330.17 L175.75,330.49 L175.69,330.83 L175.66,331.16 L175.65,331.50 L175.66,331.84 L175.69,332.17 L175.75,332.51 L175.82,332.83 L175.92,333.16 L176.04,333.47 L176.18,333.78 L176.34,334.08 L176.52,334.36 L176.71,334.64 L176.93,334.90 L177.16,335.14 L177.40,335.37 L177.66,335.59 L177.94,335.78 L178.22,335.96 L178.52,336.12 L178.83,336.26 L178.90,336.29 L180.08,336.60 L180.13,336.61 L180.46,336.64 L180.80,336.65 L181.14,336.64 L181.47,336.61 L181.81,336.55 L182.13,336.48 L182.46,336.38 L182.77,336.26 L183.08,336.12 L183.38,335.96 L183.66,335.78 L183.94,335.59 L184.20,335.37 L184.44,335.14 L184.67,334.90 L184.89,334.64 L185.08,334.36 L185.26,334.08 L185.42,333.78 L185.56,333.47 L185.68,333.16 L185.78,332.83 L185.85,332.51 L185.91,332.17 L185.94,331.84 L185.95,331.50 L185.94,331.16Z" fill="url(#gcell2)" stroke="#c8e4e4" stroke-width="0.7" stroke-linejoin="round"/><path d="M183.07,340.00 L182.97,339.68 L182.86,339.37 L182.72,339.07 L182.56,338.78 L182.39,338.50 L182.20,338.23 L181.99,337.98 L181.76,337.74 L181.52,337.51 L181.27,337.30 L181.00,337.11 L180.72,336.94 L180.43,336.78 L180.13,336.64 L179.85,336.54 L179.13,336.35 L178.86,336.30 L178.53,336.27 L178.20,336.26 L177.87,336.27 L177.54,336.30 L177.22,336.36 L176.90,336.43 L176.58,336.53 L176.27,336.64 L175.97,336.78 L175.73,336.91 L173.25,342.25 L173.26,342.28 L173.33,342.60 L173.43,342.92 L173.54,343.23 L173.68,343.53 L173.84,343.82 L174.01,344.10 L174.20,344.37 L174.41,344.62 L174.64,344.86 L174.88,345.09 L175.13,345.30 L175.40,345.49 L175.68,345.66 L175.97,345.82 L176.27,345.96 L176.58,346.07 L176.84,346.15 L179.56,346.15 L179.82,346.07 L180.13,345.96 L180.43,345.82 L180.72,345.66 L181.00,345.49 L181.27,345.30 L181.52,345.09 L181.76,344.86 L181.99,344.62 L182.20,344.37 L182.39,344.10 L182.56,343.82 L182.72,343.53 L182.86,343.23 L182.97,342.92 L183.07,342.60 L183.14,342.28 L183.20,341.96 L183.23,341.63 L183.24,341.30 L183.23,340.97 L183.20,340.64 L183.14,340.32 L183.07,340.00Z" fill="url(#gcell2)" stroke="#c8e4e4" stroke-width="0.7" stroke-linejoin="round"/><path d="M163.67,345.80 L163.57,345.48 L163.46,345.17 L163.32,344.87 L163.16,344.58 L162.99,344.30 L162.80,344.03 L162.59,343.78 L162.36,343.54 L162.12,343.31 L161.87,343.10 L161.60,342.91 L161.32,342.74 L161.03,342.58 L160.73,342.44 L160.42,342.33 L160.10,342.23 L159.78,342.16 L159.46,342.10 L159.13,342.07 L158.80,342.06 L158.47,342.07 L158.14,342.10 L157.82,342.16 L157.50,342.23 L157.18,342.33 L156.87,342.44 L156.57,342.58 L156.28,342.74 L156.00,342.91 L155.73,343.10 L155.48,343.31 L155.24,343.54 L155.01,343.78 L154.80,344.03 L154.61,344.30 L154.44,344.58 L154.28,344.87 L154.14,345.17 L154.03,345.48 L153.93,345.80 L153.86,346.12 L153.80,346.44 L153.77,346.77 L153.76,347.10 L153.77,347.43 L153.80,347.76 L153.86,348.08 L153.93,348.40 L154.03,348.72 L154.14,349.03 L154.15,349.03 L157.93,352.06 L158.14,352.10 L158.47,352.13 L158.80,352.14 L159.13,352.13 L159.46,352.10 L159.78,352.04 L160.10,351.97 L160.42,351.87 L160.73,351.76 L161.03,351.62 L161.32,351.46 L161.60,351.29 L161.87,351.10 L162.12,350.89 L162.36,350.66 L162.59,350.42 L162.80,350.17 L162.99,349.90 L163.16,349.62 L163.32,349.33 L163.46,349.03 L163.57,348.72 L163.67,348.40 L163.74,348.08 L163.80,347.76 L163.83,347.43 L163.84,347.10 L163.83,346.77 L163.80,346.44 L163.74,346.12 L163.67,345.80Z" fill="url(#gcell2)" stroke="#c8e4e4" stroke-width="0.7" stroke-linejoin="round"/><path d="M173.87,344.78 L173.76,344.47 L173.62,344.17 L173.46,343.88 L173.29,343.60 L173.10,343.33 L172.89,343.08 L172.66,342.84 L172.51,342.69 L166.30,342.21 L166.03,342.40 L165.78,342.61 L165.54,342.84 L165.31,343.08 L165.10,343.33 L164.91,343.60 L164.74,343.88 L164.58,344.17 L164.44,344.47 L164.33,344.78 L164.23,345.10 L164.16,345.42 L164.10,345.74 L164.07,346.07 L164.06,346.40 L164.07,346.73 L164.10,347.06 L164.16,347.38 L164.23,347.70 L164.33,348.02 L164.44,348.33 L164.58,348.63 L164.74,348.92 L164.91,349.20 L165.10,349.47 L165.31,349.72 L165.33,349.74 L171.09,351.03 L171.33,350.92 L171.62,350.76 L171.90,350.59 L172.17,350.40 L172.42,350.19 L172.66,349.96 L172.89,349.72 L173.10,349.47 L173.29,349.20 L173.46,348.92 L173.62,348.63 L173.76,348.33 L173.87,348.02 L173.97,347.70 L174.04,347.38 L174.10,347.06 L174.13,346.73 L174.14,346.40 L174.13,346.07 L174.10,345.74 L174.04,345.42 L173.97,345.10 L173.87,344.78Z" fill="url(#gcell2)" stroke="#c8e4e4" stroke-width="0.7" stroke-linejoin="round"/><path d="M183.14,350.02 L183.07,349.70 L182.97,349.38 L182.86,349.07 L182.72,348.77 L182.56,348.48 L182.39,348.20 L182.20,347.93 L181.99,347.68 L181.76,347.44 L181.52,347.21 L181.27,347.00 L181.00,346.81 L180.72,346.64 L180.43,346.48 L180.13,346.34 L179.82,346.23 L179.56,346.15 L176.84,346.15 L176.58,346.23 L176.27,346.34 L175.97,346.48 L175.68,346.64 L175.40,346.81 L175.13,347.00 L174.88,347.21 L174.64,347.44 L174.41,347.68 L174.20,347.93 L174.01,348.20 L173.84,348.48 L173.68,348.77 L173.54,349.07 L173.43,349.38 L173.33,349.70 L173.26,350.02 L173.20,350.34 L173.17,350.67 L173.16,351.00 L173.17,351.33 L173.20,351.66 L173.26,351.98 L173.33,352.30 L173.43,352.62 L173.54,352.93 L173.68,353.23 L173.84,353.52 L174.01,353.80 L174.20,354.07 L174.41,354.32 L174.64,354.56 L174.88,354.79 L175.13,355.00 L175.40,355.19 L175.68,355.36 L175.97,355.52 L176.27,355.66 L176.58,355.77 L176.90,355.87 L177.22,355.94 L177.54,356.00 L177.87,356.03 L178.20,356.04 L178.53,356.03 L178.86,356.00 L179.18,355.94 L179.50,355.87 L179.82,355.77 L180.13,355.66 L180.43,355.52 L180.72,355.36 L181.00,355.19 L181.27,355.00 L181.52,354.79 L181.76,354.56 L181.99,354.32 L182.20,354.07 L182.39,353.80 L182.56,353.52 L182.72,353.23 L182.86,352.93 L182.97,352.62 L183.07,352.30 L183.14,351.98 L183.20,351.66 L183.23,351.33 L183.24,351.00 L183.23,350.67 L183.20,350.34 L183.14,350.02Z" fill="url(#gcell2)" stroke="#c8e4e4" stroke-width="0.7" stroke-linejoin="round"/><path d="M158.04,353.02 L157.99,352.73 L157.93,352.44 L157.84,352.16 L157.75,351.92 L154.33,349.18 L154.18,349.16 L153.89,349.13 L153.60,349.12 L153.31,349.13 L153.02,349.16 L152.73,349.21 L152.44,349.27 L152.16,349.36 L151.89,349.46 L151.62,349.58 L151.36,349.72 L151.11,349.88 L150.87,350.05 L150.65,350.23 L150.43,350.43 L150.23,350.65 L150.05,350.87 L149.88,351.11 L149.72,351.36 L149.58,351.62 L149.46,351.89 L149.36,352.16 L149.27,352.44 L149.21,352.73 L149.16,353.02 L149.13,353.31 L149.12,353.60 L149.13,353.89 L149.16,354.18 L149.21,354.47 L149.27,354.76 L149.36,355.04 L149.46,355.31 L149.58,355.58 L149.72,355.84 L149.88,356.09 L150.05,356.33 L150.23,356.55 L150.43,356.77 L150.65,356.97 L150.87,357.15 L151.11,357.32 L151.36,357.48 L151.62,357.62 L151.89,357.74 L152.16,357.84 L152.44,357.93 L152.73,357.99 L153.02,358.04 L153.31,358.07 L153.60,358.08 L153.89,358.07 L154.18,358.04 L154.47,357.99 L154.76,357.93 L155.04,357.84 L155.31,357.74 L155.58,357.62 L155.84,357.48 L156.09,357.32 L156.33,357.15 L156.55,356.97 L156.77,356.77 L156.97,356.55 L157.15,356.33 L157.32,356.09 L157.48,355.84 L157.62,355.58 L157.74,355.31 L157.84,355.04 L157.93,354.76 L157.99,354.47 L158.04,354.18 L158.07,353.89 L158.08,353.60 L158.07,353.31 L158.04,353.02Z" fill="url(#gcell2)" stroke="#c8e4e4" stroke-width="0.7" stroke-linejoin="round"/><path d="M172.61,353.45 L172.50,353.10 L172.37,352.76 L172.22,352.42 L172.05,352.10 L171.86,351.79 L171.64,351.49 L171.41,351.21 L171.28,351.07 L165.14,349.70 L165.06,349.73 L164.72,349.88 L164.40,350.05 L164.09,350.24 L163.79,350.46 L163.51,350.69 L163.24,350.94 L162.99,351.21 L162.76,351.49 L162.54,351.79 L162.35,352.10 L162.18,352.42 L162.03,352.76 L161.90,353.10 L161.79,353.45 L161.71,353.81 L161.65,354.17 L161.61,354.53 L161.60,354.90 L161.61,355.27 L161.65,355.63 L161.71,355.99 L161.79,356.35 L161.82,356.44 L165.11,360.10 L165.40,360.20 L165.75,360.31 L166.11,360.39 L166.16,360.40 L171.92,357.91 L172.05,357.70 L172.22,357.38 L172.37,357.04 L172.50,356.70 L172.61,356.35 L172.69,355.99 L172.75,355.63 L172.79,355.27 L172.80,354.90 L172.79,354.53 L172.75,354.17 L172.69,353.81 L172.61,353.45Z" fill="url(#gcell2)" stroke="#c8e4e4" stroke-width="0.7" stroke-linejoin="round"/><path d="M164.97,360.00 L164.94,359.90 L161.99,356.63 L161.72,356.53 L161.40,356.43 L161.08,356.36 L160.76,356.30 L160.43,356.27 L160.10,356.26 L159.77,356.27 L159.44,356.30 L159.12,356.36 L158.80,356.43 L158.48,356.53 L158.17,356.64 L157.87,356.78 L157.58,356.94 L157.30,357.11 L157.03,357.30 L156.78,357.51 L156.54,357.74 L156.31,357.98 L156.10,358.23 L155.91,358.50 L155.74,358.78 L155.58,359.07 L155.44,359.37 L155.33,359.68 L155.23,360.00 L155.16,360.32 L155.10,360.64 L155.07,360.97 L155.06,361.30 L155.07,361.63 L155.10,361.96 L155.16,362.28 L155.23,362.60 L155.33,362.92 L155.44,363.23 L155.58,363.53 L155.74,363.82 L155.91,364.10 L156.10,364.37 L156.31,364.62 L156.54,364.86 L156.62,364.95 L159.27,366.27 L159.44,366.30 L159.77,366.33 L160.10,366.34 L160.43,366.33 L160.76,366.30 L161.08,366.24 L161.40,366.17 L161.72,366.07 L162.03,365.96 L162.33,365.82 L162.62,365.66 L162.90,365.49 L163.17,365.30 L163.42,365.09 L163.66,364.86 L163.89,364.62 L164.10,364.37 L164.29,364.10 L164.46,363.82 L164.62,363.53 L164.76,363.23 L164.87,362.92 L164.97,362.60 L165.04,362.28 L165.10,361.96 L165.13,361.63 L165.14,361.30 L165.13,360.97 L165.10,360.64 L165.04,360.32 L164.97,360.00Z" fill="url(#gcell2)" stroke="#c8e4e4" stroke-width="0.7" stroke-linejoin="round"/><path d="M176.22,360.48 L175.99,360.15 L175.73,359.84 L175.46,359.54 L175.16,359.27 L174.85,359.01 L174.52,358.78 L174.18,358.57 L173.82,358.38 L173.46,358.21 L173.08,358.07 L172.69,357.95 L172.30,357.86 L172.11,357.83 L165.97,360.48 L165.77,360.82 L165.58,361.18 L165.41,361.54 L165.37,361.64 L164.97,363.35 L164.95,363.50 L164.94,363.90 L164.95,364.30 L164.99,364.70 L165.06,365.10 L165.15,365.49 L165.27,365.88 L165.41,366.26 L165.58,366.62 L165.77,366.98 L165.98,367.32 L166.21,367.65 L166.47,367.96 L166.74,368.26 L167.04,368.53 L167.35,368.79 L167.68,369.02 L168.02,369.23 L168.38,369.42 L168.74,369.59 L169.12,369.73 L169.51,369.85 L169.90,369.94 L170.30,370.01 L170.70,370.05 L171.10,370.06 L171.50,370.05 L171.90,370.01 L172.30,369.94 L172.69,369.85 L173.08,369.73 L173.46,369.59 L173.82,369.42 L174.18,369.23 L174.52,369.02 L174.85,368.79 L175.16,368.53 L175.46,368.26 L175.73,367.96 L175.99,367.65 L176.22,367.32 L176.43,366.98 L176.62,366.62 L176.79,366.26 L176.93,365.88 L177.05,365.49 L177.14,365.10 L177.21,364.70 L177.25,364.32 L176.41,360.78 L176.22,360.48Z" fill="url(#gcell2)" stroke="#c8e4e4" stroke-width="0.7" stroke-linejoin="round"/><path d="M187.59,360.21 L187.51,359.85 L187.40,359.50 L187.27,359.16 L187.12,358.82 L186.95,358.50 L186.76,358.19 L186.54,357.89 L186.31,357.61 L186.06,357.34 L185.79,357.09 L185.51,356.86 L185.21,356.64 L184.90,356.45 L184.58,356.28 L184.24,356.13 L183.90,356.00 L183.55,355.89 L183.19,355.81 L182.83,355.75 L182.47,355.71 L182.10,355.70 L181.73,355.71 L181.37,355.75 L181.01,355.81 L180.65,355.89 L180.30,356.00 L179.96,356.13 L179.62,356.28 L179.30,356.45 L178.99,356.64 L178.69,356.86 L178.41,357.09 L178.14,357.34 L177.89,357.61 L177.66,357.89 L177.44,358.19 L177.25,358.50 L177.08,358.82 L176.93,359.16 L176.80,359.50 L176.69,359.85 L176.61,360.21 L176.55,360.57 L176.51,360.93 L176.50,361.18 L177.15,363.91 L177.25,364.10 L177.44,364.41 L177.66,364.71 L177.89,364.99 L178.14,365.26 L178.41,365.51 L178.69,365.74 L178.99,365.96 L179.30,366.15 L179.59,366.30 L186.10,365.22 L186.31,364.99 L186.54,364.71 L186.76,364.41 L186.95,364.10 L187.12,363.78 L187.27,363.44 L187.40,363.10 L187.51,362.75 L187.59,362.39 L187.65,362.03 L187.69,361.67 L187.70,361.30 L187.69,360.93 L187.65,360.57 L187.59,360.21Z" fill="url(#gcell2)" stroke="#c8e4e4" stroke-width="0.7" stroke-linejoin="round"/><path d="M187.87,368.81 L187.84,368.52 L187.79,368.23 L187.73,367.94 L187.64,367.66 L187.54,367.39 L187.42,367.12 L187.28,366.86 L187.12,366.61 L186.95,366.37 L186.77,366.15 L186.57,365.93 L186.35,365.73 L186.13,365.55 L185.89,365.38 L185.74,365.28 L179.95,366.24 L179.85,366.37 L179.68,366.61 L179.52,366.86 L179.38,367.12 L179.26,367.39 L179.16,367.66 L179.07,367.94 L179.01,368.23 L178.96,368.52 L178.93,368.81 L178.92,369.10 L178.93,369.39 L178.96,369.68 L179.01,369.97 L179.07,370.26 L179.16,370.54 L179.26,370.81 L179.38,371.08 L179.52,371.34 L179.68,371.59 L179.85,371.83 L180.03,372.05 L180.23,372.27 L180.45,372.47 L180.67,372.65 L180.91,372.82 L181.16,372.98 L181.42,373.12 L181.69,373.24 L181.96,373.34 L182.24,373.43 L182.53,373.49 L182.82,373.54 L183.11,373.57 L183.40,373.58 L183.69,373.57 L183.98,373.54 L184.27,373.49 L184.56,373.43 L184.84,373.34 L185.11,373.24 L185.38,373.12 L185.64,372.98 L185.89,372.82 L186.13,372.65 L186.35,372.47 L186.57,372.27 L186.77,372.05 L186.95,371.83 L187.12,371.59 L187.28,371.34 L187.42,371.08 L187.54,370.81 L187.64,370.54 L187.73,370.26 L187.79,369.97 L187.84,369.68 L187.87,369.39 L187.88,369.10 L187.87,368.81Z" fill="url(#gcell2)" stroke="#c8e4e4" stroke-width="0.7" stroke-linejoin="round"/><path d="M160.47,369.21 L160.44,368.92 L160.39,368.63 L160.33,368.34 L160.24,368.06 L160.14,367.79 L160.02,367.52 L159.88,367.26 L159.72,367.01 L159.55,366.77 L159.37,366.55 L159.17,366.33 L158.95,366.13 L158.89,366.08 L157.00,365.14 L156.87,365.11 L156.58,365.06 L156.29,365.03 L156.00,365.02 L155.71,365.03 L155.42,365.06 L155.13,365.11 L154.84,365.17 L154.56,365.26 L154.29,365.36 L154.02,365.48 L153.76,365.62 L153.51,365.78 L153.27,365.95 L153.05,366.13 L152.83,366.33 L152.63,366.55 L152.45,366.77 L152.28,367.01 L152.12,367.26 L151.98,367.52 L151.86,367.79 L151.76,368.06 L151.67,368.34 L151.61,368.63 L151.56,368.92 L151.53,369.21 L151.52,369.50 L151.53,369.79 L151.56,370.08 L151.61,370.37 L151.67,370.66 L151.76,370.94 L151.86,371.21 L151.98,371.48 L152.12,371.74 L152.28,371.99 L152.45,372.23 L152.63,372.45 L152.83,372.67 L153.05,372.87 L153.27,373.05 L153.51,373.22 L153.76,373.38 L154.02,373.52 L154.29,373.64 L154.56,373.74 L154.84,373.83 L155.13,373.89 L155.42,373.94 L155.71,373.97 L156.00,373.98 L156.29,373.97 L156.58,373.94 L156.87,373.89 L157.16,373.83 L157.44,373.74 L157.71,373.64 L157.98,373.52 L158.24,373.38 L158.49,373.22 L158.73,373.05 L158.95,372.87 L159.17,372.67 L159.37,372.45 L159.55,372.23 L159.72,371.99 L159.88,371.74 L160.02,371.48 L160.14,371.21 L160.24,370.94 L160.33,370.66 L160.39,370.37 L160.44,370.08 L160.47,369.79 L160.48,369.50 L160.47,369.21Z" fill="url(#gcell2)" stroke="#c8e4e4" stroke-width="0.7" stroke-linejoin="round"/><path d="M217.72,317.42 L217.55,317.10 L217.36,316.79 L217.14,316.49 L216.91,316.21 L216.66,315.94 L216.39,315.69 L216.11,315.46 L215.81,315.24 L215.50,315.05 L215.18,314.88 L214.84,314.73 L214.50,314.60 L214.15,314.49 L213.79,314.41 L213.43,314.35 L213.07,314.31 L212.70,314.30 L212.33,314.31 L211.97,314.35 L211.61,314.41 L211.25,314.49 L210.90,314.60 L210.56,314.73 L210.22,314.88 L209.90,315.05 L209.59,315.24 L209.29,315.46 L209.01,315.69 L208.74,315.94 L208.49,316.21 L208.26,316.49 L208.04,316.79 L207.85,317.10 L207.68,317.42 L207.53,317.76 L207.40,318.10 L207.29,318.45 L207.21,318.81 L207.15,319.17 L207.11,319.53 L207.10,319.90 L207.11,320.27 L207.15,320.63 L207.21,320.99 L207.29,321.35 L207.40,321.70 L207.53,322.04 L207.68,322.38 L207.85,322.70 L208.04,323.01 L208.26,323.31 L208.49,323.59 L208.74,323.86 L209.01,324.11 L209.29,324.34 L209.59,324.56 L209.90,324.75 L210.22,324.92 L210.56,325.07 L210.59,325.09 L216.70,323.81 L216.91,323.59 L217.14,323.31 L217.36,323.01 L217.55,322.70 L217.72,322.38 L217.87,322.04 L218.00,321.70 L218.11,321.35 L218.18,321.04 L217.98,318.03 L217.87,317.76 L217.72,317.42Z" fill="url(#gcell2)" stroke="#c8e4e4" stroke-width="0.7" stroke-linejoin="round"/><path d="M228.00,318.54 L227.94,318.22 L227.87,317.90 L227.77,317.58 L227.66,317.27 L227.52,316.97 L227.36,316.68 L227.19,316.40 L227.00,316.13 L226.79,315.88 L226.56,315.64 L226.32,315.41 L226.07,315.20 L225.80,315.01 L225.52,314.84 L225.23,314.68 L224.93,314.54 L224.62,314.43 L224.30,314.33 L223.98,314.26 L223.66,314.20 L223.33,314.17 L223.00,314.16 L222.67,314.17 L222.34,314.20 L222.02,314.26 L221.70,314.33 L221.38,314.43 L221.07,314.54 L220.77,314.68 L220.48,314.84 L220.20,315.01 L219.93,315.20 L219.68,315.41 L219.44,315.64 L219.21,315.88 L219.00,316.13 L218.81,316.40 L218.64,316.68 L218.48,316.97 L218.34,317.27 L218.23,317.58 L218.13,317.90 L218.06,318.22 L218.01,318.50 L218.15,320.56 L218.23,320.82 L218.34,321.13 L218.48,321.43 L218.64,321.72 L218.81,322.00 L219.00,322.27 L219.21,322.52 L219.44,322.76 L219.68,322.99 L219.93,323.20 L220.20,323.39 L220.48,323.56 L220.77,323.72 L221.07,323.86 L221.38,323.97 L221.70,324.07 L222.02,324.14 L222.34,324.20 L222.63,324.23 L225.96,323.28 L226.07,323.20 L226.32,322.99 L226.56,322.76 L226.79,322.52 L227.00,322.27 L227.19,322.00 L227.36,321.72 L227.52,321.43 L227.66,321.13 L227.77,320.82 L227.87,320.50 L227.94,320.18 L228.00,319.86 L228.03,319.53 L228.04,319.20 L228.03,318.87 L228.00,318.54Z" fill="url(#gcell2)" stroke="#c8e4e4" stroke-width="0.7" stroke-linejoin="round"/><path d="M197.92,328.92 L197.78,328.66 L197.62,328.41 L197.45,328.17 L197.27,327.95 L197.07,327.73 L196.85,327.53 L196.63,327.35 L196.39,327.18 L196.14,327.02 L195.88,326.88 L195.61,326.76 L195.34,326.66 L195.06,326.57 L194.77,326.51 L194.48,326.46 L194.19,326.43 L193.90,326.42 L193.61,326.43 L193.32,326.46 L193.03,326.51 L192.74,326.57 L192.46,326.66 L192.19,326.76 L191.92,326.88 L191.66,327.02 L191.41,327.18 L191.17,327.35 L190.95,327.53 L190.73,327.73 L190.53,327.95 L190.35,328.17 L190.18,328.41 L190.02,328.66 L189.88,328.92 L189.76,329.19 L189.66,329.46 L189.57,329.74 L189.51,330.03 L189.46,330.32 L189.43,330.61 L189.42,330.90 L189.43,331.19 L189.46,331.48 L189.51,331.77 L189.57,332.06 L189.66,332.34 L189.76,332.61 L189.88,332.88 L190.02,333.14 L190.18,333.39 L190.35,333.63 L190.53,333.85 L190.73,334.07 L190.95,334.27 L191.17,334.45 L191.41,334.62 L191.66,334.78 L191.92,334.92 L192.19,335.04 L192.46,335.14 L192.74,335.23 L193.03,335.29 L193.32,335.34 L193.61,335.37 L193.90,335.38 L194.19,335.37 L194.48,335.34 L194.77,335.29 L195.06,335.23 L195.34,335.14 L195.61,335.04 L195.88,334.92 L196.14,334.78 L196.39,334.62 L196.63,334.45 L196.85,334.27 L197.07,334.07 L197.27,333.85 L197.45,333.63 L197.62,333.39 L197.78,333.14 L197.92,332.88 L197.96,332.80 L197.96,329.00 L197.92,328.92Z" fill="url(#gcell2)" stroke="#c8e4e4" stroke-width="0.7" stroke-linejoin="round"/><path d="M208.49,329.81 L208.41,329.45 L208.30,329.10 L208.17,328.76 L208.02,328.42 L207.85,328.10 L207.66,327.79 L207.44,327.49 L207.21,327.21 L206.96,326.94 L206.69,326.69 L206.41,326.46 L206.11,326.24 L205.80,326.05 L205.48,325.88 L205.14,325.73 L204.80,325.60 L204.45,325.49 L204.09,325.41 L203.73,325.35 L203.37,325.31 L203.00,325.30 L202.63,325.31 L202.27,325.35 L201.91,325.41 L201.55,325.49 L201.20,325.60 L200.86,325.73 L200.52,325.88 L200.20,326.05 L199.89,326.24 L199.59,326.46 L199.31,326.69 L199.04,326.94 L198.79,327.21 L198.56,327.49 L198.34,327.79 L198.15,328.10 L197.98,328.42 L197.96,328.47 L197.96,333.33 L197.98,333.38 L198.15,333.70 L198.34,334.01 L198.56,334.31 L198.79,334.59 L199.04,334.86 L199.31,335.11 L199.59,335.34 L199.89,335.56 L200.20,335.75 L200.52,335.92 L200.86,336.07 L201.20,336.20 L201.55,336.31 L201.91,336.39 L202.27,336.45 L202.63,336.49 L203.00,336.50 L203.37,336.49 L203.73,336.45 L204.09,336.39 L204.45,336.31 L204.80,336.20 L205.11,336.09 L208.35,332.55 L208.41,332.35 L208.49,331.99 L208.55,331.63 L208.59,331.27 L208.60,330.90 L208.59,330.53 L208.55,330.17 L208.49,329.81Z" fill="url(#gcell2)" stroke="#c8e4e4" stroke-width="0.7" stroke-linejoin="round"/><path d="M219.90,327.20 L219.77,326.86 L219.62,326.52 L219.45,326.20 L219.26,325.89 L219.04,325.59 L218.81,325.31 L218.56,325.04 L218.29,324.79 L218.01,324.56 L217.71,324.34 L217.40,324.15 L217.08,323.98 L216.74,323.83 L216.71,323.81 L210.60,325.09 L210.39,325.31 L210.16,325.59 L209.94,325.89 L209.75,326.20 L209.58,326.52 L209.43,326.86 L209.30,327.20 L209.19,327.55 L209.11,327.91 L209.05,328.27 L209.01,328.63 L209.00,329.00 L209.01,329.37 L209.05,329.73 L209.11,330.09 L209.19,330.45 L209.30,330.80 L209.43,331.14 L209.58,331.48 L209.75,331.80 L209.94,332.11 L210.04,332.25 L214.42,334.59 L214.60,334.60 L214.97,334.59 L215.33,334.55 L215.69,334.49 L216.05,334.41 L216.40,334.30 L216.74,334.17 L217.08,334.02 L217.40,333.85 L217.71,333.66 L218.01,333.44 L218.29,333.21 L218.56,332.96 L218.81,332.69 L219.04,332.41 L219.26,332.11 L219.45,331.80 L219.62,331.48 L219.77,331.14 L219.90,330.80 L220.01,330.45 L220.09,330.09 L220.15,329.73 L220.19,329.37 L220.20,329.00 L220.19,328.63 L220.15,328.27 L220.09,327.91 L220.01,327.55 L219.90,327.20Z" fill="url(#gcell2)" stroke="#c8e4e4" stroke-width="0.7" stroke-linejoin="round"/><path d="M230.54,327.32 L230.47,327.00 L230.37,326.68 L230.26,326.37 L230.12,326.07 L229.96,325.78 L229.79,325.50 L229.60,325.23 L229.39,324.98 L229.16,324.74 L228.92,324.51 L228.67,324.30 L228.40,324.11 L228.12,323.94 L227.83,323.78 L227.53,323.64 L227.22,323.53 L226.90,323.43 L226.58,323.36 L226.26,323.30 L225.97,323.27 L222.64,324.22 L222.53,324.30 L222.28,324.51 L222.04,324.74 L221.81,324.98 L221.60,325.23 L221.41,325.50 L221.24,325.78 L221.08,326.07 L220.94,326.37 L220.83,326.68 L220.73,327.00 L220.66,327.32 L220.60,327.64 L220.57,327.97 L220.56,328.30 L220.57,328.63 L220.60,328.96 L220.66,329.28 L220.73,329.60 L220.83,329.92 L220.94,330.23 L221.08,330.53 L221.24,330.82 L221.41,331.10 L221.60,331.37 L221.81,331.62 L222.04,331.86 L222.28,332.09 L222.53,332.30 L222.80,332.49 L223.08,332.66 L223.37,332.82 L223.67,332.96 L223.98,333.07 L224.30,333.17 L224.62,333.24 L224.94,333.30 L225.27,333.33 L225.60,333.34 L225.93,333.33 L226.26,333.30 L226.58,333.24 L226.90,333.17 L227.22,333.07 L227.53,332.96 L227.83,332.82 L228.12,332.66 L228.40,332.49 L228.67,332.30 L228.92,332.09 L229.16,331.86 L229.39,331.62 L229.60,331.37 L229.79,331.10 L229.96,330.82 L230.12,330.53 L230.26,330.23 L230.37,329.92 L230.47,329.60 L230.54,329.28 L230.60,328.96 L230.63,328.63 L230.64,328.30 L230.63,327.97 L230.60,327.64 L230.54,327.32Z" fill="url(#gcell2)" stroke="#c8e4e4" stroke-width="0.7" stroke-linejoin="round"/><path d="M214.87,335.78 L214.76,335.47 L214.62,335.17 L214.46,334.88 L214.29,334.60 L214.20,334.47 L210.26,332.37 L210.10,332.36 L209.77,332.37 L209.44,332.40 L209.12,332.46 L208.80,332.53 L208.48,332.63 L208.17,332.74 L205.30,335.89 L205.23,336.10 L205.16,336.42 L205.10,336.74 L205.07,337.07 L205.06,337.40 L205.07,337.73 L205.10,338.06 L205.16,338.38 L205.23,338.70 L205.33,339.02 L205.40,339.20 L206.63,341.05 L206.78,341.19 L207.03,341.40 L207.30,341.59 L207.58,341.76 L207.87,341.92 L208.17,342.06 L208.48,342.17 L208.80,342.27 L209.12,342.34 L209.44,342.40 L209.77,342.43 L210.10,342.44 L210.43,342.43 L210.76,342.40 L211.08,342.34 L211.40,342.27 L211.72,342.17 L212.03,342.06 L212.33,341.92 L212.62,341.76 L212.90,341.59 L213.17,341.40 L213.42,341.19 L213.66,340.96 L213.89,340.72 L214.10,340.47 L214.22,340.29 L215.13,337.17 L215.13,337.07 L215.10,336.74 L215.04,336.42 L214.97,336.10 L214.87,335.78Z" fill="url(#gcell2)" stroke="#c8e4e4" stroke-width="0.7" stroke-linejoin="round"/><path d="M227.15,336.56 L226.88,336.17 L226.57,335.80 L226.25,335.45 L225.90,335.13 L225.53,334.82 L225.14,334.55 L224.74,334.30 L224.32,334.07 L223.89,333.87 L223.44,333.71 L222.98,333.57 L222.52,333.46 L222.05,333.38 L221.58,333.34 L221.10,333.32 L220.62,333.34 L220.15,333.38 L219.68,333.46 L219.22,333.57 L218.76,333.71 L218.31,333.87 L217.88,334.07 L217.46,334.30 L217.06,334.55 L216.67,334.82 L216.30,335.13 L215.95,335.45 L215.63,335.80 L215.48,335.98 L213.88,341.49 L213.88,341.55 L213.96,342.02 L214.07,342.48 L214.21,342.94 L214.37,343.39 L214.57,343.82 L214.80,344.24 L215.05,344.64 L215.32,345.03 L215.63,345.40 L215.95,345.75 L216.30,346.07 L216.67,346.38 L217.06,346.65 L217.46,346.90 L217.88,347.13 L218.31,347.33 L218.76,347.49 L219.22,347.63 L219.68,347.74 L219.79,347.76 L223.81,347.36 L223.89,347.33 L224.32,347.13 L224.74,346.90 L225.14,346.65 L225.53,346.38 L225.90,346.07 L226.25,345.75 L226.57,345.40 L226.88,345.03 L227.15,344.64 L227.40,344.24 L227.62,343.83 L227.16,336.56 L227.15,336.56Z" fill="url(#gcell2)" stroke="#c8e4e4" stroke-width="0.7" stroke-linejoin="round"/><path d="M206.74,342.02 L206.69,341.73 L206.63,341.44 L206.54,341.16 L206.44,340.89 L206.32,340.62 L206.23,340.45 L205.79,339.80 L205.67,339.65 L205.47,339.43 L205.25,339.23 L205.03,339.05 L204.79,338.88 L204.54,338.72 L204.28,338.58 L204.01,338.46 L203.74,338.36 L203.46,338.27 L203.17,338.21 L202.88,338.16 L202.59,338.13 L202.30,338.12 L202.01,338.13 L201.72,338.16 L201.43,338.21 L201.14,338.27 L200.86,338.36 L200.59,338.46 L200.32,338.58 L200.06,338.72 L199.81,338.88 L199.57,339.05 L199.35,339.23 L199.13,339.43 L198.93,339.65 L198.75,339.87 L198.58,340.11 L198.42,340.36 L198.28,340.62 L198.16,340.89 L198.06,341.16 L197.97,341.44 L197.91,341.73 L197.86,342.02 L197.83,342.31 L197.82,342.60 L197.83,342.89 L197.86,343.18 L197.91,343.47 L197.97,343.76 L198.06,344.04 L198.16,344.31 L198.28,344.58 L198.42,344.84 L198.58,345.09 L198.75,345.33 L198.93,345.55 L199.13,345.77 L199.35,345.97 L199.57,346.15 L199.81,346.32 L200.06,346.48 L200.32,346.62 L200.59,346.74 L200.86,346.84 L201.14,346.93 L201.43,346.99 L201.72,347.04 L202.01,347.07 L202.30,347.08 L202.59,347.07 L202.88,347.04 L203.17,346.99 L203.46,346.93 L203.74,346.84 L203.96,346.76 L206.74,343.22 L206.74,343.18 L206.77,342.89 L206.78,342.60 L206.77,342.31 L206.74,342.02Z" fill="url(#gcell2)" stroke="#c8e4e4" stroke-width="0.7" stroke-linejoin="round"/><path d="M213.74,346.72 L213.67,346.40 L213.57,346.08 L213.46,345.77 L213.32,345.47 L213.16,345.18 L212.99,344.90 L212.80,344.63 L212.59,344.38 L212.36,344.14 L212.12,343.91 L211.87,343.70 L211.60,343.51 L211.32,343.34 L211.03,343.18 L210.73,343.04 L210.42,342.93 L210.10,342.83 L209.78,342.76 L209.46,342.70 L209.13,342.67 L208.80,342.66 L208.47,342.67 L208.14,342.70 L207.82,342.76 L207.50,342.83 L207.18,342.93 L206.88,343.04 L203.82,346.94 L203.80,347.04 L203.77,347.37 L203.76,347.70 L203.77,348.03 L203.80,348.36 L203.86,348.68 L203.93,349.00 L204.03,349.32 L204.14,349.63 L204.28,349.93 L204.44,350.22 L204.59,350.47 L209.11,352.73 L209.13,352.73 L209.46,352.70 L209.78,352.64 L210.10,352.57 L210.42,352.47 L210.73,352.36 L211.03,352.22 L211.32,352.06 L211.60,351.89 L211.87,351.70 L212.12,351.49 L212.36,351.26 L212.59,351.02 L212.80,350.77 L212.99,350.50 L213.16,350.22 L213.32,349.93 L213.46,349.63 L213.57,349.32 L213.67,349.00 L213.74,348.68 L213.80,348.36 L213.83,348.03 L213.84,347.70 L213.83,347.37 L213.80,347.04 L213.74,346.72Z" fill="url(#gcell2)" stroke="#c8e4e4" stroke-width="0.7" stroke-linejoin="round"/><path d="M226.46,348.97 L226.15,348.71 L225.82,348.48 L225.48,348.27 L225.12,348.08 L224.76,347.91 L224.38,347.77 L223.99,347.65 L223.60,347.56 L223.20,347.49 L222.82,347.45 L220.78,347.66 L220.42,347.77 L220.04,347.91 L219.68,348.08 L219.32,348.27 L218.98,348.48 L218.65,348.71 L218.34,348.97 L218.04,349.24 L217.77,349.54 L217.51,349.85 L217.28,350.18 L217.07,350.52 L216.88,350.88 L216.71,351.24 L216.57,351.62 L216.45,352.01 L216.36,352.40 L216.29,352.80 L216.25,353.20 L216.24,353.60 L216.25,354.00 L216.29,354.40 L216.36,354.80 L216.45,355.19 L216.57,355.58 L216.68,355.89 L221.62,359.71 L222.00,359.75 L222.40,359.76 L222.80,359.75 L223.20,359.71 L223.60,359.64 L223.99,359.55 L224.38,359.43 L224.76,359.29 L225.12,359.12 L225.48,358.93 L225.82,358.72 L226.15,358.49 L226.46,358.23 L226.76,357.96 L227.03,357.66 L227.29,357.35 L227.52,357.02 L227.73,356.68 L227.92,356.32 L228.00,356.17 L226.60,349.10 L226.46,348.97Z" fill="url(#gcell2)" stroke="#c8e4e4" stroke-width="0.7" stroke-linejoin="round"/><path d="M209.90,354.84 L209.84,354.52 L209.77,354.20 L209.67,353.88 L209.56,353.57 L209.42,353.27 L209.26,352.98 L209.11,352.73 L204.59,350.47 L204.57,350.47 L204.24,350.50 L203.92,350.56 L203.60,350.63 L203.28,350.73 L202.97,350.84 L202.67,350.98 L202.38,351.14 L202.10,351.31 L201.83,351.50 L201.58,351.71 L201.34,351.94 L201.11,352.18 L200.90,352.43 L200.71,352.70 L200.54,352.98 L200.38,353.27 L200.24,353.57 L200.13,353.88 L200.03,354.20 L199.96,354.52 L199.90,354.84 L199.87,355.17 L199.86,355.50 L199.87,355.83 L199.90,356.16 L199.96,356.48 L200.03,356.80 L200.13,357.12 L200.23,357.40 L206.96,360.10 L207.13,360.02 L207.42,359.86 L207.70,359.69 L207.97,359.50 L208.22,359.29 L208.46,359.06 L208.69,358.82 L208.90,358.57 L209.09,358.30 L209.26,358.02 L209.42,357.73 L209.56,357.43 L209.67,357.12 L209.77,356.80 L209.84,356.48 L209.90,356.16 L209.93,355.83 L209.94,355.50 L209.93,355.17 L209.90,354.84Z" fill="url(#gcell2)" stroke="#c8e4e4" stroke-width="0.7" stroke-linejoin="round"/><path d="M221.94,360.80 L221.85,360.41 L221.73,360.02 L221.62,359.71 L216.68,355.89 L216.30,355.85 L215.90,355.84 L215.50,355.85 L215.10,355.89 L214.70,355.96 L214.31,356.05 L213.92,356.17 L213.54,356.31 L213.18,356.48 L212.82,356.67 L212.48,356.88 L212.15,357.11 L211.84,357.37 L211.54,357.64 L211.27,357.94 L211.01,358.25 L210.78,358.58 L210.57,358.92 L210.38,359.28 L210.21,359.64 L210.07,360.02 L209.95,360.41 L209.86,360.80 L209.79,361.20 L209.75,361.60 L209.74,362.00 L209.75,362.40 L209.79,362.80 L209.86,363.20 L209.95,363.59 L210.07,363.98 L210.21,364.36 L210.38,364.72 L210.57,365.08 L210.78,365.42 L211.01,365.75 L211.27,366.06 L211.54,366.36 L211.84,366.63 L212.15,366.89 L212.48,367.12 L212.82,367.33 L213.18,367.52 L213.25,367.56 L220.10,366.50 L220.26,366.36 L220.53,366.06 L220.79,365.75 L221.02,365.42 L221.23,365.08 L221.42,364.72 L221.59,364.36 L221.73,363.98 L221.85,363.59 L221.94,363.20 L222.01,362.80 L222.05,362.40 L222.06,362.00 L222.05,361.60 L222.01,361.20 L221.94,360.80Z" fill="url(#gcell2)" stroke="#c8e4e4" stroke-width="0.7" stroke-linejoin="round"/><path d="M207.30,361.34 L207.24,361.02 L207.17,360.70 L207.07,360.38 L206.97,360.10 L200.24,357.40 L200.07,357.48 L199.78,357.64 L199.50,357.81 L199.23,358.00 L198.98,358.21 L198.74,358.44 L198.51,358.68 L198.30,358.93 L198.11,359.20 L197.94,359.48 L197.78,359.77 L197.64,360.07 L197.53,360.38 L197.43,360.70 L197.36,361.02 L197.30,361.34 L197.27,361.67 L197.26,362.00 L197.27,362.33 L197.30,362.66 L197.36,362.98 L197.43,363.30 L197.53,363.62 L197.64,363.93 L197.78,364.23 L197.94,364.52 L198.11,364.80 L198.30,365.07 L198.51,365.32 L198.74,365.56 L198.98,365.79 L199.23,366.00 L199.50,366.19 L199.78,366.36 L200.07,366.52 L200.37,366.66 L200.68,366.77 L200.73,366.79 L205.90,365.53 L206.09,365.32 L206.30,365.07 L206.49,364.80 L206.66,364.52 L206.82,364.23 L206.96,363.93 L207.07,363.62 L207.17,363.30 L207.24,362.98 L207.30,362.66 L207.33,362.33 L207.34,362.00 L207.33,361.67 L207.30,361.34Z" fill="url(#gcell2)" stroke="#c8e4e4" stroke-width="0.7" stroke-linejoin="round"/><path d="M232.60,363.94 L232.54,363.62 L232.47,363.30 L232.37,362.98 L232.26,362.67 L232.12,362.37 L231.96,362.08 L231.79,361.80 L231.60,361.53 L231.39,361.28 L231.16,361.04 L230.92,360.81 L230.67,360.60 L230.40,360.41 L230.12,360.24 L229.83,360.08 L229.53,359.94 L229.22,359.83 L228.90,359.73 L228.58,359.66 L228.26,359.60 L227.93,359.57 L227.60,359.56 L227.27,359.57 L226.94,359.60 L226.62,359.66 L226.30,359.73 L225.98,359.83 L225.67,359.94 L225.37,360.08 L225.08,360.24 L224.80,360.41 L224.53,360.60 L224.28,360.81 L224.04,361.04 L223.81,361.28 L223.60,361.53 L223.41,361.80 L223.24,362.08 L223.08,362.37 L222.94,362.67 L222.83,362.98 L222.73,363.30 L222.66,363.62 L222.60,363.94 L222.57,364.27 L222.56,364.60 L222.57,364.93 L222.60,365.26 L222.66,365.58 L222.73,365.90 L222.83,366.22 L222.94,366.53 L223.08,366.83 L223.24,367.12 L223.41,367.40 L223.60,367.67 L223.81,367.92 L224.04,368.16 L224.28,368.39 L224.53,368.60 L224.80,368.79 L225.08,368.96 L225.37,369.12 L225.67,369.26 L225.98,369.37 L226.30,369.47 L226.62,369.54 L226.94,369.60 L227.27,369.63 L227.60,369.64 L227.93,369.63 L228.26,369.60 L228.58,369.54 L228.90,369.47 L229.22,369.37 L229.53,369.26 L229.83,369.12 L230.12,368.96 L230.40,368.79 L230.67,368.60 L230.92,368.39 L231.16,368.16 L231.39,367.92 L231.60,367.67 L231.79,367.40 L231.96,367.12 L232.12,366.83 L232.26,366.53 L232.37,366.22 L232.47,365.90 L232.54,365.58 L232.60,365.26 L232.63,364.93 L232.64,364.60 L232.63,364.27 L232.60,363.94Z" fill="url(#gcell2)" stroke="#c8e4e4" stroke-width="0.7" stroke-linejoin="round"/><path d="M208.67,369.51 L208.64,369.22 L208.59,368.93 L208.53,368.64 L208.44,368.36 L208.34,368.09 L208.22,367.82 L208.08,367.56 L207.92,367.31 L207.75,367.07 L207.57,366.85 L207.37,366.63 L207.15,366.43 L206.93,366.25 L206.69,366.08 L206.44,365.92 L206.18,365.78 L205.91,365.66 L205.69,365.58 L200.93,366.74 L200.83,366.85 L200.65,367.07 L200.48,367.31 L200.32,367.56 L200.18,367.82 L200.06,368.09 L199.96,368.36 L199.87,368.64 L199.81,368.93 L199.76,369.22 L199.73,369.51 L199.72,369.80 L199.73,370.09 L199.76,370.38 L199.81,370.67 L199.87,370.96 L199.96,371.24 L200.06,371.51 L200.18,371.78 L200.32,372.04 L200.48,372.29 L200.65,372.53 L200.83,372.75 L201.03,372.97 L201.25,373.17 L201.47,373.35 L201.71,373.52 L201.96,373.68 L202.22,373.82 L202.49,373.94 L202.76,374.04 L203.04,374.13 L203.33,374.19 L203.62,374.24 L203.91,374.27 L204.20,374.28 L204.49,374.27 L204.78,374.24 L205.07,374.19 L205.36,374.13 L205.64,374.04 L205.91,373.94 L206.18,373.82 L206.44,373.68 L206.69,373.52 L206.93,373.35 L207.15,373.17 L207.37,372.97 L207.57,372.75 L207.75,372.53 L207.92,372.29 L208.08,372.04 L208.22,371.78 L208.34,371.51 L208.44,371.24 L208.53,370.96 L208.59,370.67 L208.64,370.38 L208.67,370.09 L208.68,369.80 L208.67,369.51Z" fill="url(#gcell2)" stroke="#c8e4e4" stroke-width="0.7" stroke-linejoin="round"/><path d="M221.67,370.11 L221.64,369.82 L221.59,369.53 L221.53,369.24 L221.44,368.96 L221.34,368.69 L221.22,368.42 L221.08,368.16 L220.92,367.91 L220.75,367.67 L220.57,367.45 L220.37,367.23 L220.15,367.03 L219.93,366.85 L219.69,366.68 L219.54,366.58 L213.81,367.47 L213.65,367.67 L213.48,367.91 L213.32,368.16 L213.18,368.42 L213.06,368.69 L212.96,368.96 L212.87,369.24 L212.81,369.53 L212.76,369.82 L212.73,370.11 L212.72,370.40 L212.73,370.69 L212.76,370.98 L212.81,371.27 L212.87,371.56 L212.96,371.84 L213.06,372.11 L213.18,372.38 L213.32,372.64 L213.48,372.89 L213.65,373.13 L213.83,373.35 L214.03,373.57 L214.25,373.77 L214.47,373.95 L214.71,374.12 L214.96,374.28 L215.22,374.42 L215.49,374.54 L215.76,374.64 L216.04,374.73 L216.33,374.79 L216.62,374.84 L216.91,374.87 L217.20,374.88 L217.49,374.87 L217.78,374.84 L218.07,374.79 L218.36,374.73 L218.64,374.64 L218.91,374.54 L219.18,374.42 L219.44,374.28 L219.69,374.12 L219.93,373.95 L220.15,373.77 L220.37,373.57 L220.57,373.35 L220.75,373.13 L220.92,372.89 L221.08,372.64 L221.22,372.38 L221.34,372.11 L221.44,371.84 L221.53,371.56 L221.59,371.27 L221.64,370.98 L221.67,370.69 L221.68,370.40 L221.67,370.11Z" fill="url(#gcell2)" stroke="#c8e4e4" stroke-width="0.7" stroke-linejoin="round"/><path d="M234.97,351.71 L234.94,351.42 L234.89,351.13 L234.83,350.84 L234.74,350.56 L234.64,350.29 L234.52,350.02 L234.38,349.76 L234.22,349.51 L234.05,349.27 L233.87,349.05 L233.67,348.83 L233.45,348.63 L233.23,348.45 L232.99,348.28 L232.74,348.12 L232.48,347.98 L232.21,347.86 L231.94,347.76 L231.66,347.67 L231.37,347.61 L231.08,347.56 L230.79,347.53 L230.50,347.52 L230.21,347.53 L229.92,347.56 L229.63,347.61 L229.34,347.67 L229.06,347.76 L228.79,347.86 L228.52,347.98 L228.26,348.12 L228.01,348.28 L227.77,348.45 L227.55,348.63 L227.33,348.83 L227.13,349.05 L226.95,349.27 L226.78,349.51 L226.70,349.63 L227.89,355.64 L228.01,355.72 L228.26,355.88 L228.52,356.02 L228.79,356.14 L229.06,356.24 L229.34,356.33 L229.63,356.39 L229.92,356.44 L230.21,356.47 L230.50,356.48 L230.79,356.47 L231.08,356.44 L231.37,356.39 L231.66,356.33 L231.94,356.24 L232.21,356.14 L232.48,356.02 L232.74,355.88 L232.99,355.72 L233.23,355.55 L233.45,355.37 L233.67,355.17 L233.87,354.95 L234.05,354.73 L234.22,354.49 L234.38,354.24 L234.52,353.98 L234.64,353.71 L234.74,353.44 L234.83,353.16 L234.89,352.87 L234.94,352.58 L234.97,352.29 L234.98,352.00 L234.97,351.71Z" fill="url(#gcell2)" stroke="#c8e4e4" stroke-width="0.7" stroke-linejoin="round"/><path d="M234.41,339.74 L234.39,339.49 L234.34,339.24 L234.29,338.99 L234.21,338.74 L234.12,338.50 L234.02,338.27 L233.89,338.04 L233.76,337.82 L233.61,337.61 L233.45,337.42 L233.27,337.23 L233.08,337.05 L232.89,336.89 L232.68,336.74 L232.46,336.61 L232.23,336.48 L232.00,336.38 L231.76,336.29 L231.51,336.21 L231.26,336.16 L231.01,336.11 L230.76,336.09 L230.50,336.08 L230.24,336.09 L229.99,336.11 L229.74,336.16 L229.49,336.21 L229.24,336.29 L229.00,336.38 L228.77,336.48 L228.54,336.61 L228.32,336.74 L228.11,336.89 L227.92,337.05 L227.73,337.23 L227.55,337.42 L227.39,337.61 L227.24,337.82 L227.24,337.83 L227.54,342.57 L227.55,342.58 L227.73,342.77 L227.92,342.95 L228.11,343.11 L228.32,343.26 L228.54,343.39 L228.77,343.52 L229.00,343.62 L229.24,343.71 L229.49,343.79 L229.74,343.84 L229.99,343.89 L230.24,343.91 L230.50,343.92 L230.76,343.91 L231.01,343.89 L231.26,343.84 L231.51,343.79 L231.76,343.71 L232.00,343.62 L232.23,343.52 L232.46,343.39 L232.68,343.26 L232.89,343.11 L233.08,342.95 L233.27,342.77 L233.45,342.58 L233.61,342.39 L233.76,342.18 L233.89,341.96 L234.02,341.73 L234.12,341.50 L234.21,341.26 L234.29,341.01 L234.34,340.76 L234.39,340.51 L234.41,340.26 L234.42,340.00 L234.41,339.74Z" fill="url(#gcell2)" stroke="#c8e4e4" stroke-width="0.7" stroke-linejoin="round"/></g>
<g fill="#140c90" fill-opacity="0.45" filter="url(#bl4)"><ellipse cx="155.8" cy="325.9" rx="3.0" ry="2.8"/><ellipse cx="163.9" cy="324.8" rx="2.8" ry="3.4"/><ellipse cx="175.9" cy="321.9" rx="3.3" ry="2.3"/><ellipse cx="154.2" cy="337.1" rx="2.5" ry="2.3"/><ellipse cx="169.2" cy="337.2" rx="2.9" ry="3.5"/><ellipse cx="181.2" cy="332.4" rx="2.4" ry="2.8"/><ellipse cx="179.1" cy="342.2" rx="2.6" ry="2.1"/><ellipse cx="159.2" cy="347.3" rx="2.8" ry="2.8"/><ellipse cx="169.2" cy="346.5" rx="2.6" ry="2.4"/><ellipse cx="177.6" cy="350.0" rx="2.8" ry="2.9"/><ellipse cx="152.7" cy="353.7" rx="2.4" ry="2.4"/><ellipse cx="167.9" cy="354.9" rx="2.5" ry="2.8"/><ellipse cx="161.0" cy="360.7" rx="2.3" ry="2.0"/><ellipse cx="170.8" cy="364.7" rx="2.5" ry="2.7"/><ellipse cx="181.7" cy="361.6" rx="2.5" ry="2.9"/><ellipse cx="182.8" cy="368.5" rx="2.5" ry="2.5"/><ellipse cx="156.9" cy="368.8" rx="2.0" ry="1.9"/><ellipse cx="212.1" cy="320.5" rx="2.6" ry="2.5"/><ellipse cx="223.7" cy="319.0" rx="2.9" ry="2.2"/><ellipse cx="193.6" cy="331.0" rx="2.4" ry="2.5"/><ellipse cx="203.6" cy="330.2" rx="2.6" ry="3.0"/><ellipse cx="215.5" cy="328.7" rx="3.0" ry="2.5"/><ellipse cx="226.5" cy="328.0" rx="2.9" ry="2.5"/><ellipse cx="210.9" cy="336.8" rx="3.0" ry="2.4"/><ellipse cx="220.3" cy="340.4" rx="3.5" ry="4.1"/><ellipse cx="203.0" cy="342.2" rx="2.3" ry="1.8"/><ellipse cx="208.4" cy="348.2" rx="2.3" ry="2.4"/><ellipse cx="221.4" cy="353.2" rx="3.4" ry="3.1"/><ellipse cx="204.2" cy="355.5" rx="2.2" ry="2.9"/><ellipse cx="215.0" cy="361.5" rx="2.7" ry="3.5"/><ellipse cx="202.7" cy="362.6" rx="2.9" ry="2.1"/><ellipse cx="227.5" cy="363.8" rx="2.7" ry="2.4"/><ellipse cx="204.9" cy="370.1" rx="2.6" ry="2.4"/><ellipse cx="216.5" cy="369.8" rx="2.0" ry="2.0"/><ellipse cx="230.7" cy="352.2" rx="2.3" ry="2.0"/><ellipse cx="230.9" cy="340.6" rx="2.1" ry="2.3"/></g>
<g fill="#d0d8f0" fill-opacity="0.6" filter="url(#bl3)"><circle cx="193.9" cy="330.9" r="0.88"/><circle cx="158.8" cy="347.1" r="0.72"/><circle cx="204.9" cy="355.5" r="0.64"/></g>
<circle cx="221.1" cy="340.6" r="6.2" fill="none" stroke="#7a9ae8" stroke-width="1.6" filter="url(#bl3)"/>
</g>
<g clip-path="url(#ci_s1)">
<rect x="73.2" y="376.5" width="75.1" height="55.1" fill="#c5d7cf"/>
<g fill="#7888e0" filter="url(#bl3)"><circle cx="109.5" cy="389.2" r="6.96"/><circle cx="120.5" cy="384.0" r="5.20"/><circle cx="100.8" cy="392.8" r="5.20"/><circle cx="93.5" cy="398.0" r="6.74"/><circle cx="108.0" cy="399.4" r="5.86"/><circle cx="89.0" cy="406.0" r="6.30"/><circle cx="101.5" cy="406.0" r="6.30"/><circle cx="112.5" cy="407.4" r="5.86"/><circle cx="121.2" cy="406.0" r="4.76"/><circle cx="85.4" cy="414.0" r="6.30"/><circle cx="95.0" cy="414.7" r="5.75"/><circle cx="105.2" cy="416.2" r="6.30"/><circle cx="117.6" cy="415.5" r="6.74"/><circle cx="96.4" cy="422.0" r="4.76"/><circle cx="112.5" cy="424.2" r="5.75"/><circle cx="103.0" cy="427.2" r="6.30"/></g>
<g filter="url(#bl3)"><path d="M115.61,388.40 L115.54,388.00 L115.45,387.61 L115.33,387.22 L115.19,386.84 L115.02,386.48 L114.83,386.12 L114.62,385.78 L114.39,385.45 L114.13,385.14 L113.86,384.84 L113.56,384.57 L113.25,384.31 L112.92,384.08 L112.58,383.87 L112.22,383.68 L111.86,383.51 L111.48,383.37 L111.09,383.25 L110.70,383.16 L110.30,383.09 L109.90,383.05 L109.50,383.04 L109.10,383.05 L108.70,383.09 L108.30,383.16 L107.91,383.25 L107.52,383.37 L107.14,383.51 L106.78,383.68 L106.42,383.87 L106.08,384.08 L105.75,384.31 L105.44,384.57 L105.14,384.84 L104.87,385.14 L104.61,385.45 L104.38,385.78 L104.17,386.12 L103.98,386.48 L103.81,386.84 L103.67,387.22 L103.55,387.61 L103.46,388.00 L103.39,388.40 L103.35,388.79 L105.44,393.83 L105.75,394.09 L106.08,394.32 L106.26,394.43 L111.11,395.15 L111.48,395.03 L111.86,394.89 L112.22,394.72 L112.58,394.53 L112.92,394.32 L113.25,394.09 L113.56,393.83 L113.86,393.56 L114.13,393.26 L114.39,392.95 L114.62,392.62 L114.83,392.28 L115.02,391.92 L115.19,391.56 L115.33,391.18 L115.45,390.79 L115.54,390.40 L115.61,390.00 L115.65,389.60 L115.66,389.20 L115.65,388.80 L115.61,388.40Z" fill="url(#gcell)" stroke="#d0ecec" stroke-width="0.7" stroke-linejoin="round"/><path d="M124.90,384.00 L124.89,383.71 L124.86,383.43 L124.82,383.14 L124.75,382.86 L124.67,382.59 L124.57,382.32 L124.45,382.05 L124.31,381.80 L124.16,381.56 L123.99,381.32 L123.81,381.10 L123.61,380.89 L123.40,380.69 L123.18,380.51 L122.94,380.34 L122.70,380.19 L122.45,380.05 L122.18,379.93 L121.91,379.83 L121.64,379.75 L121.36,379.68 L121.07,379.64 L120.79,379.61 L120.50,379.60 L120.21,379.61 L119.93,379.64 L119.64,379.68 L119.36,379.75 L119.09,379.83 L118.82,379.93 L118.55,380.05 L118.30,380.19 L118.06,380.34 L117.82,380.51 L117.60,380.69 L117.39,380.89 L117.19,381.10 L117.01,381.32 L116.84,381.56 L116.69,381.80 L116.55,382.05 L116.43,382.32 L116.33,382.59 L116.25,382.86 L116.18,383.14 L116.14,383.43 L116.11,383.71 L116.10,384.00 L116.11,384.29 L116.14,384.57 L116.18,384.86 L116.25,385.14 L116.33,385.41 L116.43,385.68 L116.55,385.95 L116.69,386.20 L116.84,386.44 L117.01,386.68 L117.19,386.90 L117.39,387.11 L117.60,387.31 L117.82,387.49 L118.06,387.66 L118.30,387.81 L118.55,387.95 L118.82,388.07 L119.09,388.17 L119.36,388.25 L119.64,388.32 L119.93,388.36 L120.21,388.39 L120.50,388.40 L120.79,388.39 L121.07,388.36 L121.36,388.32 L121.64,388.25 L121.91,388.17 L122.18,388.07 L122.45,387.95 L122.70,387.81 L122.94,387.66 L123.18,387.49 L123.40,387.31 L123.61,387.11 L123.81,386.90 L123.99,386.68 L124.16,386.44 L124.31,386.20 L124.45,385.95 L124.57,385.68 L124.67,385.41 L124.75,385.14 L124.82,384.86 L124.86,384.57 L124.89,384.29 L124.90,384.00Z" fill="url(#gcell)" stroke="#d0ecec" stroke-width="0.7" stroke-linejoin="round"/><path d="M103.00,388.99 L102.75,388.85 L102.48,388.73 L102.21,388.63 L101.94,388.55 L101.66,388.48 L101.37,388.44 L101.09,388.41 L100.80,388.40 L100.51,388.41 L100.23,388.44 L99.94,388.48 L99.66,388.55 L99.39,388.63 L99.12,388.73 L98.85,388.85 L98.60,388.99 L98.36,389.14 L98.12,389.31 L97.90,389.49 L97.69,389.69 L97.49,389.90 L97.31,390.12 L97.14,390.36 L96.99,390.60 L96.85,390.85 L96.73,391.12 L96.63,391.39 L96.55,391.66 L96.48,391.94 L96.44,392.23 L96.41,392.51 L96.40,392.80 L96.41,393.09 L96.41,393.10 L99.08,396.85 L99.12,396.87 L99.39,396.97 L99.66,397.05 L99.94,397.12 L100.23,397.16 L100.51,397.19 L100.80,397.20 L101.09,397.19 L101.37,397.16 L101.66,397.12 L101.94,397.05 L102.21,396.97 L102.48,396.87 L102.75,396.75 L103.00,396.61 L103.24,396.46 L103.48,396.29 L103.70,396.11 L103.91,395.91 L104.11,395.70 L104.29,395.48 L104.46,395.24 L104.61,395.00 L104.75,394.75 L104.87,394.48 L104.97,394.21 L105.05,393.94 L105.12,393.66 L105.16,393.37 L105.18,393.20 L103.61,389.42 L103.48,389.31 L103.24,389.14 L103.00,388.99Z" fill="url(#gcell)" stroke="#d0ecec" stroke-width="0.7" stroke-linejoin="round"/><path d="M96.10,392.66 L95.77,392.51 L95.41,392.38 L95.04,392.26 L94.66,392.17 L94.28,392.11 L93.89,392.07 L93.50,392.06 L93.11,392.07 L92.72,392.11 L92.34,392.17 L91.96,392.26 L91.59,392.38 L91.23,392.51 L90.87,392.67 L90.53,392.86 L90.20,393.06 L89.88,393.29 L89.58,393.53 L89.30,393.80 L89.03,394.08 L88.79,394.38 L88.56,394.70 L88.36,395.03 L88.17,395.37 L88.01,395.73 L87.88,396.09 L87.76,396.46 L87.67,396.84 L87.61,397.22 L87.57,397.61 L87.56,398.00 L87.57,398.39 L87.61,398.78 L87.67,399.16 L87.76,399.54 L87.88,399.91 L88.01,400.27 L88.11,400.50 L94.17,403.90 L94.28,403.89 L94.66,403.83 L95.04,403.74 L95.41,403.62 L95.77,403.49 L96.13,403.33 L96.47,403.14 L96.80,402.94 L96.87,402.89 L98.39,401.37 L98.44,401.30 L98.64,400.97 L98.83,400.63 L98.99,400.27 L99.12,399.91 L99.24,399.54 L99.33,399.16 L99.39,398.78 L99.43,398.39 L99.44,398.00 L99.43,397.61 L99.40,397.29 L96.10,392.66Z" fill="url(#gcell)" stroke="#d0ecec" stroke-width="0.7" stroke-linejoin="round"/><path d="M112.89,398.09 L112.79,397.77 L112.67,397.46 L112.54,397.16 L112.38,396.87 L112.21,396.59 L112.01,396.32 L111.80,396.06 L111.58,395.82 L111.34,395.60 L111.08,395.39 L110.81,395.19 L110.62,395.08 L106.73,394.50 L106.69,394.51 L106.37,394.61 L106.06,394.73 L105.76,394.86 L105.47,395.02 L105.19,395.19 L104.92,395.39 L104.66,395.60 L104.42,395.82 L104.20,396.06 L103.99,396.32 L103.79,396.59 L103.62,396.87 L103.46,397.16 L103.33,397.46 L103.21,397.77 L103.11,398.09 L103.04,398.41 L102.98,398.74 L102.95,399.07 L102.94,399.40 L102.95,399.73 L102.98,400.06 L103.04,400.39 L103.11,400.71 L103.15,400.83 L106.64,404.27 L106.69,404.29 L107.01,404.36 L107.34,404.42 L107.67,404.45 L108.00,404.46 L108.33,404.45 L108.40,404.44 L112.10,402.36 L112.21,402.21 L112.38,401.93 L112.54,401.64 L112.67,401.34 L112.79,401.03 L112.89,400.71 L112.96,400.39 L113.02,400.06 L113.05,399.73 L113.06,399.40 L113.05,399.07 L113.02,398.74 L112.96,398.41 L112.89,398.09Z" fill="url(#gcell)" stroke="#d0ecec" stroke-width="0.7" stroke-linejoin="round"/><path d="M94.39,404.93 L94.31,404.58 L94.21,404.23 L94.08,403.90 L94.06,403.84 L88.22,400.56 L87.93,400.61 L87.58,400.69 L87.23,400.79 L86.90,400.92 L86.57,401.07 L86.25,401.24 L85.94,401.43 L85.65,401.64 L85.37,401.86 L85.11,402.11 L84.86,402.37 L84.64,402.65 L84.43,402.94 L84.24,403.25 L84.07,403.57 L83.92,403.90 L83.79,404.23 L83.69,404.58 L83.61,404.93 L83.55,405.28 L83.51,405.64 L83.50,406.00 L83.51,406.36 L83.55,406.72 L83.61,407.07 L83.69,407.42 L83.79,407.77 L83.92,408.10 L84.07,408.43 L84.18,408.64 L90.22,411.36 L90.42,411.31 L90.77,411.21 L91.10,411.08 L91.43,410.93 L91.75,410.76 L92.06,410.57 L92.35,410.36 L92.63,410.14 L92.89,409.89 L93.14,409.63 L93.36,409.35 L93.57,409.06 L93.76,408.75 L93.93,408.43 L94.08,408.10 L94.21,407.77 L94.31,407.42 L94.39,407.07 L94.45,406.72 L94.49,406.36 L94.50,406.00 L94.49,405.64 L94.45,405.28 L94.39,404.93Z" fill="url(#gcell)" stroke="#d0ecec" stroke-width="0.7" stroke-linejoin="round"/><path d="M106.75,404.38 L103.04,400.72 L102.92,400.69 L102.57,400.61 L102.22,400.55 L101.86,400.51 L101.50,400.50 L101.14,400.51 L100.78,400.55 L100.43,400.61 L100.08,400.69 L99.73,400.79 L99.40,400.92 L99.07,401.07 L98.75,401.24 L98.44,401.43 L98.15,401.64 L97.99,401.77 L97.27,402.49 L97.14,402.65 L96.93,402.94 L96.74,403.25 L96.57,403.57 L96.42,403.90 L96.29,404.23 L96.19,404.58 L96.11,404.93 L96.05,405.28 L96.01,405.64 L96.00,406.00 L96.01,406.36 L96.05,406.72 L96.11,407.07 L96.19,407.42 L96.29,407.77 L96.42,408.10 L96.57,408.43 L96.74,408.75 L96.93,409.06 L97.14,409.35 L97.36,409.63 L97.61,409.89 L97.87,410.14 L98.15,410.36 L98.44,410.57 L98.75,410.76 L99.07,410.93 L99.40,411.08 L99.73,411.21 L100.08,411.31 L100.43,411.39 L100.78,411.45 L101.14,411.49 L101.50,411.50 L101.86,411.49 L102.22,411.45 L102.51,411.40 L104.19,410.80 L104.25,410.76 L104.56,410.57 L104.85,410.36 L105.13,410.14 L105.39,409.89 L105.64,409.63 L105.86,409.35 L106.07,409.06 L106.26,408.75 L106.43,408.43 L106.58,408.10 L106.71,407.77 L106.81,407.42 L106.89,407.07 L106.95,406.72 L106.99,406.36 L107.00,406.00 L106.99,405.64 L106.95,405.28 L106.89,404.93 L106.81,404.58 L106.75,404.38Z" fill="url(#gcell)" stroke="#d0ecec" stroke-width="0.7" stroke-linejoin="round"/><path d="M116.71,404.59 L116.51,404.32 L116.30,404.06 L116.08,403.82 L115.84,403.60 L115.58,403.39 L115.31,403.19 L115.03,403.02 L114.74,402.86 L114.44,402.73 L114.13,402.61 L113.81,402.51 L113.49,402.44 L113.16,402.38 L112.83,402.35 L112.50,402.34 L112.17,402.35 L112.10,402.36 L108.40,404.44 L108.29,404.59 L108.12,404.87 L107.96,405.16 L107.83,405.46 L107.71,405.77 L107.61,406.09 L107.54,406.41 L107.48,406.74 L107.45,407.07 L107.44,407.40 L107.45,407.73 L107.48,408.06 L107.54,408.39 L107.61,408.71 L107.71,409.03 L107.83,409.34 L107.96,409.64 L108.12,409.93 L108.29,410.21 L108.49,410.48 L108.70,410.74 L108.92,410.98 L109.16,411.20 L109.42,411.41 L109.69,411.61 L109.97,411.78 L110.26,411.94 L110.56,412.07 L110.87,412.19 L111.19,412.29 L111.51,412.36 L111.84,412.42 L112.17,412.45 L112.50,412.46 L112.67,412.45 L116.98,409.74 L117.04,409.64 L117.17,409.34 L117.29,409.03 L117.39,408.71 L117.46,408.39 L117.52,408.06 L117.53,407.97 L117.09,405.28 L117.04,405.16 L116.88,404.87 L116.71,404.59Z" fill="url(#gcell)" stroke="#d0ecec" stroke-width="0.7" stroke-linejoin="round"/><path d="M125.13,405.48 L125.08,405.23 L125.03,404.98 L124.95,404.73 L124.86,404.48 L124.75,404.25 L124.63,404.02 L124.49,403.80 L124.34,403.59 L124.18,403.39 L124.00,403.20 L123.81,403.02 L123.61,402.86 L123.40,402.71 L123.18,402.57 L122.95,402.45 L122.72,402.34 L122.47,402.25 L122.22,402.17 L121.97,402.12 L121.72,402.07 L121.46,402.05 L121.20,402.04 L120.94,402.05 L120.68,402.07 L120.43,402.12 L120.18,402.17 L119.93,402.25 L119.68,402.34 L119.45,402.45 L119.22,402.57 L119.00,402.71 L118.79,402.86 L118.59,403.02 L118.40,403.20 L118.22,403.39 L118.06,403.59 L117.91,403.80 L117.77,404.02 L117.65,404.25 L117.54,404.48 L117.45,404.73 L117.37,404.98 L117.32,405.23 L117.27,405.48 L117.25,405.74 L117.24,406.00 L117.25,406.24 L117.37,407.01 L117.37,407.02 L117.45,407.27 L117.54,407.52 L117.65,407.75 L117.77,407.98 L117.91,408.20 L118.06,408.41 L118.22,408.61 L118.40,408.80 L118.59,408.98 L118.79,409.14 L119.00,409.29 L119.22,409.43 L119.45,409.55 L119.68,409.66 L119.93,409.75 L120.18,409.83 L120.43,409.88 L120.68,409.93 L120.94,409.95 L121.20,409.96 L121.46,409.95 L121.72,409.93 L121.97,409.88 L122.22,409.83 L122.47,409.75 L122.72,409.66 L122.95,409.55 L123.18,409.43 L123.40,409.29 L123.61,409.14 L123.81,408.98 L124.00,408.80 L124.18,408.61 L124.34,408.41 L124.49,408.20 L124.63,407.98 L124.75,407.75 L124.86,407.52 L124.95,407.27 L125.03,407.02 L125.08,406.77 L125.13,406.52 L125.15,406.26 L125.16,406.00 L125.15,405.74 L125.13,405.48Z" fill="url(#gcell)" stroke="#d0ecec" stroke-width="0.7" stroke-linejoin="round"/><path d="M90.48,411.90 L90.33,411.57 L90.22,411.36 L84.18,408.64 L83.98,408.69 L83.63,408.79 L83.30,408.92 L82.97,409.07 L82.65,409.24 L82.34,409.43 L82.05,409.64 L81.77,409.86 L81.51,410.11 L81.26,410.37 L81.04,410.65 L80.83,410.94 L80.64,411.25 L80.47,411.57 L80.32,411.90 L80.19,412.23 L80.09,412.58 L80.01,412.93 L79.95,413.28 L79.91,413.64 L79.90,414.00 L79.91,414.36 L79.95,414.72 L80.01,415.07 L80.09,415.42 L80.19,415.77 L80.32,416.10 L80.47,416.43 L80.64,416.75 L80.83,417.06 L81.04,417.35 L81.26,417.63 L81.51,417.89 L81.77,418.14 L82.05,418.36 L82.34,418.57 L82.65,418.76 L82.97,418.93 L83.30,419.08 L83.63,419.21 L83.98,419.31 L84.33,419.39 L84.68,419.45 L85.04,419.49 L85.40,419.50 L85.76,419.49 L86.12,419.45 L86.47,419.39 L86.82,419.31 L87.17,419.21 L87.50,419.08 L87.83,418.93 L88.15,418.76 L88.46,418.57 L88.75,418.36 L89.03,418.14 L89.29,417.89 L89.54,417.63 L89.76,417.35 L89.97,417.06 L90.16,416.75 L90.29,416.51 L90.60,412.22 L90.48,411.90Z" fill="url(#gcell)" stroke="#d0ecec" stroke-width="0.7" stroke-linejoin="round"/><path d="M99.69,413.11 L99.57,412.81 L99.44,412.51 L99.29,412.22 L99.12,411.95 L98.93,411.69 L98.72,411.44 L98.50,411.20 L98.26,410.98 L98.01,410.77 L97.75,410.58 L97.47,410.41 L97.19,410.26 L96.89,410.13 L96.59,410.01 L96.28,409.92 L95.97,409.85 L95.65,409.79 L95.32,409.76 L95.00,409.75 L94.68,409.76 L94.35,409.79 L94.03,409.85 L93.72,409.92 L93.41,410.01 L93.11,410.13 L92.81,410.26 L92.53,410.41 L92.25,410.58 L91.99,410.77 L91.74,410.98 L91.50,411.20 L91.28,411.44 L91.07,411.69 L90.88,411.95 L90.71,412.22 L90.58,412.47 L90.31,416.27 L90.31,416.29 L90.43,416.59 L90.56,416.89 L90.71,417.18 L90.88,417.45 L91.07,417.71 L91.28,417.96 L91.50,418.20 L91.74,418.42 L91.99,418.63 L92.25,418.82 L92.52,418.99 L92.81,419.14 L93.11,419.27 L93.24,419.32 L98.35,418.34 L98.50,418.20 L98.72,417.96 L98.93,417.71 L99.12,417.45 L99.29,417.18 L99.44,416.89 L99.57,416.59 L99.69,416.29 L99.78,415.98 L99.80,415.89 L99.94,414.94 L99.95,414.70 L99.94,414.38 L99.91,414.05 L99.85,413.73 L99.78,413.42 L99.69,413.11Z" fill="url(#gcell)" stroke="#d0ecec" stroke-width="0.7" stroke-linejoin="round"/><path d="M110.28,414.10 L110.13,413.77 L109.96,413.45 L109.77,413.14 L109.56,412.85 L109.34,412.57 L109.09,412.31 L108.83,412.06 L108.55,411.84 L108.26,411.63 L107.95,411.44 L107.63,411.27 L107.30,411.12 L106.97,410.99 L106.62,410.89 L106.27,410.81 L105.92,410.75 L105.56,410.71 L105.20,410.70 L104.84,410.71 L104.48,410.75 L104.19,410.80 L102.51,411.40 L102.45,411.44 L102.14,411.63 L101.85,411.84 L101.57,412.06 L101.31,412.31 L101.06,412.57 L100.84,412.85 L100.63,413.14 L100.44,413.45 L100.27,413.77 L100.12,414.10 L100.03,414.32 L99.71,416.52 L99.71,416.56 L99.75,416.92 L99.81,417.27 L99.89,417.62 L99.99,417.97 L100.12,418.30 L100.27,418.63 L100.44,418.95 L100.63,419.26 L100.84,419.55 L101.06,419.83 L101.31,420.09 L101.57,420.34 L101.85,420.56 L102.14,420.77 L102.45,420.96 L102.77,421.13 L103.10,421.28 L103.43,421.41 L103.78,421.51 L104.13,421.59 L104.48,421.65 L104.84,421.69 L105.20,421.70 L105.56,421.69 L105.92,421.65 L106.27,421.59 L106.62,421.51 L106.97,421.41 L107.30,421.28 L107.63,421.13 L107.95,420.96 L108.26,420.77 L108.55,420.56 L108.83,420.34 L109.09,420.09 L109.34,419.83 L109.56,419.55 L109.77,419.26 L109.96,418.95 L110.13,418.63 L110.28,418.30 L110.41,417.97 L110.51,417.62 L110.59,417.27 L110.65,416.92 L110.69,416.56 L110.70,416.20 L110.69,415.84 L110.65,415.48 L110.59,415.13 L110.51,414.78 L110.41,414.43 L110.28,414.10Z" fill="url(#gcell)" stroke="#d0ecec" stroke-width="0.7" stroke-linejoin="round"/><path d="M123.34,413.96 L123.22,413.59 L123.09,413.23 L122.93,412.87 L122.74,412.53 L122.54,412.20 L122.31,411.88 L122.07,411.58 L121.80,411.30 L121.52,411.03 L121.22,410.79 L120.90,410.56 L120.57,410.36 L120.47,410.30 L118.89,409.71 L118.76,409.67 L118.38,409.61 L117.99,409.57 L117.60,409.56 L117.25,409.57 L112.41,412.62 L112.27,412.87 L112.11,413.23 L111.98,413.59 L111.86,413.96 L111.77,414.34 L111.71,414.72 L111.67,415.11 L111.66,415.50 L111.67,415.89 L111.71,416.28 L111.77,416.66 L111.86,417.04 L111.98,417.41 L112.11,417.77 L112.27,418.13 L112.46,418.47 L112.66,418.80 L112.86,419.08 L116.79,421.38 L116.82,421.39 L117.21,421.43 L117.60,421.44 L117.99,421.43 L118.38,421.39 L118.76,421.33 L119.14,421.24 L119.51,421.12 L119.87,420.99 L120.23,420.83 L120.57,420.64 L120.90,420.44 L121.22,420.21 L121.52,419.97 L121.80,419.70 L122.07,419.42 L122.31,419.12 L122.54,418.80 L122.74,418.47 L122.93,418.13 L123.09,417.77 L123.22,417.41 L123.34,417.04 L123.43,416.66 L123.49,416.28 L123.53,415.89 L123.54,415.50 L123.53,415.11 L123.49,414.72 L123.43,414.34 L123.34,413.96Z" fill="url(#gcell)" stroke="#d0ecec" stroke-width="0.7" stroke-linejoin="round"/><path d="M100.33,421.48 L100.28,421.23 L100.23,420.98 L100.15,420.73 L100.06,420.48 L99.95,420.25 L99.83,420.02 L99.69,419.80 L99.54,419.59 L99.38,419.39 L99.20,419.20 L99.01,419.02 L98.81,418.86 L98.60,418.71 L98.38,418.57 L98.15,418.45 L98.04,418.40 L93.54,419.26 L93.42,419.39 L93.26,419.59 L93.11,419.80 L92.97,420.02 L92.85,420.25 L92.74,420.48 L92.65,420.73 L92.57,420.98 L92.52,421.23 L92.47,421.48 L92.45,421.74 L92.44,422.00 L92.45,422.26 L92.47,422.52 L92.52,422.77 L92.57,423.02 L92.65,423.27 L92.74,423.52 L92.85,423.75 L92.97,423.98 L93.11,424.20 L93.26,424.41 L93.42,424.61 L93.60,424.80 L93.79,424.98 L93.99,425.14 L94.20,425.29 L94.42,425.43 L94.65,425.55 L94.88,425.66 L95.13,425.75 L95.38,425.83 L95.63,425.88 L95.88,425.93 L96.14,425.95 L96.40,425.96 L96.66,425.95 L96.92,425.93 L97.17,425.88 L97.42,425.83 L97.67,425.75 L97.92,425.66 L97.98,425.63 L100.30,422.68 L100.33,422.52 L100.35,422.26 L100.36,422.00 L100.35,421.74 L100.33,421.48Z" fill="url(#gcell)" stroke="#d0ecec" stroke-width="0.7" stroke-linejoin="round"/><path d="M117.35,423.23 L117.28,422.92 L117.19,422.61 L117.07,422.31 L116.94,422.01 L116.79,421.72 L116.62,421.45 L116.43,421.19 L116.40,421.15 L113.26,419.31 L113.15,419.29 L112.82,419.26 L112.50,419.25 L112.18,419.26 L111.85,419.29 L111.53,419.35 L111.22,419.42 L110.91,419.51 L110.61,419.63 L110.31,419.76 L110.03,419.91 L109.75,420.08 L109.49,420.27 L109.24,420.48 L109.00,420.70 L108.78,420.94 L108.57,421.19 L108.38,421.45 L108.21,421.72 L108.06,422.01 L107.93,422.31 L107.81,422.61 L107.72,422.92 L107.65,423.23 L107.59,423.55 L107.56,423.88 L107.55,424.20 L107.55,424.28 L108.40,426.98 L108.57,427.21 L108.78,427.46 L109.00,427.70 L109.24,427.92 L109.49,428.13 L109.75,428.32 L110.02,428.49 L110.31,428.64 L110.61,428.77 L110.91,428.89 L111.22,428.98 L111.53,429.05 L111.85,429.11 L112.18,429.14 L112.50,429.15 L112.82,429.14 L113.15,429.11 L113.47,429.05 L113.78,428.98 L114.09,428.89 L114.39,428.77 L114.69,428.64 L114.97,428.49 L115.25,428.32 L115.51,428.13 L115.76,427.92 L116.00,427.70 L116.22,427.46 L116.43,427.21 L116.62,426.95 L116.79,426.68 L116.94,426.39 L117.07,426.09 L117.19,425.79 L117.28,425.48 L117.35,425.17 L117.41,424.85 L117.44,424.52 L117.45,424.20 L117.44,423.88 L117.41,423.55 L117.35,423.23Z" fill="url(#gcell)" stroke="#d0ecec" stroke-width="0.7" stroke-linejoin="round"/><path d="M107.36,423.85 L107.14,423.57 L106.89,423.31 L106.63,423.06 L106.35,422.84 L106.06,422.63 L105.75,422.44 L105.43,422.27 L105.10,422.12 L104.77,421.99 L104.42,421.89 L104.07,421.81 L103.72,421.75 L103.36,421.71 L103.00,421.70 L102.64,421.71 L102.28,421.75 L101.93,421.81 L101.58,421.89 L101.23,421.99 L100.90,422.12 L100.66,422.23 L97.61,426.09 L97.61,426.13 L97.55,426.48 L97.51,426.84 L97.50,427.20 L97.51,427.56 L97.55,427.92 L97.61,428.27 L97.69,428.62 L97.79,428.97 L97.92,429.30 L98.07,429.63 L98.24,429.95 L98.43,430.26 L98.64,430.55 L98.86,430.83 L99.11,431.09 L99.37,431.34 L99.65,431.56 L99.94,431.77 L100.25,431.96 L100.57,432.13 L100.90,432.28 L101.23,432.41 L101.58,432.51 L101.93,432.59 L102.28,432.65 L102.64,432.69 L103.00,432.70 L103.36,432.69 L103.72,432.65 L104.07,432.59 L104.42,432.51 L104.77,432.41 L105.10,432.28 L105.43,432.13 L105.75,431.96 L106.06,431.77 L106.35,431.56 L106.63,431.34 L106.89,431.09 L107.14,430.83 L107.36,430.55 L107.57,430.26 L107.76,429.95 L107.93,429.63 L108.08,429.30 L108.21,428.97 L108.31,428.62 L108.39,428.27 L108.45,427.92 L108.49,427.56 L108.50,427.28 L107.46,423.98 L107.36,423.85Z" fill="url(#gcell)" stroke="#d0ecec" stroke-width="0.7" stroke-linejoin="round"/></g>
<g fill="#180c98" fill-opacity="0.45" filter="url(#bl4)"><ellipse cx="109.5" cy="388.4" rx="3.5" ry="2.5"/><ellipse cx="121.0" cy="384.4" rx="2.4" ry="2.2"/><ellipse cx="100.5" cy="392.8" rx="2.3" ry="2.0"/><ellipse cx="93.9" cy="397.1" rx="2.4" ry="3.3"/><ellipse cx="108.2" cy="399.1" rx="2.5" ry="2.4"/><ellipse cx="88.6" cy="405.7" rx="3.1" ry="2.8"/><ellipse cx="102.4" cy="406.4" rx="2.6" ry="2.8"/><ellipse cx="113.0" cy="406.7" rx="2.6" ry="2.9"/><ellipse cx="120.4" cy="406.0" rx="2.2" ry="2.0"/><ellipse cx="86.1" cy="414.1" rx="2.4" ry="3.2"/><ellipse cx="95.6" cy="415.3" rx="2.9" ry="2.6"/><ellipse cx="106.0" cy="417.2" rx="2.5" ry="2.9"/><ellipse cx="118.6" cy="416.0" rx="2.7" ry="2.9"/><ellipse cx="95.9" cy="421.6" rx="2.0" ry="1.9"/><ellipse cx="113.0" cy="424.4" rx="2.8" ry="2.5"/><ellipse cx="102.4" cy="426.6" rx="2.3" ry="2.3"/></g>
<ellipse cx="147.8" cy="403.8" rx="2.2" ry="4" fill="#6050d0" filter="url(#bl3)"/>
</g>
<g clip-path="url(#ci_s2)">
<rect x="151.7" y="376.7" width="79.7" height="55.1" fill="#ecf1ef"/>
<ellipse cx="223" cy="386" rx="10" ry="9" fill="url(#gpink)" filter="url(#bl3)"/>
<g fill="#98a8ec" filter="url(#bl3)"><circle cx="193.8" cy="383.0" r="5.36"/><circle cx="186.0" cy="390.0" r="5.93"/><circle cx="178.3" cy="392.4" r="4.79"/><circle cx="196.2" cy="394.7" r="7.07"/><circle cx="161.1" cy="398.6" r="5.36"/><circle cx="171.2" cy="399.4" r="4.79"/><circle cx="182.2" cy="400.1" r="4.79"/><circle cx="189.2" cy="401.0" r="4.79"/><circle cx="163.5" cy="407.0" r="5.36"/><circle cx="175.1" cy="409.5" r="7.07"/><circle cx="185.3" cy="413.4" r="4.79"/><circle cx="193.8" cy="414.2" r="5.93"/><circle cx="206.3" cy="416.5" r="7.64"/><circle cx="197.7" cy="425.8" r="5.93"/><circle cx="221.9" cy="420.4" r="4.22"/><circle cx="197.7" cy="405.6" r="6.96"/></g>
<g filter="url(#bl3)"><path d="M198.35,382.70 L198.32,382.40 L198.27,382.11 L198.20,381.82 L198.12,381.53 L198.01,381.25 L197.89,380.98 L197.75,380.72 L197.59,380.47 L197.42,380.22 L197.23,379.99 L197.02,379.78 L196.81,379.57 L196.58,379.38 L196.33,379.21 L196.08,379.05 L195.82,378.91 L195.55,378.79 L195.27,378.68 L194.98,378.60 L194.69,378.53 L194.40,378.48 L194.10,378.45 L193.80,378.44 L193.50,378.45 L193.20,378.48 L192.91,378.53 L192.62,378.60 L192.33,378.68 L192.05,378.79 L191.78,378.91 L191.52,379.05 L191.27,379.21 L191.02,379.38 L190.79,379.57 L190.58,379.78 L190.37,379.99 L190.18,380.22 L190.01,380.47 L189.85,380.72 L189.71,380.98 L189.59,381.25 L189.48,381.53 L189.40,381.82 L189.33,382.11 L189.28,382.40 L189.25,382.70 L189.24,383.00 L189.25,383.30 L189.28,383.60 L189.33,383.89 L189.40,384.18 L189.48,384.47 L189.59,384.75 L189.71,385.02 L189.85,385.28 L190.01,385.53 L190.18,385.78 L190.37,386.01 L190.58,386.22 L190.79,386.43 L191.02,386.62 L191.27,386.79 L191.52,386.95 L191.78,387.09 L192.05,387.21 L192.33,387.32 L192.62,387.40 L192.91,387.47 L193.20,387.52 L193.50,387.55 L193.80,387.56 L194.10,387.55 L194.40,387.52 L194.69,387.47 L194.98,387.40 L195.27,387.32 L195.55,387.21 L195.82,387.09 L196.08,386.95 L196.33,386.79 L196.58,386.62 L196.81,386.43 L197.02,386.22 L197.23,386.01 L197.42,385.78 L197.59,385.53 L197.75,385.28 L197.89,385.02 L198.01,384.75 L198.12,384.47 L198.20,384.18 L198.27,383.89 L198.32,383.60 L198.35,383.30 L198.36,383.00 L198.35,382.70Z" fill="url(#gcell4)" stroke="#e8f0fa" stroke-width="0.6" stroke-linejoin="round"/><path d="M191.03,389.00 L190.96,388.67 L190.86,388.35 L190.74,388.04 L190.60,387.73 L190.44,387.44 L190.27,387.15 L190.07,386.88 L189.86,386.62 L189.63,386.37 L189.38,386.14 L189.12,385.93 L188.85,385.73 L188.56,385.56 L188.27,385.40 L187.96,385.26 L187.65,385.14 L187.33,385.04 L187.00,384.97 L186.67,384.91 L186.34,384.88 L186.00,384.87 L185.66,384.88 L185.33,384.91 L185.00,384.97 L184.67,385.04 L184.35,385.14 L184.04,385.26 L183.73,385.40 L183.44,385.56 L183.15,385.73 L182.88,385.93 L182.62,386.14 L182.37,386.37 L182.14,386.62 L181.93,386.88 L181.73,387.15 L181.56,387.44 L181.40,387.73 L181.26,388.04 L181.14,388.35 L181.04,388.67 L180.97,389.00 L180.96,389.05 L182.39,393.65 L182.62,393.86 L182.88,394.07 L183.15,394.27 L183.44,394.44 L183.73,394.60 L184.04,394.74 L184.35,394.86 L184.67,394.96 L185.00,395.03 L185.33,395.09 L185.66,395.12 L186.00,395.13 L186.34,395.12 L186.67,395.09 L187.00,395.03 L187.33,394.96 L187.65,394.86 L187.96,394.74 L188.27,394.60 L188.56,394.44 L188.85,394.27 L189.12,394.07 L189.38,393.86 L189.63,393.63 L189.86,393.38 L190.07,393.12 L190.27,392.85 L190.44,392.56 L190.60,392.27 L190.74,391.96 L190.86,391.65 L190.96,391.33 L191.03,391.00 L191.09,390.67 L191.12,390.34 L191.13,390.00 L191.12,389.66 L191.09,389.33 L191.03,389.00Z" fill="url(#gcell4)" stroke="#e8f0fa" stroke-width="0.6" stroke-linejoin="round"/><path d="M180.93,389.40 L180.73,389.23 L180.52,389.08 L180.30,388.94 L180.06,388.82 L179.83,388.71 L179.58,388.62 L179.33,388.55 L179.08,388.49 L178.82,388.44 L178.56,388.42 L178.30,388.41 L178.04,388.42 L177.78,388.44 L177.52,388.49 L177.27,388.55 L177.02,388.62 L176.77,388.71 L176.54,388.82 L176.31,388.94 L176.08,389.08 L175.87,389.23 L175.67,389.40 L175.48,389.58 L175.30,389.77 L175.13,389.97 L174.98,390.18 L174.84,390.40 L174.72,390.64 L174.61,390.87 L174.52,391.12 L174.45,391.37 L174.39,391.62 L174.34,391.88 L174.32,392.14 L174.31,392.40 L174.32,392.66 L174.34,392.92 L174.39,393.18 L174.45,393.43 L174.52,393.68 L174.61,393.93 L174.72,394.16 L174.84,394.39 L174.98,394.62 L175.13,394.83 L175.30,395.03 L175.48,395.22 L175.67,395.40 L175.87,395.57 L176.08,395.72 L176.31,395.86 L176.54,395.98 L176.77,396.09 L177.02,396.18 L177.27,396.25 L177.52,396.31 L177.78,396.36 L178.04,396.38 L178.30,396.39 L178.56,396.38 L178.82,396.36 L179.08,396.31 L179.33,396.25 L179.58,396.18 L179.83,396.09 L180.06,395.98 L180.30,395.86 L180.52,395.72 L180.73,395.57 L180.93,395.40 L181.12,395.22 L181.30,395.03 L181.47,394.83 L181.62,394.62 L181.76,394.39 L181.88,394.16 L181.99,393.93 L182.08,393.68 L182.15,393.43 L182.21,393.18 L182.23,393.11 L181.13,389.58 L181.12,389.58 L180.93,389.40Z" fill="url(#gcell4)" stroke="#e8f0fa" stroke-width="0.6" stroke-linejoin="round"/><path d="M202.35,393.48 L202.26,393.08 L202.14,392.68 L201.99,392.30 L201.82,391.93 L201.63,391.56 L201.41,391.22 L201.17,390.88 L200.91,390.57 L200.63,390.27 L200.33,389.99 L200.02,389.73 L199.68,389.49 L199.33,389.27 L198.97,389.08 L198.60,388.91 L198.22,388.76 L197.82,388.64 L197.42,388.55 L197.02,388.48 L196.61,388.44 L196.20,388.43 L195.79,388.44 L195.38,388.48 L194.98,388.55 L194.58,388.64 L194.18,388.76 L193.80,388.91 L193.43,389.08 L193.06,389.27 L192.72,389.49 L192.38,389.73 L192.07,389.99 L191.77,390.27 L191.49,390.57 L191.36,390.72 L190.03,393.61 L189.98,393.88 L189.94,394.29 L189.93,394.70 L189.94,395.11 L189.98,395.52 L190.05,395.92 L190.14,396.32 L190.20,396.50 L193.79,400.49 L193.80,400.49 L194.07,400.60 L199.84,399.80 L200.02,399.67 L200.33,399.41 L200.63,399.13 L200.91,398.83 L201.17,398.52 L201.41,398.18 L201.63,397.83 L201.82,397.47 L201.99,397.10 L202.14,396.72 L202.26,396.32 L202.35,395.92 L202.42,395.52 L202.46,395.11 L202.47,394.70 L202.46,394.29 L202.42,393.88 L202.35,393.48Z" fill="url(#gcell4)" stroke="#e8f0fa" stroke-width="0.6" stroke-linejoin="round"/><path d="M165.65,398.30 L165.62,398.00 L165.57,397.71 L165.50,397.42 L165.42,397.13 L165.31,396.85 L165.19,396.58 L165.05,396.32 L164.89,396.07 L164.72,395.82 L164.53,395.59 L164.32,395.38 L164.11,395.17 L163.88,394.98 L163.63,394.81 L163.38,394.65 L163.12,394.51 L162.85,394.39 L162.57,394.28 L162.28,394.20 L161.99,394.13 L161.70,394.08 L161.40,394.05 L161.10,394.04 L160.80,394.05 L160.50,394.08 L160.21,394.13 L159.92,394.20 L159.63,394.28 L159.35,394.39 L159.08,394.51 L158.82,394.65 L158.57,394.81 L158.32,394.98 L158.09,395.17 L157.88,395.38 L157.67,395.59 L157.48,395.82 L157.31,396.07 L157.15,396.32 L157.01,396.58 L156.89,396.85 L156.78,397.13 L156.70,397.42 L156.63,397.71 L156.58,398.00 L156.55,398.30 L156.54,398.60 L156.55,398.90 L156.58,399.20 L156.63,399.49 L156.70,399.78 L156.78,400.07 L156.89,400.35 L157.01,400.62 L157.15,400.88 L157.31,401.13 L157.48,401.38 L157.67,401.61 L157.88,401.82 L158.09,402.03 L158.32,402.22 L158.57,402.39 L158.82,402.55 L159.08,402.69 L159.35,402.81 L159.63,402.92 L159.92,403.00 L160.21,403.07 L160.50,403.12 L160.80,403.15 L161.05,403.16 L163.55,402.44 L163.63,402.39 L163.88,402.22 L164.11,402.03 L164.32,401.82 L164.53,401.61 L164.72,401.38 L164.89,401.13 L165.05,400.88 L165.19,400.62 L165.31,400.35 L165.42,400.07 L165.50,399.78 L165.57,399.49 L165.62,399.20 L165.65,398.90 L165.66,398.60 L165.65,398.30Z" fill="url(#gcell4)" stroke="#e8f0fa" stroke-width="0.6" stroke-linejoin="round"/><path d="M175.18,399.14 L175.16,398.88 L175.11,398.62 L175.05,398.37 L174.98,398.12 L174.89,397.87 L174.78,397.64 L174.66,397.40 L174.52,397.18 L174.37,396.97 L174.20,396.77 L174.02,396.58 L173.83,396.40 L173.63,396.23 L173.42,396.08 L173.19,395.94 L172.96,395.82 L172.73,395.71 L172.48,395.62 L172.23,395.55 L171.98,395.49 L171.72,395.44 L171.46,395.42 L171.20,395.41 L170.94,395.42 L170.68,395.44 L170.42,395.49 L170.17,395.55 L169.92,395.62 L169.67,395.71 L169.44,395.82 L169.20,395.94 L168.98,396.08 L168.77,396.23 L168.57,396.40 L168.38,396.58 L168.20,396.77 L168.03,396.97 L167.88,397.18 L167.74,397.40 L167.62,397.64 L167.51,397.87 L167.42,398.12 L167.35,398.37 L167.29,398.62 L167.24,398.88 L167.22,399.14 L167.21,399.40 L167.22,399.66 L167.24,399.92 L167.29,400.18 L167.35,400.43 L167.42,400.68 L167.51,400.93 L167.62,401.16 L167.74,401.39 L167.88,401.62 L168.03,401.83 L168.20,402.03 L168.38,402.22 L168.57,402.40 L168.77,402.57 L168.98,402.72 L169.20,402.86 L169.44,402.98 L169.67,403.09 L169.92,403.18 L170.17,403.25 L170.42,403.31 L170.68,403.36 L170.94,403.38 L171.20,403.39 L171.46,403.38 L171.72,403.36 L171.98,403.31 L172.23,403.25 L172.48,403.18 L172.73,403.09 L172.96,402.98 L173.19,402.86 L173.42,402.72 L173.63,402.57 L173.83,402.40 L174.02,402.22 L174.20,402.03 L174.37,401.83 L174.52,401.62 L174.66,401.39 L174.78,401.16 L174.89,400.93 L174.98,400.68 L175.05,400.43 L175.11,400.18 L175.16,399.92 L175.18,399.66 L175.19,399.40 L175.18,399.14Z" fill="url(#gcell4)" stroke="#e8f0fa" stroke-width="0.6" stroke-linejoin="round"/><path d="M185.89,398.57 L185.78,398.34 L185.66,398.11 L185.52,397.88 L185.37,397.67 L185.20,397.47 L185.02,397.28 L184.83,397.10 L184.63,396.93 L184.42,396.78 L184.19,396.64 L183.96,396.52 L183.73,396.41 L183.48,396.32 L183.23,396.25 L182.98,396.19 L182.72,396.14 L182.46,396.12 L182.20,396.11 L181.94,396.12 L181.68,396.14 L181.42,396.19 L181.17,396.25 L180.92,396.32 L180.67,396.41 L180.44,396.52 L180.20,396.64 L179.98,396.78 L179.77,396.93 L179.57,397.10 L179.38,397.28 L179.20,397.47 L179.03,397.67 L178.88,397.88 L178.74,398.11 L178.62,398.34 L178.51,398.57 L178.42,398.82 L178.35,399.07 L178.29,399.32 L178.24,399.58 L178.22,399.84 L178.21,400.10 L178.22,400.36 L178.24,400.62 L178.29,400.88 L178.35,401.13 L178.42,401.38 L178.51,401.63 L178.62,401.86 L178.74,402.10 L178.88,402.32 L179.03,402.53 L179.20,402.73 L179.38,402.92 L179.57,403.10 L179.77,403.27 L179.98,403.42 L180.20,403.56 L180.44,403.68 L180.67,403.79 L180.92,403.88 L181.17,403.95 L181.42,404.01 L181.68,404.06 L181.94,404.08 L182.20,404.09 L182.46,404.08 L182.72,404.06 L182.98,404.01 L183.23,403.95 L183.48,403.88 L183.73,403.79 L183.96,403.68 L184.19,403.56 L184.42,403.42 L184.63,403.27 L184.83,403.10 L185.02,402.92 L185.20,402.73 L185.37,402.53 L185.46,402.39 L185.94,398.71 L185.89,398.57Z" fill="url(#gcell4)" stroke="#e8f0fa" stroke-width="0.6" stroke-linejoin="round"/><path d="M193.11,400.22 L193.05,399.97 L192.98,399.72 L192.89,399.49 L191.09,397.49 L190.96,397.42 L190.73,397.31 L190.48,397.22 L190.23,397.15 L189.98,397.09 L189.72,397.04 L189.46,397.02 L189.20,397.01 L188.94,397.02 L188.68,397.04 L188.42,397.09 L188.17,397.15 L187.92,397.22 L187.67,397.31 L187.44,397.42 L187.20,397.54 L186.98,397.68 L186.77,397.83 L186.57,398.00 L186.38,398.18 L186.20,398.37 L186.03,398.57 L185.94,398.71 L185.46,402.39 L185.51,402.53 L185.62,402.76 L185.74,403.00 L185.88,403.22 L186.03,403.43 L186.20,403.63 L186.38,403.82 L186.57,404.00 L186.77,404.17 L186.98,404.32 L187.20,404.46 L187.44,404.58 L187.67,404.69 L187.92,404.78 L188.17,404.85 L188.42,404.91 L188.68,404.96 L188.94,404.98 L189.20,404.99 L189.46,404.98 L189.72,404.96 L189.98,404.91 L190.23,404.85 L190.48,404.78 L190.73,404.69 L190.96,404.58 L191.19,404.46 L191.42,404.32 L191.63,404.17 L191.83,404.00 L192.02,403.82 L192.20,403.63 L192.37,403.43 L192.45,403.31 L192.92,402.45 L192.98,402.28 L193.05,402.03 L193.11,401.78 L193.16,401.52 L193.18,401.26 L193.19,401.00 L193.18,400.74 L193.16,400.48 L193.11,400.22Z" fill="url(#gcell4)" stroke="#e8f0fa" stroke-width="0.6" stroke-linejoin="round"/><path d="M168.05,406.70 L168.02,406.40 L167.97,406.11 L167.90,405.82 L167.82,405.53 L167.71,405.25 L167.59,404.98 L167.45,404.72 L167.29,404.47 L167.12,404.22 L166.93,403.99 L166.72,403.78 L166.51,403.57 L166.28,403.38 L166.03,403.21 L165.78,403.05 L165.52,402.91 L165.25,402.79 L164.97,402.68 L164.68,402.60 L164.39,402.53 L164.10,402.48 L163.80,402.45 L163.55,402.44 L161.05,403.16 L160.97,403.21 L160.72,403.38 L160.49,403.57 L160.28,403.78 L160.07,403.99 L159.88,404.22 L159.71,404.47 L159.55,404.72 L159.41,404.98 L159.29,405.25 L159.18,405.53 L159.10,405.82 L159.03,406.11 L158.98,406.40 L158.95,406.70 L158.94,407.00 L158.95,407.30 L158.98,407.60 L159.03,407.89 L159.10,408.18 L159.18,408.47 L159.29,408.75 L159.41,409.02 L159.55,409.28 L159.71,409.53 L159.88,409.78 L160.07,410.01 L160.28,410.22 L160.49,410.43 L160.72,410.62 L160.97,410.79 L161.22,410.95 L161.48,411.09 L161.75,411.21 L162.03,411.32 L162.32,411.40 L162.61,411.47 L162.90,411.52 L163.20,411.55 L163.50,411.56 L163.80,411.55 L164.10,411.52 L164.39,411.47 L164.68,411.40 L164.97,411.32 L165.25,411.21 L165.52,411.09 L165.78,410.95 L166.03,410.79 L166.28,410.62 L166.51,410.43 L166.72,410.22 L166.93,410.01 L167.12,409.78 L167.29,409.53 L167.45,409.28 L167.59,409.02 L167.71,408.75 L167.82,408.47 L167.90,408.18 L167.97,407.89 L168.02,407.60 L168.05,407.30 L168.06,407.00 L168.05,406.70Z" fill="url(#gcell4)" stroke="#e8f0fa" stroke-width="0.6" stroke-linejoin="round"/><path d="M181.32,408.68 L181.25,408.28 L181.16,407.88 L181.04,407.48 L180.89,407.10 L180.72,406.73 L180.53,406.37 L180.31,406.02 L180.07,405.68 L179.81,405.37 L179.53,405.07 L179.23,404.79 L178.92,404.53 L178.58,404.29 L178.23,404.07 L177.87,403.88 L177.50,403.71 L177.12,403.56 L176.72,403.44 L176.32,403.35 L175.92,403.28 L175.51,403.24 L175.10,403.23 L174.69,403.24 L174.28,403.28 L173.88,403.35 L173.48,403.44 L173.34,403.48 L172.33,403.88 L171.97,404.07 L171.62,404.29 L171.28,404.53 L170.97,404.79 L170.67,405.07 L170.39,405.37 L170.13,405.68 L169.89,406.02 L169.67,406.37 L169.48,406.73 L169.31,407.10 L169.16,407.48 L169.04,407.88 L168.95,408.28 L168.88,408.68 L168.84,409.09 L168.83,409.50 L168.84,409.91 L168.88,410.32 L168.95,410.72 L169.04,411.12 L169.16,411.52 L169.31,411.90 L169.48,412.27 L169.67,412.63 L169.89,412.98 L170.13,413.32 L170.39,413.63 L170.67,413.93 L170.97,414.21 L171.28,414.47 L171.62,414.71 L171.97,414.93 L172.33,415.12 L172.70,415.29 L173.08,415.44 L173.48,415.56 L173.88,415.65 L174.28,415.72 L174.69,415.76 L175.10,415.77 L175.51,415.76 L175.92,415.72 L176.32,415.65 L176.72,415.56 L177.12,415.44 L177.50,415.29 L177.87,415.12 L178.23,414.93 L178.58,414.71 L178.92,414.47 L179.23,414.21 L179.53,413.93 L179.81,413.63 L180.07,413.32 L180.31,412.98 L180.53,412.63 L180.72,412.27 L180.89,411.90 L181.04,411.52 L181.16,411.12 L181.25,410.72 L181.32,410.32 L181.36,409.91 L181.37,409.50 L181.36,409.09 L181.32,408.68Z" fill="url(#gcell4)" stroke="#e8f0fa" stroke-width="0.6" stroke-linejoin="round"/><path d="M189.15,412.37 L189.08,412.12 L188.99,411.87 L188.88,411.64 L188.76,411.40 L188.62,411.18 L188.47,410.97 L188.30,410.77 L188.12,410.58 L187.93,410.40 L187.73,410.23 L187.52,410.08 L187.30,409.94 L187.06,409.82 L186.83,409.71 L186.58,409.62 L186.33,409.55 L186.08,409.49 L185.82,409.44 L185.56,409.42 L185.30,409.41 L185.04,409.42 L184.78,409.44 L184.52,409.49 L184.27,409.55 L184.02,409.62 L183.77,409.71 L183.54,409.82 L183.31,409.94 L183.08,410.08 L182.87,410.23 L182.67,410.40 L182.48,410.58 L182.30,410.77 L182.13,410.97 L181.98,411.18 L181.84,411.40 L181.72,411.64 L181.61,411.87 L181.52,412.12 L181.45,412.37 L181.39,412.62 L181.34,412.88 L181.32,413.14 L181.31,413.40 L181.32,413.66 L181.34,413.92 L181.39,414.18 L181.45,414.43 L181.52,414.68 L181.61,414.93 L181.72,415.16 L181.84,415.39 L181.98,415.62 L182.13,415.83 L182.30,416.03 L182.48,416.22 L182.67,416.40 L182.87,416.57 L183.08,416.72 L183.31,416.86 L183.54,416.98 L183.77,417.09 L184.02,417.18 L184.27,417.25 L184.52,417.31 L184.78,417.36 L185.04,417.38 L185.30,417.39 L185.56,417.38 L185.82,417.36 L186.08,417.31 L186.33,417.25 L186.58,417.18 L186.83,417.09 L187.06,416.98 L187.30,416.86 L187.52,416.72 L187.73,416.57 L187.93,416.40 L188.12,416.22 L188.30,416.03 L188.47,415.83 L188.62,415.62 L188.76,415.39 L188.88,415.16 L188.97,414.96 L189.20,412.55 L189.15,412.37Z" fill="url(#gcell4)" stroke="#e8f0fa" stroke-width="0.6" stroke-linejoin="round"/><path d="M198.83,413.20 L198.76,412.87 L198.66,412.55 L198.54,412.24 L198.40,411.93 L198.24,411.63 L198.17,411.51 L192.94,409.14 L192.80,409.17 L192.47,409.24 L192.15,409.34 L191.84,409.46 L191.53,409.60 L191.24,409.76 L190.95,409.93 L190.68,410.13 L190.42,410.34 L190.17,410.57 L189.94,410.82 L189.73,411.08 L189.53,411.35 L189.36,411.63 L189.27,411.80 L188.90,415.71 L188.94,415.85 L189.06,416.16 L189.20,416.47 L189.36,416.76 L189.53,417.05 L189.73,417.32 L189.94,417.58 L190.17,417.83 L190.42,418.06 L190.68,418.27 L190.95,418.47 L191.24,418.64 L191.53,418.80 L191.84,418.94 L192.15,419.06 L192.47,419.16 L192.80,419.23 L193.13,419.29 L193.46,419.32 L193.80,419.33 L194.14,419.32 L194.47,419.29 L194.80,419.23 L195.13,419.16 L195.45,419.06 L195.76,418.94 L196.07,418.80 L196.37,418.64 L196.65,418.47 L196.92,418.27 L197.18,418.06 L197.43,417.83 L197.66,417.58 L197.87,417.32 L198.07,417.05 L198.24,416.76 L198.40,416.47 L198.54,416.16 L198.66,415.85 L198.76,415.53 L198.83,415.20 L198.89,414.87 L198.92,414.54 L198.93,414.20 L198.92,413.86 L198.89,413.53 L198.83,413.20Z" fill="url(#gcell4)" stroke="#e8f0fa" stroke-width="0.6" stroke-linejoin="round"/><path d="M213.01,415.17 L212.91,414.73 L212.78,414.30 L212.62,413.88 L212.43,413.47 L212.22,413.08 L211.99,412.70 L211.73,412.34 L211.44,411.99 L211.14,411.66 L210.81,411.36 L210.46,411.07 L210.10,410.81 L209.72,410.58 L209.33,410.37 L208.92,410.18 L208.50,410.02 L208.07,409.89 L207.63,409.79 L207.19,409.72 L206.75,409.67 L206.30,409.66 L205.85,409.67 L205.41,409.72 L204.97,409.79 L204.53,409.89 L204.10,410.02 L203.68,410.18 L203.27,410.37 L202.88,410.58 L202.50,410.81 L202.14,411.07 L201.79,411.36 L201.46,411.66 L201.16,411.99 L200.87,412.34 L200.61,412.70 L200.38,413.08 L200.17,413.47 L199.98,413.88 L199.82,414.30 L199.69,414.73 L199.59,415.17 L199.52,415.61 L199.47,416.05 L199.46,416.50 L199.47,416.95 L199.52,417.39 L199.59,417.83 L199.69,418.27 L199.82,418.70 L199.98,419.12 L200.17,419.53 L200.38,419.92 L200.61,420.30 L200.87,420.66 L201.16,421.01 L201.46,421.34 L201.79,421.64 L202.14,421.93 L202.50,422.19 L202.88,422.42 L203.27,422.63 L203.68,422.82 L204.10,422.98 L204.53,423.11 L204.97,423.21 L205.41,423.28 L205.85,423.33 L206.30,423.34 L206.75,423.33 L207.19,423.28 L207.63,423.21 L208.07,423.11 L208.50,422.98 L208.92,422.82 L209.33,422.63 L209.72,422.42 L210.10,422.19 L210.46,421.93 L210.81,421.64 L211.14,421.34 L211.44,421.01 L211.73,420.66 L211.99,420.30 L212.22,419.92 L212.43,419.53 L212.62,419.12 L212.78,418.70 L212.91,418.27 L213.01,417.83 L213.08,417.39 L213.13,416.95 L213.14,416.50 L213.13,416.05 L213.08,415.61 L213.01,415.17Z" fill="url(#gcell4)" stroke="#e8f0fa" stroke-width="0.6" stroke-linejoin="round"/><path d="M202.82,425.46 L202.79,425.13 L202.73,424.80 L202.66,424.47 L202.56,424.15 L202.44,423.84 L202.30,423.53 L202.14,423.24 L201.97,422.95 L201.77,422.68 L201.56,422.42 L201.33,422.17 L201.08,421.94 L200.82,421.73 L200.55,421.53 L200.26,421.36 L199.97,421.20 L199.66,421.06 L199.35,420.94 L199.03,420.84 L198.70,420.77 L198.37,420.71 L198.04,420.68 L197.70,420.67 L197.36,420.68 L197.03,420.71 L196.70,420.77 L196.37,420.84 L196.05,420.94 L195.74,421.06 L195.43,421.20 L195.13,421.36 L194.85,421.53 L194.58,421.73 L194.32,421.94 L194.07,422.17 L193.84,422.42 L193.63,422.68 L193.43,422.95 L193.26,423.24 L193.10,423.53 L192.96,423.84 L192.84,424.15 L192.74,424.47 L192.67,424.80 L192.61,425.13 L192.58,425.46 L192.57,425.80 L192.58,426.14 L192.61,426.47 L192.67,426.80 L192.74,427.13 L192.84,427.45 L192.96,427.76 L193.10,428.07 L193.26,428.37 L193.43,428.65 L193.63,428.92 L193.84,429.18 L194.07,429.43 L194.32,429.66 L194.58,429.87 L194.85,430.07 L195.13,430.24 L195.43,430.40 L195.74,430.54 L196.05,430.66 L196.37,430.76 L196.70,430.83 L197.03,430.89 L197.36,430.92 L197.70,430.93 L198.04,430.92 L198.37,430.89 L198.70,430.83 L199.03,430.76 L199.35,430.66 L199.66,430.54 L199.97,430.40 L200.26,430.24 L200.55,430.07 L200.82,429.87 L201.08,429.66 L201.33,429.43 L201.56,429.18 L201.77,428.92 L201.97,428.65 L202.14,428.37 L202.30,428.07 L202.44,427.76 L202.56,427.45 L202.66,427.13 L202.73,426.80 L202.79,426.47 L202.82,426.14 L202.83,425.80 L202.82,425.46Z" fill="url(#gcell4)" stroke="#e8f0fa" stroke-width="0.6" stroke-linejoin="round"/><path d="M225.32,420.40 L225.31,420.18 L225.29,419.95 L225.25,419.73 L225.20,419.51 L225.14,419.30 L225.06,419.09 L224.97,418.89 L224.86,418.69 L224.74,418.50 L224.61,418.32 L224.47,418.15 L224.32,417.98 L224.15,417.83 L223.98,417.69 L223.80,417.56 L223.61,417.44 L223.41,417.33 L223.21,417.24 L223.00,417.16 L222.79,417.10 L222.57,417.05 L222.35,417.01 L222.12,416.99 L221.90,416.98 L221.68,416.99 L221.45,417.01 L221.23,417.05 L221.01,417.10 L220.80,417.16 L220.59,417.24 L220.39,417.33 L220.19,417.44 L220.00,417.56 L219.82,417.69 L219.65,417.83 L219.48,417.98 L219.33,418.15 L219.19,418.32 L219.06,418.50 L218.94,418.69 L218.83,418.89 L218.74,419.09 L218.66,419.30 L218.60,419.51 L218.55,419.73 L218.51,419.95 L218.49,420.18 L218.48,420.40 L218.49,420.62 L218.51,420.85 L218.55,421.07 L218.60,421.29 L218.66,421.50 L218.74,421.71 L218.83,421.91 L218.94,422.11 L219.06,422.30 L219.19,422.48 L219.33,422.65 L219.48,422.82 L219.65,422.97 L219.82,423.11 L220.00,423.24 L220.19,423.36 L220.39,423.47 L220.59,423.56 L220.80,423.64 L221.01,423.70 L221.23,423.75 L221.45,423.79 L221.68,423.81 L221.90,423.82 L222.12,423.81 L222.35,423.79 L222.57,423.75 L222.79,423.70 L223.00,423.64 L223.21,423.56 L223.41,423.47 L223.61,423.36 L223.80,423.24 L223.98,423.11 L224.15,422.97 L224.32,422.82 L224.47,422.65 L224.61,422.48 L224.74,422.30 L224.86,422.11 L224.97,421.91 L225.06,421.71 L225.14,421.50 L225.20,421.29 L225.25,421.07 L225.29,420.85 L225.31,420.62 L225.32,420.40Z" fill="url(#gcell4)" stroke="#e8f0fa" stroke-width="0.6" stroke-linejoin="round"/><path d="M203.65,404.01 L203.53,403.62 L203.39,403.24 L203.22,402.88 L203.03,402.52 L202.82,402.18 L202.58,401.85 L202.33,401.54 L202.05,401.25 L201.76,400.97 L201.45,400.72 L201.12,400.48 L200.78,400.27 L200.42,400.08 L200.06,399.91 L199.78,399.81 L194.13,400.59 L193.95,400.72 L193.77,400.86 L191.59,404.91 L191.56,405.20 L191.54,405.60 L191.56,406.00 L191.60,406.40 L191.66,406.80 L191.75,407.19 L191.87,407.58 L192.01,407.96 L192.18,408.32 L192.37,408.68 L192.55,408.97 L198.56,411.69 L198.90,411.64 L199.29,411.55 L199.68,411.43 L200.06,411.29 L200.42,411.12 L200.78,410.93 L201.12,410.72 L201.45,410.48 L201.76,410.23 L202.05,409.95 L202.33,409.66 L202.58,409.35 L202.82,409.02 L203.03,408.68 L203.22,408.32 L203.39,407.96 L203.53,407.58 L203.65,407.19 L203.74,406.80 L203.80,406.40 L203.84,406.00 L203.86,405.60 L203.84,405.20 L203.80,404.80 L203.74,404.40 L203.65,404.01Z" fill="url(#gcell4)" stroke="#e8f0fa" stroke-width="0.6" stroke-linejoin="round"/></g>
<g fill="#3010a8" fill-opacity="0.45" filter="url(#bl4)"><ellipse cx="193.5" cy="382.3" rx="2.3" ry="2.5"/><ellipse cx="185.8" cy="390.4" rx="2.9" ry="2.9"/><ellipse cx="178.7" cy="391.9" rx="2.2" ry="2.1"/><ellipse cx="196.8" cy="394.2" rx="2.6" ry="2.8"/><ellipse cx="160.4" cy="399.4" rx="1.9" ry="2.2"/><ellipse cx="171.8" cy="399.5" rx="1.6" ry="2.0"/><ellipse cx="181.3" cy="400.5" rx="1.9" ry="2.1"/><ellipse cx="190.1" cy="401.0" rx="1.8" ry="1.7"/><ellipse cx="164.1" cy="407.6" rx="2.5" ry="2.5"/><ellipse cx="174.6" cy="409.0" rx="3.0" ry="3.4"/><ellipse cx="185.1" cy="413.9" rx="1.7" ry="1.9"/><ellipse cx="193.5" cy="414.7" rx="2.3" ry="2.8"/><ellipse cx="205.6" cy="416.6" rx="3.9" ry="2.9"/><ellipse cx="197.4" cy="425.6" rx="2.4" ry="2.8"/><ellipse cx="222.2" cy="420.6" rx="1.6" ry="1.4"/><ellipse cx="197.6" cy="406.1" rx="3.0" ry="3.1"/></g>
<g fill="#e8e0f4" fill-opacity="0.6" filter="url(#bl3)"><circle cx="185.3" cy="413.4" r="0.88"/></g>
<circle cx="188.4" cy="422.7" r="2.30" fill="#e8dcf0" stroke="#9050c0" stroke-width="1.8" filter="url(#bl3)"/>
<circle cx="210.2" cy="426.6" r="2.70" fill="#e8dcf0" stroke="#9050c0" stroke-width="1.8" filter="url(#bl3)"/>
<circle cx="223.4" cy="412.6" r="2.70" fill="#e8dcf0" stroke="#9050c0" stroke-width="1.8" filter="url(#bl3)"/>
<ellipse cx="197.7" cy="405.6" rx="5.0" ry="4.8" fill="#b070c4" filter="url(#bl3)"/>
<circle cx="204.7" cy="399.4" r="2.0" fill="#201090" filter="url(#bl3)"/>
<circle cx="205.5" cy="409.5" r="2.0" fill="#201090" filter="url(#bl3)"/>
<circle cx="179.8" cy="418.0" r="2.4" fill="#201090" filter="url(#bl3)"/>
<circle cx="216.4" cy="417.3" r="2.4" fill="#201090" filter="url(#bl3)"/>
<ellipse cx="153.5" cy="411" rx="2.5" ry="4" fill="#8060d0" filter="url(#bl3)"/>
</g>
<rect x="0.5" y="0.5" width="518.6" height="438.2" fill="none" stroke="#000" stroke-width="1.2"/>
<rect x="518.4" y="0" width="1.6" height="440" fill="#000"/>
<rect x="0" y="438.2" width="520" height="1.8" fill="#000"/>
</svg>
</body></html>
